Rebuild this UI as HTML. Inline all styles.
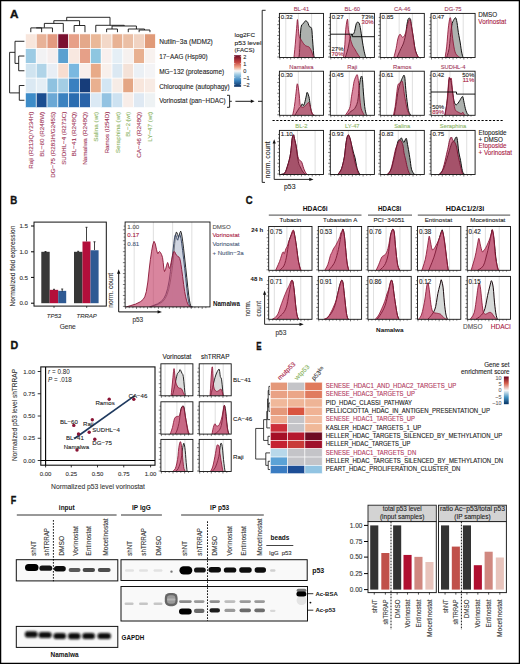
<!DOCTYPE html>
<html><head><meta charset="utf-8"><title>Figure</title>
<style>
html,body{margin:0;padding:0;background:#fff;}
body{width:520px;height:664px;overflow:hidden;}
svg{display:block;font-family:"Liberation Sans", sans-serif;}
</style></head><body>
<svg width="520" height="664" viewBox="0 0 520 664">
<rect x="0" y="0" width="520" height="664" fill="#fff"/>
<text x="10.00" y="17.70" font-size="11.2" fill="#111" font-weight="bold" textLength="8.5" lengthAdjust="spacingAndGlyphs" stroke="#111" stroke-width="0.35">A</text>
<rect x="25.40" y="33.90" width="10.83" height="14.75" fill="#f8e6dc" stroke="#fff" stroke-width="0.65" />
<rect x="36.23" y="33.90" width="10.83" height="14.75" fill="#e8b298" stroke="#fff" stroke-width="0.65" />
<rect x="47.06" y="33.90" width="10.83" height="14.75" fill="#e39a80" stroke="#fff" stroke-width="0.65" />
<rect x="57.89" y="33.90" width="10.83" height="14.75" fill="#7a1030" stroke="#fff" stroke-width="0.65" />
<rect x="68.72" y="33.90" width="10.83" height="14.75" fill="#e7a088" stroke="#fff" stroke-width="0.65" />
<rect x="79.55" y="33.90" width="10.83" height="14.75" fill="#e4a88a" stroke="#fff" stroke-width="0.65" />
<rect x="90.38" y="33.90" width="10.83" height="14.75" fill="#eab898" stroke="#fff" stroke-width="0.65" />
<rect x="101.21" y="33.90" width="10.83" height="14.75" fill="#f3d8c8" stroke="#fff" stroke-width="0.65" />
<rect x="112.04" y="33.90" width="10.83" height="14.75" fill="#e8b294" stroke="#fff" stroke-width="0.65" />
<rect x="122.87" y="33.90" width="10.83" height="14.75" fill="#ebbfa5" stroke="#fff" stroke-width="0.65" />
<rect x="133.70" y="33.90" width="10.83" height="14.75" fill="#f1d3c2" stroke="#fff" stroke-width="0.65" />
<rect x="144.53" y="33.90" width="10.83" height="14.75" fill="#e09a78" stroke="#fff" stroke-width="0.65" />
<rect x="25.40" y="48.65" width="10.83" height="14.75" fill="#9ccbe4" stroke="#fff" stroke-width="0.65" />
<rect x="36.23" y="48.65" width="10.83" height="14.75" fill="#f2f2f4" stroke="#fff" stroke-width="0.65" />
<rect x="47.06" y="48.65" width="10.83" height="14.75" fill="#f5eeee" stroke="#fff" stroke-width="0.65" />
<rect x="57.89" y="48.65" width="10.83" height="14.75" fill="#5aa0d0" stroke="#fff" stroke-width="0.65" />
<rect x="68.72" y="48.65" width="10.83" height="14.75" fill="#f8e8e0" stroke="#fff" stroke-width="0.65" />
<rect x="79.55" y="48.65" width="10.83" height="14.75" fill="#e6a088" stroke="#fff" stroke-width="0.65" />
<rect x="90.38" y="48.65" width="10.83" height="14.75" fill="#8ec6e0" stroke="#fff" stroke-width="0.65" />
<rect x="101.21" y="48.65" width="10.83" height="14.75" fill="#f8f0ee" stroke="#fff" stroke-width="0.65" />
<rect x="112.04" y="48.65" width="10.83" height="14.75" fill="#e5eff6" stroke="#fff" stroke-width="0.65" />
<rect x="122.87" y="48.65" width="10.83" height="14.75" fill="#f6f1ef" stroke="#fff" stroke-width="0.65" />
<rect x="133.70" y="48.65" width="10.83" height="14.75" fill="#e8b090" stroke="#fff" stroke-width="0.65" />
<rect x="144.53" y="48.65" width="10.83" height="14.75" fill="#f8f2ef" stroke="#fff" stroke-width="0.65" />
<rect x="25.40" y="63.40" width="10.83" height="14.75" fill="#d0e4f0" stroke="#fff" stroke-width="0.65" />
<rect x="36.23" y="63.40" width="10.83" height="14.75" fill="#b0d4e8" stroke="#fff" stroke-width="0.65" />
<rect x="47.06" y="63.40" width="10.83" height="14.75" fill="#e8eef5" stroke="#fff" stroke-width="0.65" />
<rect x="57.89" y="63.40" width="10.83" height="14.75" fill="#f7ddd0" stroke="#fff" stroke-width="0.65" />
<rect x="68.72" y="63.40" width="10.83" height="14.75" fill="#7ab8e0" stroke="#fff" stroke-width="0.65" />
<rect x="79.55" y="63.40" width="10.83" height="14.75" fill="#f9efec" stroke="#fff" stroke-width="0.65" />
<rect x="90.38" y="63.40" width="10.83" height="14.75" fill="#e8aa88" stroke="#fff" stroke-width="0.65" />
<rect x="101.21" y="63.40" width="10.83" height="14.75" fill="#f8f0ec" stroke="#fff" stroke-width="0.65" />
<rect x="112.04" y="63.40" width="10.83" height="14.75" fill="#dbe8f2" stroke="#fff" stroke-width="0.65" />
<rect x="122.87" y="63.40" width="10.83" height="14.75" fill="#f4e2d8" stroke="#fff" stroke-width="0.65" />
<rect x="133.70" y="63.40" width="10.83" height="14.75" fill="#ebf0f5" stroke="#fff" stroke-width="0.65" />
<rect x="144.53" y="63.40" width="10.83" height="14.75" fill="#f4f4f6" stroke="#fff" stroke-width="0.65" />
<rect x="25.40" y="78.15" width="10.83" height="14.75" fill="#dbe9f3" stroke="#fff" stroke-width="0.65" />
<rect x="36.23" y="78.15" width="10.83" height="14.75" fill="#e4eef5" stroke="#fff" stroke-width="0.65" />
<rect x="47.06" y="78.15" width="10.83" height="14.75" fill="#8fc2e0" stroke="#fff" stroke-width="0.65" />
<rect x="57.89" y="78.15" width="10.83" height="14.75" fill="#a4cde4" stroke="#fff" stroke-width="0.65" />
<rect x="68.72" y="78.15" width="10.83" height="14.75" fill="#3a80c0" stroke="#fff" stroke-width="0.65" />
<rect x="79.55" y="78.15" width="10.83" height="14.75" fill="#173d7a" stroke="#fff" stroke-width="0.65" />
<rect x="90.38" y="78.15" width="10.83" height="14.75" fill="#e9b090" stroke="#fff" stroke-width="0.65" />
<rect x="101.21" y="78.15" width="10.83" height="14.75" fill="#d3e6f3" stroke="#fff" stroke-width="0.65" />
<rect x="112.04" y="78.15" width="10.83" height="14.75" fill="#f6ece6" stroke="#fff" stroke-width="0.65" />
<rect x="122.87" y="78.15" width="10.83" height="14.75" fill="#e4a684" stroke="#fff" stroke-width="0.65" />
<rect x="133.70" y="78.15" width="10.83" height="14.75" fill="#f8e6dc" stroke="#fff" stroke-width="0.65" />
<rect x="144.53" y="78.15" width="10.83" height="14.75" fill="#f8ebe4" stroke="#fff" stroke-width="0.65" />
<rect x="25.40" y="92.90" width="10.83" height="14.75" fill="#3d8cc8" stroke="#fff" stroke-width="0.65" />
<rect x="36.23" y="92.90" width="10.83" height="14.75" fill="#1a4d90" stroke="#fff" stroke-width="0.65" />
<rect x="47.06" y="92.90" width="10.83" height="14.75" fill="#6ba8d5" stroke="#fff" stroke-width="0.65" />
<rect x="57.89" y="92.90" width="10.83" height="14.75" fill="#3b82c0" stroke="#fff" stroke-width="0.65" />
<rect x="68.72" y="92.90" width="10.83" height="14.75" fill="#2a6cb0" stroke="#fff" stroke-width="0.65" />
<rect x="79.55" y="92.90" width="10.83" height="14.75" fill="#2a63a8" stroke="#fff" stroke-width="0.65" />
<rect x="90.38" y="92.90" width="10.83" height="14.75" fill="#dbe9f4" stroke="#fff" stroke-width="0.65" />
<rect x="101.21" y="92.90" width="10.83" height="14.75" fill="#93c3e2" stroke="#fff" stroke-width="0.65" />
<rect x="112.04" y="92.90" width="10.83" height="14.75" fill="#cde2f1" stroke="#fff" stroke-width="0.65" />
<rect x="122.87" y="92.90" width="10.83" height="14.75" fill="#f8ede8" stroke="#fff" stroke-width="0.65" />
<rect x="133.70" y="92.90" width="10.83" height="14.75" fill="#dfe9f3" stroke="#fff" stroke-width="0.65" />
<rect x="144.53" y="92.90" width="10.83" height="14.75" fill="#eef2f4" stroke="#fff" stroke-width="0.65" />
<text x="159.20" y="44.27" font-size="6.5" fill="#222" textLength="53.6" lengthAdjust="spacingAndGlyphs" stroke="#222" stroke-width="0.1" >Nutlin−3a (MDM2)</text>
<text x="159.20" y="59.02" font-size="6.5" fill="#222" textLength="48.5" lengthAdjust="spacingAndGlyphs" stroke="#222" stroke-width="0.1" >17−AAG (Hsp90)</text>
<text x="159.20" y="73.78" font-size="6.5" fill="#222" textLength="65" lengthAdjust="spacingAndGlyphs" stroke="#222" stroke-width="0.1" >MG−132 (proteasome)</text>
<text x="159.20" y="88.53" font-size="6.5" fill="#222" textLength="70.4" lengthAdjust="spacingAndGlyphs" stroke="#222" stroke-width="0.1" >Chloroquine (autophagy)</text>
<text x="159.20" y="103.28" font-size="6.5" fill="#222" textLength="66.5" lengthAdjust="spacingAndGlyphs" stroke="#222" stroke-width="0.1" >Vorinostat (pan−HDAC)</text>
<text x="33.02" y="111.80" font-size="6.1" fill="#a33a5c" text-anchor="end" textLength="57" lengthAdjust="spacingAndGlyphs" transform="rotate(-90 33.02 111.80)" stroke="#a33a5c" stroke-width="0.1" >Raji (R213Q/Y234H)</text>
<text x="43.84" y="111.80" font-size="6.1" fill="#a33a5c" text-anchor="end" textLength="45" lengthAdjust="spacingAndGlyphs" transform="rotate(-90 43.84 111.80)" stroke="#a33a5c" stroke-width="0.1" >BL−60 (R248W)</text>
<text x="54.67" y="111.80" font-size="6.1" fill="#a33a5c" text-anchor="end" textLength="66" lengthAdjust="spacingAndGlyphs" transform="rotate(-90 54.67 111.80)" stroke="#a33a5c" stroke-width="0.1" >DG−75 (R283H/G245S)</text>
<text x="65.51" y="111.80" font-size="6.1" fill="#a33a5c" text-anchor="end" textLength="53" lengthAdjust="spacingAndGlyphs" transform="rotate(-90 65.51 111.80)" stroke="#a33a5c" stroke-width="0.1" >SUDHL−4 (R273C)</text>
<text x="76.33" y="111.80" font-size="6.1" fill="#a33a5c" text-anchor="end" textLength="44.6" lengthAdjust="spacingAndGlyphs" transform="rotate(-90 76.33 111.80)" stroke="#a33a5c" stroke-width="0.1" >BL−41 (R248Q)</text>
<text x="87.17" y="111.80" font-size="6.1" fill="#a33a5c" text-anchor="end" textLength="53" lengthAdjust="spacingAndGlyphs" transform="rotate(-90 87.17 111.80)" stroke="#a33a5c" stroke-width="0.1" >Namalwa (R248Q)</text>
<text x="97.99" y="111.80" font-size="6.1" fill="#8db565" text-anchor="end" textLength="30" lengthAdjust="spacingAndGlyphs" transform="rotate(-90 97.99 111.80)" stroke="#8db565" stroke-width="0.1" >Salina (wt)</text>
<text x="108.83" y="111.80" font-size="6.1" fill="#a33a5c" text-anchor="end" textLength="41.5" lengthAdjust="spacingAndGlyphs" transform="rotate(-90 108.83 111.80)" stroke="#a33a5c" stroke-width="0.1" >Ramos (I254D)</text>
<text x="119.66" y="111.80" font-size="6.1" fill="#8db565" text-anchor="end" textLength="41.5" lengthAdjust="spacingAndGlyphs" transform="rotate(-90 119.66 111.80)" stroke="#8db565" stroke-width="0.1" >Seraphina (wt)</text>
<text x="130.48" y="111.80" font-size="6.1" fill="#8db565" text-anchor="end" textLength="25" lengthAdjust="spacingAndGlyphs" transform="rotate(-90 130.48 111.80)" stroke="#8db565" stroke-width="0.1" >BL−2 (wt)</text>
<text x="141.31" y="111.80" font-size="6.1" fill="#a33a5c" text-anchor="end" textLength="46" lengthAdjust="spacingAndGlyphs" transform="rotate(-90 141.31 111.80)" stroke="#a33a5c" stroke-width="0.1" >CA−46 (R248Q)</text>
<text x="152.14" y="111.80" font-size="6.1" fill="#8db565" text-anchor="end" textLength="30" lengthAdjust="spacingAndGlyphs" transform="rotate(-90 152.14 111.80)" stroke="#8db565" stroke-width="0.1" >LY−47 (wt)</text>
<path d="M30.81,32.20V27.90H41.64V32.20 M36.23,27.90V27.90H52.47V32.20 M44.35,27.60V23.40H63.30V32.20 M74.13,32.20V25.50H84.97V32.20 M53.83,23.40V20.70H79.55V25.50 M139.12,32.20V30.00H149.94V32.20 M128.28,32.20V29.00H144.53V30.00 M106.62,32.20V29.00H117.46V32.20 M112.04,29.00V26.00H136.41V29.00 M95.79,32.20V25.30H124.22V26.00 M66.69,20.70V17.30H110.01V25.30" stroke="#111" stroke-width="0.9" fill="none"/>
<path d="M24.40,56.02H18.70V70.78H24.40 M24.40,41.27H15.00V63.40H18.70 M24.40,85.53H19.30V100.28H24.40 M15.00,52.34H9.60V92.90H19.30" stroke="#111" stroke-width="0.9" fill="none"/>
<text x="234.50" y="36.60" font-size="6.2" fill="#222" textLength="20.5" lengthAdjust="spacingAndGlyphs" stroke="#222" stroke-width="0.1" >log2FC</text>
<text x="234.50" y="44.60" font-size="6.2" fill="#222" textLength="27" lengthAdjust="spacingAndGlyphs" stroke="#222" stroke-width="0.1" >p53 level</text>
<text x="234.50" y="52.40" font-size="6.2" fill="#222" textLength="20" lengthAdjust="spacingAndGlyphs" stroke="#222" stroke-width="0.1" >(FACS)</text>
<defs><linearGradient id="gA" x1="0" y1="0" x2="0" y2="1"><stop offset="0" stop-color="#6b0a26"/><stop offset="0.22" stop-color="#c5443f"/><stop offset="0.38" stop-color="#f0a78a"/><stop offset="0.5" stop-color="#f7f7f7"/><stop offset="0.62" stop-color="#9bc8e2"/><stop offset="0.8" stop-color="#3c85c0"/><stop offset="1" stop-color="#0d3062"/></linearGradient></defs>
<rect x="234.10" y="55.20" width="7.00" height="31.60" fill="url(#gA)" />
<text x="243.30" y="58.80" font-size="5.6" fill="#333" stroke="#333" stroke-width="0.1" >2</text>
<line x1="234.10" y1="56.60" x2="235.30" y2="56.60" stroke="#fff" stroke-width="0.5" />
<line x1="239.90" y1="56.60" x2="241.10" y2="56.60" stroke="#fff" stroke-width="0.5" />
<text x="243.30" y="65.70" font-size="5.6" fill="#333" stroke="#333" stroke-width="0.1" >1</text>
<line x1="234.10" y1="63.50" x2="235.30" y2="63.50" stroke="#fff" stroke-width="0.5" />
<line x1="239.90" y1="63.50" x2="241.10" y2="63.50" stroke="#fff" stroke-width="0.5" />
<text x="243.30" y="72.90" font-size="5.6" fill="#333" stroke="#333" stroke-width="0.1" >0</text>
<line x1="234.10" y1="70.70" x2="235.30" y2="70.70" stroke="#fff" stroke-width="0.5" />
<line x1="239.90" y1="70.70" x2="241.10" y2="70.70" stroke="#fff" stroke-width="0.5" />
<text x="243.30" y="79.80" font-size="5.6" fill="#333" stroke="#333" stroke-width="0.1" >−1</text>
<line x1="234.10" y1="77.60" x2="235.30" y2="77.60" stroke="#fff" stroke-width="0.5" />
<line x1="239.90" y1="77.60" x2="241.10" y2="77.60" stroke="#fff" stroke-width="0.5" />
<text x="243.30" y="86.80" font-size="5.6" fill="#333" stroke="#333" stroke-width="0.1" >−2</text>
<line x1="234.10" y1="84.60" x2="235.30" y2="84.60" stroke="#fff" stroke-width="0.5" />
<line x1="239.90" y1="84.60" x2="241.10" y2="84.60" stroke="#fff" stroke-width="0.5" />
<path d="M227.0,95.3 H229.6 V107.3 H227.0 M229.6,101.3 H231.8" stroke="#111" stroke-width="0.9" fill="none"/>
<line x1="235.40" y1="101.30" x2="252.00" y2="101.30" stroke="#000" stroke-width="0.9" />
<path d="M254.6,101.3 L250.8,99.6 L250.8,103.0 Z" fill="#111"/>
<line x1="258.00" y1="101.30" x2="262.20" y2="101.30" stroke="#000" stroke-width="0.9" />
<path d="M265.6,10.3 H262.2 V182.4 H265.0" stroke="#111" stroke-width="0.9" fill="none"/>
<rect x="279.40" y="13.40" width="44.10" height="44.10" fill="#fff" />
<line x1="285.79" y1="13.40" x2="285.79" y2="57.50" stroke="#c9c9c9" stroke-width="0.6" />
<line x1="298.36" y1="13.40" x2="298.36" y2="57.50" stroke="#c9c9c9" stroke-width="0.6" />
<line x1="311.59" y1="13.40" x2="311.59" y2="57.50" stroke="#c9c9c9" stroke-width="0.6" />
<path d="M297.04,57.50 L297.60,57.50 L298.39,57.47 L299.02,56.62 L299.32,54.98 L299.47,52.57 L299.69,48.68 L300.04,41.97 L300.46,33.78 L301.01,27.51 L301.75,24.87 L302.62,24.13 L303.43,23.54 L304.12,22.42 L304.76,21.44 L305.42,20.90 L306.15,20.93 L306.91,21.40 L307.62,22.22 L308.23,23.56 L308.78,25.24 L309.39,26.63 L310.14,27.10 L310.94,27.28 L311.59,28.39 L311.97,30.91 L312.20,34.36 L312.47,38.54 L312.90,44.17 L313.37,50.54 L313.80,55.30 L314.16,57.19 L314.47,57.47 L314.68,57.50 Z" fill="#a6aaa7" fill-opacity="0.92" stroke="none"/>
<path d="M297.04,57.50 L297.60,57.50 L298.39,57.47 L299.02,56.62 L299.32,54.98 L299.47,52.57 L299.69,48.68 L300.04,41.97 L300.46,33.78 L301.01,27.51 L301.75,24.87 L302.62,24.13 L303.43,23.54 L304.12,22.42 L304.76,21.44 L305.42,20.90 L306.15,20.93 L306.91,21.40 L307.62,22.22 L308.23,23.56 L308.78,25.24 L309.39,26.63 L310.14,27.10 L310.94,27.28 L311.59,28.39 L311.97,30.91 L312.20,34.36 L312.47,38.54 L312.90,44.17 L313.37,50.54 L313.80,55.30 L314.16,57.19 L314.47,57.47 L314.68,57.50" fill="none" stroke="#111" stroke-width="1.0" stroke-linejoin="round"/>
<path d="M293.95,57.50 L294.30,54.17 L294.79,49.37 L295.28,44.27 L295.73,38.91 L296.19,33.26 L296.60,28.39 L296.93,24.28 L297.20,20.95 L297.48,19.57 L297.77,21.24 L298.07,24.87 L298.36,28.39 L298.61,31.25 L298.85,34.01 L299.25,36.33 L299.89,37.98 L300.68,39.19 L301.45,40.30 L302.13,41.43 L302.78,42.46 L303.43,43.39 L304.09,44.24 L304.74,44.99 L305.42,45.59 L306.15,45.98 L306.91,46.23 L307.62,46.48 L308.23,46.65 L308.78,46.83 L309.39,47.36 L310.11,48.40 L310.87,49.79 L311.59,51.33 L312.25,53.16 L312.85,55.13 L313.36,56.62 L313.75,57.27 L314.04,57.43 L314.24,57.50 Z" fill="#c0305a" fill-opacity="0.58" stroke="none"/>
<path d="M293.95,57.50 L294.30,54.17 L294.79,49.37 L295.28,44.27 L295.73,38.91 L296.19,33.26 L296.60,28.39 L296.93,24.28 L297.20,20.95 L297.48,19.57 L297.77,21.24 L298.07,24.87 L298.36,28.39 L298.61,31.25 L298.85,34.01 L299.25,36.33 L299.89,37.98 L300.68,39.19 L301.45,40.30 L302.13,41.43 L302.78,42.46 L303.43,43.39 L304.09,44.24 L304.74,44.99 L305.42,45.59 L306.15,45.98 L306.91,46.23 L307.62,46.48 L308.23,46.65 L308.78,46.83 L309.39,47.36 L310.11,48.40 L310.87,49.79 L311.59,51.33 L312.25,53.16 L312.85,55.13 L313.36,56.62 L313.75,57.27 L314.04,57.43 L314.24,57.50" fill="none" stroke="#8a1535" stroke-width="0.85" stroke-linejoin="round"/>
<rect x="279.40" y="13.40" width="44.10" height="44.10" fill="none" stroke="#111" stroke-width="0.9" />
<path d="M277.20,57.00h2.20 M278.00,53.41h1.40 M278.00,49.82h1.40 M277.20,46.23h2.20 M278.00,42.63h1.40 M278.00,39.04h1.40 M277.20,35.45h2.20 M278.00,31.86h1.40 M278.00,28.27h1.40 M277.20,24.67h2.20 M278.00,21.08h1.40 M278.00,17.49h1.40 M279.90,57.50v2.00 M283.49,57.50v1.30 M287.08,57.50v1.30 M290.67,57.50v2.00 M294.27,57.50v1.30 M297.86,57.50v1.30 M301.45,57.50v2.00 M305.04,57.50v1.30 M308.63,57.50v1.30 M312.22,57.50v2.00 M315.82,57.50v1.30 M319.41,57.50v1.30" stroke="#222" stroke-width="0.6"/>
<text x="280.80" y="19.10" font-size="6.1" fill="#222" stroke="#222" stroke-width="0.1" >0.32</text>
<text x="301.45" y="11.30" font-size="5.8" fill="#a33a5c" text-anchor="middle" stroke="#a33a5c" stroke-width="0.1" >BL-41</text>
<rect x="330.30" y="13.40" width="44.10" height="44.10" fill="#fff" />
<line x1="336.69" y1="13.40" x2="336.69" y2="57.50" stroke="#c9c9c9" stroke-width="0.6" />
<line x1="349.26" y1="13.40" x2="349.26" y2="57.50" stroke="#c9c9c9" stroke-width="0.6" />
<line x1="362.49" y1="13.40" x2="362.49" y2="57.50" stroke="#c9c9c9" stroke-width="0.6" />
<path d="M345.29,57.50 L346.00,55.28 L346.99,52.08 L347.94,48.68 L348.74,45.02 L349.49,41.17 L350.15,38.10 L350.64,36.28 L351.03,35.25 L351.47,34.57 L352.04,34.27 L352.66,34.32 L353.23,34.13 L353.69,33.60 L354.10,32.84 L354.56,31.48 L355.11,28.98 L355.71,25.90 L356.32,23.54 L356.92,22.50 L357.53,22.19 L358.08,22.22 L358.56,22.42 L358.98,22.96 L359.41,23.98 L359.83,25.50 L360.26,27.51 L360.73,30.16 L361.28,33.78 L361.89,38.05 L362.49,42.06 L363.10,45.64 L363.70,48.97 L364.26,51.77 L364.75,53.89 L365.19,55.47 L365.58,56.62 L365.94,57.24 L366.25,57.42 L366.46,57.50 Z" fill="#a6aaa7" fill-opacity="0.92" stroke="none"/>
<path d="M345.29,57.50 L346.00,55.28 L346.99,52.08 L347.94,48.68 L348.74,45.02 L349.49,41.17 L350.15,38.10 L350.64,36.28 L351.03,35.25 L351.47,34.57 L352.04,34.27 L352.66,34.32 L353.23,34.13 L353.69,33.60 L354.10,32.84 L354.56,31.48 L355.11,28.98 L355.71,25.90 L356.32,23.54 L356.92,22.50 L357.53,22.19 L358.08,22.22 L358.56,22.42 L358.98,22.96 L359.41,23.98 L359.83,25.50 L360.26,27.51 L360.73,30.16 L361.28,33.78 L361.89,38.05 L362.49,42.06 L363.10,45.64 L363.70,48.97 L364.26,51.77 L364.75,53.89 L365.19,55.47 L365.58,56.62 L365.94,57.24 L366.25,57.42 L366.46,57.50" fill="none" stroke="#111" stroke-width="1.0" stroke-linejoin="round"/>
<path d="M343.53,57.50 L343.89,54.14 L344.40,49.30 L344.85,44.27 L345.15,39.22 L345.39,33.98 L345.74,29.28 L346.29,24.78 L346.94,20.83 L347.50,19.13 L347.84,21.13 L348.09,25.37 L348.38,29.28 L348.79,31.94 L349.25,34.26 L349.70,36.33 L350.13,38.11 L350.55,39.65 L351.03,41.18 L351.58,42.88 L352.19,44.58 L352.79,46.03 L353.36,47.03 L353.93,47.78 L354.56,48.68 L355.24,49.90 L355.98,51.28 L356.76,52.65 L357.67,54.09 L358.64,55.52 L359.41,56.62 L359.86,57.17 L360.12,57.39 L360.29,57.50 Z" fill="#c0305a" fill-opacity="0.58" stroke="none"/>
<path d="M343.53,57.50 L343.89,54.14 L344.40,49.30 L344.85,44.27 L345.15,39.22 L345.39,33.98 L345.74,29.28 L346.29,24.78 L346.94,20.83 L347.50,19.13 L347.84,21.13 L348.09,25.37 L348.38,29.28 L348.79,31.94 L349.25,34.26 L349.70,36.33 L350.13,38.11 L350.55,39.65 L351.03,41.18 L351.58,42.88 L352.19,44.58 L352.79,46.03 L353.36,47.03 L353.93,47.78 L354.56,48.68 L355.24,49.90 L355.98,51.28 L356.76,52.65 L357.67,54.09 L358.64,55.52 L359.41,56.62 L359.86,57.17 L360.12,57.39 L360.29,57.50" fill="none" stroke="#8a1535" stroke-width="0.85" stroke-linejoin="round"/>
<rect x="330.30" y="13.40" width="44.10" height="44.10" fill="none" stroke="#111" stroke-width="0.9" />
<path d="M328.10,57.00h2.20 M328.90,53.41h1.40 M328.90,49.82h1.40 M328.10,46.23h2.20 M328.90,42.63h1.40 M328.90,39.04h1.40 M328.10,35.45h2.20 M328.90,31.86h1.40 M328.90,28.27h1.40 M328.10,24.67h2.20 M328.90,21.08h1.40 M328.90,17.49h1.40 M330.80,57.50v2.00 M334.39,57.50v1.30 M337.98,57.50v1.30 M341.57,57.50v2.00 M345.17,57.50v1.30 M348.76,57.50v1.30 M352.35,57.50v2.00 M355.94,57.50v1.30 M359.53,57.50v1.30 M363.12,57.50v2.00 M366.72,57.50v1.30 M370.31,57.50v1.30" stroke="#222" stroke-width="0.6"/>
<text x="331.70" y="19.10" font-size="6.1" fill="#222" stroke="#222" stroke-width="0.1" >0.27</text>
<text x="352.35" y="11.30" font-size="5.8" fill="#a33a5c" text-anchor="middle" stroke="#a33a5c" stroke-width="0.1" >BL-60</text>
<rect x="380.20" y="13.40" width="44.10" height="44.10" fill="#fff" />
<line x1="386.59" y1="13.40" x2="386.59" y2="57.50" stroke="#c9c9c9" stroke-width="0.6" />
<line x1="399.16" y1="13.40" x2="399.16" y2="57.50" stroke="#c9c9c9" stroke-width="0.6" />
<line x1="412.39" y1="13.40" x2="412.39" y2="57.50" stroke="#c9c9c9" stroke-width="0.6" />
<path d="M396.96,57.50 L398.04,55.10 L399.55,51.72 L400.93,48.68 L401.92,46.65 L402.77,44.97 L403.57,42.95 L404.39,40.19 L405.16,37.08 L405.78,34.13 L406.15,31.51 L406.38,29.05 L406.66,26.63 L407.07,24.03 L407.53,21.49 L407.98,19.57 L408.42,18.61 L408.87,18.28 L409.31,18.25 L409.76,18.28 L410.22,18.61 L410.63,19.57 L410.92,21.37 L411.17,23.80 L411.51,26.63 L412.03,29.86 L412.65,33.49 L413.27,37.21 L413.86,41.18 L414.45,45.25 L415.04,48.68 L415.64,51.11 L416.25,52.91 L416.80,54.41 L417.33,55.75 L417.80,56.80 L418.13,57.50 Z" fill="#a6aaa7" fill-opacity="0.92" stroke="none"/>
<path d="M396.96,57.50 L398.04,55.10 L399.55,51.72 L400.93,48.68 L401.92,46.65 L402.77,44.97 L403.57,42.95 L404.39,40.19 L405.16,37.08 L405.78,34.13 L406.15,31.51 L406.38,29.05 L406.66,26.63 L407.07,24.03 L407.53,21.49 L407.98,19.57 L408.42,18.61 L408.87,18.28 L409.31,18.25 L409.76,18.28 L410.22,18.61 L410.63,19.57 L410.92,21.37 L411.17,23.80 L411.51,26.63 L412.03,29.86 L412.65,33.49 L413.27,37.21 L413.86,41.18 L414.45,45.25 L415.04,48.68 L415.64,51.11 L416.25,52.91 L416.80,54.41 L417.33,55.75 L417.80,56.80 L418.13,57.50" fill="none" stroke="#111" stroke-width="1.0" stroke-linejoin="round"/>
<path d="M393.87,57.50 L394.46,55.25 L395.29,52.01 L396.08,48.68 L396.70,45.32 L397.27,41.85 L397.84,38.98 L398.44,36.94 L399.05,35.48 L399.60,34.57 L400.08,34.29 L400.50,34.55 L400.93,35.01 L401.35,35.73 L401.78,36.64 L402.25,37.21 L402.81,37.26 L403.41,36.97 L404.01,36.33 L404.62,35.30 L405.22,33.93 L405.78,32.36 L406.25,30.55 L406.68,28.54 L407.10,26.63 L407.54,24.85 L407.98,23.17 L408.42,21.78 L408.87,20.62 L409.31,19.75 L409.75,19.57 L410.17,20.19 L410.60,21.50 L411.07,23.54 L411.63,26.50 L412.23,30.19 L412.83,34.13 L413.42,38.46 L414.01,43.03 L414.60,46.92 L415.15,49.68 L415.71,51.75 L416.36,53.53 L417.28,55.20 L418.29,56.57 L419.01,57.50 Z" fill="#c0305a" fill-opacity="0.58" stroke="none"/>
<path d="M393.87,57.50 L394.46,55.25 L395.29,52.01 L396.08,48.68 L396.70,45.32 L397.27,41.85 L397.84,38.98 L398.44,36.94 L399.05,35.48 L399.60,34.57 L400.08,34.29 L400.50,34.55 L400.93,35.01 L401.35,35.73 L401.78,36.64 L402.25,37.21 L402.81,37.26 L403.41,36.97 L404.01,36.33 L404.62,35.30 L405.22,33.93 L405.78,32.36 L406.25,30.55 L406.68,28.54 L407.10,26.63 L407.54,24.85 L407.98,23.17 L408.42,21.78 L408.87,20.62 L409.31,19.75 L409.75,19.57 L410.17,20.19 L410.60,21.50 L411.07,23.54 L411.63,26.50 L412.23,30.19 L412.83,34.13 L413.42,38.46 L414.01,43.03 L414.60,46.92 L415.15,49.68 L415.71,51.75 L416.36,53.53 L417.28,55.20 L418.29,56.57 L419.01,57.50" fill="none" stroke="#8a1535" stroke-width="0.85" stroke-linejoin="round"/>
<rect x="380.20" y="13.40" width="44.10" height="44.10" fill="none" stroke="#111" stroke-width="0.9" />
<path d="M378.00,57.00h2.20 M378.80,53.41h1.40 M378.80,49.82h1.40 M378.00,46.23h2.20 M378.80,42.63h1.40 M378.80,39.04h1.40 M378.00,35.45h2.20 M378.80,31.86h1.40 M378.80,28.27h1.40 M378.00,24.67h2.20 M378.80,21.08h1.40 M378.80,17.49h1.40 M380.70,57.50v2.00 M384.29,57.50v1.30 M387.88,57.50v1.30 M391.47,57.50v2.00 M395.07,57.50v1.30 M398.66,57.50v1.30 M402.25,57.50v2.00 M405.84,57.50v1.30 M409.43,57.50v1.30 M413.02,57.50v2.00 M416.62,57.50v1.30 M420.21,57.50v1.30" stroke="#222" stroke-width="0.6"/>
<text x="381.60" y="19.10" font-size="6.1" fill="#222" stroke="#222" stroke-width="0.1" >0.85</text>
<text x="402.25" y="11.30" font-size="5.8" fill="#a33a5c" text-anchor="middle" stroke="#a33a5c" stroke-width="0.1" >CA-46</text>
<rect x="431.00" y="13.40" width="44.10" height="44.10" fill="#fff" />
<line x1="437.39" y1="13.40" x2="437.39" y2="57.50" stroke="#c9c9c9" stroke-width="0.6" />
<line x1="449.96" y1="13.40" x2="449.96" y2="57.50" stroke="#c9c9c9" stroke-width="0.6" />
<line x1="463.19" y1="13.40" x2="463.19" y2="57.50" stroke="#c9c9c9" stroke-width="0.6" />
<path d="M446.66,57.50 L447.31,55.49 L448.23,52.50 L449.08,48.68 L449.73,43.52 L450.31,37.52 L450.85,32.36 L451.30,28.69 L451.71,25.85 L452.17,23.54 L452.72,21.78 L453.33,20.55 L453.93,19.57 L454.54,18.58 L455.14,17.83 L455.70,17.81 L456.17,18.76 L456.59,20.44 L457.02,22.66 L457.44,25.54 L457.87,28.95 L458.34,32.36 L458.91,35.63 L459.53,38.90 L460.11,42.06 L460.58,45.18 L461.00,48.21 L461.43,50.88 L461.89,53.20 L462.34,55.18 L462.75,56.62 L463.11,57.30 L463.42,57.45 L463.63,57.50 Z" fill="#a6aaa7" fill-opacity="0.92" stroke="none"/>
<path d="M446.66,57.50 L447.31,55.49 L448.23,52.50 L449.08,48.68 L449.73,43.52 L450.31,37.52 L450.85,32.36 L451.30,28.69 L451.71,25.85 L452.17,23.54 L452.72,21.78 L453.33,20.55 L453.93,19.57 L454.54,18.58 L455.14,17.83 L455.70,17.81 L456.17,18.76 L456.59,20.44 L457.02,22.66 L457.44,25.54 L457.87,28.95 L458.34,32.36 L458.91,35.63 L459.53,38.90 L460.11,42.06 L460.58,45.18 L461.00,48.21 L461.43,50.88 L461.89,53.20 L462.34,55.18 L462.75,56.62 L463.11,57.30 L463.42,57.45 L463.63,57.50" fill="none" stroke="#111" stroke-width="1.0" stroke-linejoin="round"/>
<path d="M445.11,57.50 L445.51,55.02 L446.08,51.36 L446.66,46.92 L447.18,41.26 L447.70,34.83 L448.20,29.28 L448.67,25.16 L449.12,21.93 L449.52,19.57 L449.85,18.15 L450.13,17.61 L450.40,17.81 L450.70,18.69 L450.99,20.31 L451.29,22.66 L451.55,25.94 L451.81,29.96 L452.17,34.13 L452.69,38.52 L453.31,43.06 L453.93,46.92 L454.49,49.71 L455.04,51.82 L455.70,53.53 L456.55,54.90 L457.49,55.88 L458.34,56.62 L459.06,57.11 L459.68,57.35 L460.11,57.50 Z" fill="#c0305a" fill-opacity="0.58" stroke="none"/>
<path d="M445.11,57.50 L445.51,55.02 L446.08,51.36 L446.66,46.92 L447.18,41.26 L447.70,34.83 L448.20,29.28 L448.67,25.16 L449.12,21.93 L449.52,19.57 L449.85,18.15 L450.13,17.61 L450.40,17.81 L450.70,18.69 L450.99,20.31 L451.29,22.66 L451.55,25.94 L451.81,29.96 L452.17,34.13 L452.69,38.52 L453.31,43.06 L453.93,46.92 L454.49,49.71 L455.04,51.82 L455.70,53.53 L456.55,54.90 L457.49,55.88 L458.34,56.62 L459.06,57.11 L459.68,57.35 L460.11,57.50" fill="none" stroke="#8a1535" stroke-width="0.85" stroke-linejoin="round"/>
<rect x="431.00" y="13.40" width="44.10" height="44.10" fill="none" stroke="#111" stroke-width="0.9" />
<path d="M428.80,57.00h2.20 M429.60,53.41h1.40 M429.60,49.82h1.40 M428.80,46.23h2.20 M429.60,42.63h1.40 M429.60,39.04h1.40 M428.80,35.45h2.20 M429.60,31.86h1.40 M429.60,28.27h1.40 M428.80,24.67h2.20 M429.60,21.08h1.40 M429.60,17.49h1.40 M431.50,57.50v2.00 M435.09,57.50v1.30 M438.68,57.50v1.30 M442.27,57.50v2.00 M445.87,57.50v1.30 M449.46,57.50v1.30 M453.05,57.50v2.00 M456.64,57.50v1.30 M460.23,57.50v1.30 M463.82,57.50v2.00 M467.42,57.50v1.30 M471.01,57.50v1.30" stroke="#222" stroke-width="0.6"/>
<text x="432.40" y="19.10" font-size="6.1" fill="#222" stroke="#222" stroke-width="0.1" >0.47</text>
<text x="453.05" y="11.30" font-size="5.8" fill="#a33a5c" text-anchor="middle" stroke="#a33a5c" stroke-width="0.1" >DG-75</text>
<rect x="279.40" y="71.20" width="44.10" height="44.10" fill="#fff" />
<line x1="285.79" y1="71.20" x2="285.79" y2="115.30" stroke="#c9c9c9" stroke-width="0.6" />
<line x1="298.36" y1="71.20" x2="298.36" y2="115.30" stroke="#c9c9c9" stroke-width="0.6" />
<line x1="311.59" y1="71.20" x2="311.59" y2="115.30" stroke="#c9c9c9" stroke-width="0.6" />
<path d="M294.83,115.30 L295.93,113.44 L297.46,110.84 L298.80,108.69 L299.70,107.49 L300.40,106.74 L301.01,106.04 L301.52,105.12 L301.92,104.26 L302.33,103.83 L302.77,104.34 L303.21,105.29 L303.65,105.60 L304.10,104.77 L304.54,103.30 L304.98,101.63 L305.44,99.77 L305.89,97.71 L306.30,95.90 L306.59,94.26 L306.84,92.87 L307.18,92.37 L307.74,93.20 L308.39,94.92 L308.95,96.78 L309.31,98.57 L309.57,100.52 L309.83,102.51 L310.11,104.59 L310.38,106.71 L310.71,108.69 L311.10,110.51 L311.54,112.20 L312.03,113.54 L312.65,114.42 L313.32,114.96 L313.80,115.30 Z" fill="#a6aaa7" fill-opacity="0.92" stroke="none"/>
<path d="M294.83,115.30 L295.93,113.44 L297.46,110.84 L298.80,108.69 L299.70,107.49 L300.40,106.74 L301.01,106.04 L301.52,105.12 L301.92,104.26 L302.33,103.83 L302.77,104.34 L303.21,105.29 L303.65,105.60 L304.10,104.77 L304.54,103.30 L304.98,101.63 L305.44,99.77 L305.89,97.71 L306.30,95.90 L306.59,94.26 L306.84,92.87 L307.18,92.37 L307.74,93.20 L308.39,94.92 L308.95,96.78 L309.31,98.57 L309.57,100.52 L309.83,102.51 L310.11,104.59 L310.38,106.71 L310.71,108.69 L311.10,110.51 L311.54,112.20 L312.03,113.54 L312.65,114.42 L313.32,114.96 L313.80,115.30" fill="none" stroke="#111" stroke-width="1.0" stroke-linejoin="round"/>
<path d="M292.63,115.30 L293.09,113.23 L293.74,110.17 L294.39,106.48 L295.01,101.79 L295.64,96.47 L296.16,91.93 L296.52,88.60 L296.78,86.05 L297.04,84.43 L297.32,83.78 L297.60,84.05 L297.92,85.31 L298.35,87.89 L298.82,91.45 L299.25,95.01 L299.57,98.54 L299.85,102.07 L300.13,104.72 L300.39,105.92 L300.65,106.25 L301.01,106.48 L301.53,106.90 L302.15,107.23 L302.77,107.36 L303.36,107.23 L303.95,106.90 L304.54,106.48 L305.11,105.97 L305.68,105.37 L306.30,104.72 L307.04,103.85 L307.82,102.94 L308.51,102.51 L309.01,102.79 L309.42,103.56 L309.83,104.72 L310.25,106.43 L310.68,108.54 L311.15,110.45 L311.71,112.02 L312.31,113.39 L312.92,114.42 L313.57,114.97 L314.22,115.19 L314.68,115.30 Z" fill="#c0305a" fill-opacity="0.58" stroke="none"/>
<path d="M292.63,115.30 L293.09,113.23 L293.74,110.17 L294.39,106.48 L295.01,101.79 L295.64,96.47 L296.16,91.93 L296.52,88.60 L296.78,86.05 L297.04,84.43 L297.32,83.78 L297.60,84.05 L297.92,85.31 L298.35,87.89 L298.82,91.45 L299.25,95.01 L299.57,98.54 L299.85,102.07 L300.13,104.72 L300.39,105.92 L300.65,106.25 L301.01,106.48 L301.53,106.90 L302.15,107.23 L302.77,107.36 L303.36,107.23 L303.95,106.90 L304.54,106.48 L305.11,105.97 L305.68,105.37 L306.30,104.72 L307.04,103.85 L307.82,102.94 L308.51,102.51 L309.01,102.79 L309.42,103.56 L309.83,104.72 L310.25,106.43 L310.68,108.54 L311.15,110.45 L311.71,112.02 L312.31,113.39 L312.92,114.42 L313.57,114.97 L314.22,115.19 L314.68,115.30" fill="none" stroke="#8a1535" stroke-width="0.85" stroke-linejoin="round"/>
<rect x="279.40" y="71.20" width="44.10" height="44.10" fill="none" stroke="#111" stroke-width="0.9" />
<path d="M277.20,114.80h2.20 M278.00,111.21h1.40 M278.00,107.62h1.40 M277.20,104.03h2.20 M278.00,100.43h1.40 M278.00,96.84h1.40 M277.20,93.25h2.20 M278.00,89.66h1.40 M278.00,86.07h1.40 M277.20,82.48h2.20 M278.00,78.88h1.40 M278.00,75.29h1.40 M279.90,115.30v2.00 M283.49,115.30v1.30 M287.08,115.30v1.30 M290.67,115.30v2.00 M294.27,115.30v1.30 M297.86,115.30v1.30 M301.45,115.30v2.00 M305.04,115.30v1.30 M308.63,115.30v1.30 M312.22,115.30v2.00 M315.82,115.30v1.30 M319.41,115.30v1.30" stroke="#222" stroke-width="0.6"/>
<text x="280.80" y="76.90" font-size="6.1" fill="#222" stroke="#222" stroke-width="0.1" >0.30</text>
<text x="301.45" y="69.10" font-size="5.8" fill="#a33a5c" text-anchor="middle" stroke="#a33a5c" stroke-width="0.1" >Namalwa</text>
<rect x="330.30" y="71.20" width="44.10" height="44.10" fill="#fff" />
<line x1="336.69" y1="71.20" x2="336.69" y2="115.30" stroke="#c9c9c9" stroke-width="0.6" />
<line x1="349.26" y1="71.20" x2="349.26" y2="115.30" stroke="#c9c9c9" stroke-width="0.6" />
<line x1="362.49" y1="71.20" x2="362.49" y2="115.30" stroke="#c9c9c9" stroke-width="0.6" />
<path d="M347.06,115.30 L348.10,114.22 L349.59,112.70 L351.03,111.33 L352.25,110.51 L353.43,109.84 L354.56,108.69 L355.68,106.86 L356.76,104.54 L357.64,101.63 L358.21,97.81 L358.59,93.40 L358.97,89.28 L359.41,85.62 L359.85,82.26 L360.29,79.58 L360.75,77.68 L361.20,76.48 L361.61,76.05 L361.94,76.38 L362.22,77.49 L362.49,79.58 L362.77,82.96 L363.05,87.32 L363.38,91.93 L363.78,96.89 L364.24,102.10 L364.70,106.48 L365.16,109.58 L365.61,111.85 L366.02,113.54 L366.38,114.58 L366.69,115.04 L366.90,115.30 Z" fill="#a6aaa7" fill-opacity="0.92" stroke="none"/>
<path d="M347.06,115.30 L348.10,114.22 L349.59,112.70 L351.03,111.33 L352.25,110.51 L353.43,109.84 L354.56,108.69 L355.68,106.86 L356.76,104.54 L357.64,101.63 L358.21,97.81 L358.59,93.40 L358.97,89.28 L359.41,85.62 L359.85,82.26 L360.29,79.58 L360.75,77.68 L361.20,76.48 L361.61,76.05 L361.94,76.38 L362.22,77.49 L362.49,79.58 L362.77,82.96 L363.05,87.32 L363.38,91.93 L363.78,96.89 L364.24,102.10 L364.70,106.48 L365.16,109.58 L365.61,111.85 L366.02,113.54 L366.38,114.58 L366.69,115.04 L366.90,115.30" fill="none" stroke="#111" stroke-width="1.0" stroke-linejoin="round"/>
<path d="M345.29,115.30 L346.00,114.30 L346.99,112.87 L347.94,111.33 L348.74,109.96 L349.49,108.49 L350.15,106.48 L350.65,103.52 L351.06,100.03 L351.47,96.78 L351.91,94.13 L352.35,91.73 L352.79,89.28 L353.22,86.55 L353.64,83.78 L354.11,81.34 L354.69,79.38 L355.31,77.77 L355.88,76.49 L356.37,75.48 L356.81,74.81 L357.20,74.73 L357.53,75.32 L357.81,76.49 L358.08,78.26 L358.38,80.69 L358.67,83.71 L358.97,87.08 L359.24,90.90 L359.52,95.06 L359.85,98.98 L360.22,102.56 L360.65,105.89 L361.17,108.69 L361.89,110.78 L362.71,112.33 L363.38,113.54 L363.80,114.42 L364.08,114.96 L364.26,115.30 Z" fill="#c0305a" fill-opacity="0.58" stroke="none"/>
<path d="M345.29,115.30 L346.00,114.30 L346.99,112.87 L347.94,111.33 L348.74,109.96 L349.49,108.49 L350.15,106.48 L350.65,103.52 L351.06,100.03 L351.47,96.78 L351.91,94.13 L352.35,91.73 L352.79,89.28 L353.22,86.55 L353.64,83.78 L354.11,81.34 L354.69,79.38 L355.31,77.77 L355.88,76.49 L356.37,75.48 L356.81,74.81 L357.20,74.73 L357.53,75.32 L357.81,76.49 L358.08,78.26 L358.38,80.69 L358.67,83.71 L358.97,87.08 L359.24,90.90 L359.52,95.06 L359.85,98.98 L360.22,102.56 L360.65,105.89 L361.17,108.69 L361.89,110.78 L362.71,112.33 L363.38,113.54 L363.80,114.42 L364.08,114.96 L364.26,115.30" fill="none" stroke="#8a1535" stroke-width="0.85" stroke-linejoin="round"/>
<rect x="330.30" y="71.20" width="44.10" height="44.10" fill="none" stroke="#111" stroke-width="0.9" />
<path d="M328.10,114.80h2.20 M328.90,111.21h1.40 M328.90,107.62h1.40 M328.10,104.03h2.20 M328.90,100.43h1.40 M328.90,96.84h1.40 M328.10,93.25h2.20 M328.90,89.66h1.40 M328.90,86.07h1.40 M328.10,82.48h2.20 M328.90,78.88h1.40 M328.90,75.29h1.40 M330.80,115.30v2.00 M334.39,115.30v1.30 M337.98,115.30v1.30 M341.57,115.30v2.00 M345.17,115.30v1.30 M348.76,115.30v1.30 M352.35,115.30v2.00 M355.94,115.30v1.30 M359.53,115.30v1.30 M363.12,115.30v2.00 M366.72,115.30v1.30 M370.31,115.30v1.30" stroke="#222" stroke-width="0.6"/>
<text x="331.70" y="76.90" font-size="6.1" fill="#222" stroke="#222" stroke-width="0.1" >0.45</text>
<text x="352.35" y="69.10" font-size="5.8" fill="#a33a5c" text-anchor="middle" stroke="#a33a5c" stroke-width="0.1" >Raji</text>
<rect x="380.20" y="71.20" width="44.10" height="44.10" fill="#fff" />
<line x1="386.59" y1="71.20" x2="386.59" y2="115.30" stroke="#c9c9c9" stroke-width="0.6" />
<line x1="399.16" y1="71.20" x2="399.16" y2="115.30" stroke="#c9c9c9" stroke-width="0.6" />
<line x1="412.39" y1="71.20" x2="412.39" y2="115.30" stroke="#c9c9c9" stroke-width="0.6" />
<path d="M394.31,115.30 L394.90,111.67 L395.73,106.53 L396.52,101.63 L397.10,97.55 L397.64,93.71 L398.28,90.16 L399.13,86.85 L400.08,83.83 L400.93,81.34 L401.60,79.60 L402.17,78.39 L402.69,77.37 L403.18,76.31 L403.62,75.45 L404.01,75.17 L404.34,75.51 L404.62,76.44 L404.90,78.26 L405.17,81.29 L405.45,85.21 L405.78,89.28 L406.19,93.43 L406.64,97.73 L407.10,101.63 L407.53,105.01 L407.95,108.00 L408.42,110.45 L409.01,112.25 L409.65,113.50 L410.19,114.42 L410.58,114.97 L410.87,115.19 L411.07,115.30 Z" fill="#a6aaa7" fill-opacity="0.92" stroke="none"/>
<path d="M394.31,115.30 L394.90,111.67 L395.73,106.53 L396.52,101.63 L397.10,97.55 L397.64,93.71 L398.28,90.16 L399.13,86.85 L400.08,83.83 L400.93,81.34 L401.60,79.60 L402.17,78.39 L402.69,77.37 L403.18,76.31 L403.62,75.45 L404.01,75.17 L404.34,75.51 L404.62,76.44 L404.90,78.26 L405.17,81.29 L405.45,85.21 L405.78,89.28 L406.19,93.43 L406.64,97.73 L407.10,101.63 L407.53,105.01 L407.95,108.00 L408.42,110.45 L409.01,112.25 L409.65,113.50 L410.19,114.42 L410.58,114.97 L410.87,115.19 L411.07,115.30" fill="none" stroke="#111" stroke-width="1.0" stroke-linejoin="round"/>
<path d="M393.43,115.30 L393.90,113.11 L394.57,109.94 L395.19,106.48 L395.67,102.79 L396.09,98.80 L396.52,95.01 L396.94,91.37 L397.37,87.93 L397.84,85.31 L398.41,83.97 L399.03,83.47 L399.60,83.11 L400.08,82.72 L400.50,82.47 L400.93,82.23 L401.38,81.75 L401.84,81.28 L402.25,81.34 L402.56,82.09 L402.82,83.38 L403.13,85.31 L403.52,88.12 L403.96,91.57 L404.45,95.01 L405.03,98.40 L405.65,101.78 L406.22,104.72 L406.68,106.99 L407.08,108.82 L407.54,110.45 L408.13,112.02 L408.77,113.39 L409.31,114.42 L409.70,114.97 L409.99,115.19 L410.19,115.30 Z" fill="#c0305a" fill-opacity="0.58" stroke="none"/>
<path d="M393.43,115.30 L393.90,113.11 L394.57,109.94 L395.19,106.48 L395.67,102.79 L396.09,98.80 L396.52,95.01 L396.94,91.37 L397.37,87.93 L397.84,85.31 L398.41,83.97 L399.03,83.47 L399.60,83.11 L400.08,82.72 L400.50,82.47 L400.93,82.23 L401.38,81.75 L401.84,81.28 L402.25,81.34 L402.56,82.09 L402.82,83.38 L403.13,85.31 L403.52,88.12 L403.96,91.57 L404.45,95.01 L405.03,98.40 L405.65,101.78 L406.22,104.72 L406.68,106.99 L407.08,108.82 L407.54,110.45 L408.13,112.02 L408.77,113.39 L409.31,114.42 L409.70,114.97 L409.99,115.19 L410.19,115.30" fill="none" stroke="#8a1535" stroke-width="0.85" stroke-linejoin="round"/>
<rect x="380.20" y="71.20" width="44.10" height="44.10" fill="none" stroke="#111" stroke-width="0.9" />
<path d="M378.00,114.80h2.20 M378.80,111.21h1.40 M378.80,107.62h1.40 M378.00,104.03h2.20 M378.80,100.43h1.40 M378.80,96.84h1.40 M378.00,93.25h2.20 M378.80,89.66h1.40 M378.80,86.07h1.40 M378.00,82.48h2.20 M378.80,78.88h1.40 M378.80,75.29h1.40 M380.70,115.30v2.00 M384.29,115.30v1.30 M387.88,115.30v1.30 M391.47,115.30v2.00 M395.07,115.30v1.30 M398.66,115.30v1.30 M402.25,115.30v2.00 M405.84,115.30v1.30 M409.43,115.30v1.30 M413.02,115.30v2.00 M416.62,115.30v1.30 M420.21,115.30v1.30" stroke="#222" stroke-width="0.6"/>
<text x="381.60" y="76.90" font-size="6.1" fill="#222" stroke="#222" stroke-width="0.1" >0.61</text>
<text x="402.25" y="69.10" font-size="5.8" fill="#a33a5c" text-anchor="middle" stroke="#a33a5c" stroke-width="0.1" >Ramos</text>
<rect x="431.00" y="71.20" width="44.10" height="44.10" fill="#fff" />
<line x1="437.39" y1="71.20" x2="437.39" y2="115.30" stroke="#c9c9c9" stroke-width="0.6" />
<line x1="449.96" y1="71.20" x2="449.96" y2="115.30" stroke="#c9c9c9" stroke-width="0.6" />
<line x1="463.19" y1="71.20" x2="463.19" y2="115.30" stroke="#c9c9c9" stroke-width="0.6" />
<path d="M445.11,115.30 L445.85,110.45 L446.88,103.54 L447.76,96.78 L448.28,90.28 L448.66,83.92 L449.08,79.58 L449.65,78.24 L450.27,78.91 L450.85,80.46 L451.30,82.72 L451.71,85.85 L452.17,89.28 L452.72,93.18 L453.33,97.38 L453.93,100.75 L454.52,102.81 L455.11,104.03 L455.70,104.72 L456.27,104.86 L456.84,104.47 L457.46,103.83 L458.18,102.97 L458.95,101.86 L459.67,100.75 L460.30,99.64 L460.89,98.53 L461.43,97.66 L461.90,96.96 L462.33,96.50 L462.75,96.78 L463.19,98.18 L463.63,100.32 L464.07,102.51 L464.50,104.59 L464.92,106.71 L465.40,108.69 L465.95,110.51 L466.56,112.20 L467.16,113.54 L467.82,114.42 L468.47,114.96 L468.93,115.30 Z" fill="#a6aaa7" fill-opacity="0.92" stroke="none"/>
<path d="M445.11,115.30 L445.85,110.45 L446.88,103.54 L447.76,96.78 L448.28,90.28 L448.66,83.92 L449.08,79.58 L449.65,78.24 L450.27,78.91 L450.85,80.46 L451.30,82.72 L451.71,85.85 L452.17,89.28 L452.72,93.18 L453.33,97.38 L453.93,100.75 L454.52,102.81 L455.11,104.03 L455.70,104.72 L456.27,104.86 L456.84,104.47 L457.46,103.83 L458.18,102.97 L458.95,101.86 L459.67,100.75 L460.30,99.64 L460.89,98.53 L461.43,97.66 L461.90,96.96 L462.33,96.50 L462.75,96.78 L463.19,98.18 L463.63,100.32 L464.07,102.51 L464.50,104.59 L464.92,106.71 L465.40,108.69 L465.95,110.51 L466.56,112.20 L467.16,113.54 L467.82,114.42 L468.47,114.96 L468.93,115.30" fill="none" stroke="#111" stroke-width="1.0" stroke-linejoin="round"/>
<path d="M444.67,115.30 L445.20,112.82 L445.95,109.16 L446.66,104.72 L447.23,99.06 L447.75,92.63 L448.20,87.08 L448.54,82.81 L448.81,79.43 L449.08,77.37 L449.36,77.36 L449.64,78.66 L449.96,79.58 L450.39,79.02 L450.86,78.08 L451.29,78.26 L451.60,80.33 L451.86,83.53 L452.17,87.08 L452.59,90.98 L453.07,95.23 L453.49,98.98 L453.80,101.94 L454.06,104.41 L454.37,106.48 L454.73,108.15 L455.14,109.42 L455.70,110.45 L456.46,111.22 L457.38,111.74 L458.34,112.21 L459.40,112.78 L460.51,113.31 L461.43,113.54 L462.00,113.16 L462.38,112.49 L462.75,112.21 L463.21,112.74 L463.67,113.65 L464.07,114.42 L464.43,114.84 L464.74,115.12 L464.96,115.30 Z" fill="#c0305a" fill-opacity="0.58" stroke="none"/>
<path d="M444.67,115.30 L445.20,112.82 L445.95,109.16 L446.66,104.72 L447.23,99.06 L447.75,92.63 L448.20,87.08 L448.54,82.81 L448.81,79.43 L449.08,77.37 L449.36,77.36 L449.64,78.66 L449.96,79.58 L450.39,79.02 L450.86,78.08 L451.29,78.26 L451.60,80.33 L451.86,83.53 L452.17,87.08 L452.59,90.98 L453.07,95.23 L453.49,98.98 L453.80,101.94 L454.06,104.41 L454.37,106.48 L454.73,108.15 L455.14,109.42 L455.70,110.45 L456.46,111.22 L457.38,111.74 L458.34,112.21 L459.40,112.78 L460.51,113.31 L461.43,113.54 L462.00,113.16 L462.38,112.49 L462.75,112.21 L463.21,112.74 L463.67,113.65 L464.07,114.42 L464.43,114.84 L464.74,115.12 L464.96,115.30" fill="none" stroke="#8a1535" stroke-width="0.85" stroke-linejoin="round"/>
<rect x="431.00" y="71.20" width="44.10" height="44.10" fill="none" stroke="#111" stroke-width="0.9" />
<path d="M428.80,114.80h2.20 M429.60,111.21h1.40 M429.60,107.62h1.40 M428.80,104.03h2.20 M429.60,100.43h1.40 M429.60,96.84h1.40 M428.80,93.25h2.20 M429.60,89.66h1.40 M429.60,86.07h1.40 M428.80,82.48h2.20 M429.60,78.88h1.40 M429.60,75.29h1.40 M431.50,115.30v2.00 M435.09,115.30v1.30 M438.68,115.30v1.30 M442.27,115.30v2.00 M445.87,115.30v1.30 M449.46,115.30v1.30 M453.05,115.30v2.00 M456.64,115.30v1.30 M460.23,115.30v1.30 M463.82,115.30v2.00 M467.42,115.30v1.30 M471.01,115.30v1.30" stroke="#222" stroke-width="0.6"/>
<text x="432.40" y="76.90" font-size="6.1" fill="#222" stroke="#222" stroke-width="0.1" >0.42</text>
<text x="453.05" y="69.10" font-size="5.8" fill="#a33a5c" text-anchor="middle" stroke="#a33a5c" stroke-width="0.1" >SUDHL-4</text>
<rect x="279.40" y="130.40" width="44.10" height="44.10" fill="#fff" />
<line x1="297.48" y1="130.40" x2="297.48" y2="174.50" stroke="#c9c9c9" stroke-width="0.6" />
<line x1="315.12" y1="130.40" x2="315.12" y2="174.50" stroke="#c9c9c9" stroke-width="0.6" />
<path d="M280.72,174.50 L281.80,174.35 L283.32,174.06 L284.69,173.18 L285.67,171.48 L286.50,169.19 L287.34,166.56 L288.27,163.56 L289.20,160.21 L289.98,156.86 L290.54,153.59 L290.95,150.33 L291.31,147.16 L291.62,143.96 L291.88,140.85 L292.19,138.34 L292.61,136.51 L293.09,135.27 L293.51,134.81 L293.81,135.30 L294.05,136.57 L294.39,138.34 L294.93,140.56 L295.57,143.27 L296.16,146.28 L296.63,149.75 L297.06,153.53 L297.48,156.86 L297.92,159.49 L298.36,161.68 L298.80,163.47 L299.21,164.72 L299.62,165.57 L300.13,166.56 L300.80,168.00 L301.56,169.58 L302.33,170.97 L303.10,172.05 L303.87,172.93 L304.54,173.62 L305.09,174.08 L305.55,174.34 L305.86,174.50 Z" fill="#8a8c8a" fill-opacity="0.92" stroke="none"/>
<path d="M280.72,174.50 L281.80,174.35 L283.32,174.06 L284.69,173.18 L285.67,171.48 L286.50,169.19 L287.34,166.56 L288.27,163.56 L289.20,160.21 L289.98,156.86 L290.54,153.59 L290.95,150.33 L291.31,147.16 L291.62,143.96 L291.88,140.85 L292.19,138.34 L292.61,136.51 L293.09,135.27 L293.51,134.81 L293.81,135.30 L294.05,136.57 L294.39,138.34 L294.93,140.56 L295.57,143.27 L296.16,146.28 L296.63,149.75 L297.06,153.53 L297.48,156.86 L297.92,159.49 L298.36,161.68 L298.80,163.47 L299.21,164.72 L299.62,165.57 L300.13,166.56 L300.80,168.00 L301.56,169.58 L302.33,170.97 L303.10,172.05 L303.87,172.93 L304.54,173.62 L305.09,174.08 L305.55,174.34 L305.86,174.50" fill="none" stroke="#111" stroke-width="1.0" stroke-linejoin="round"/>
<path d="M280.72,174.50 L281.80,174.35 L283.32,174.06 L284.69,173.18 L285.67,171.48 L286.50,169.19 L287.34,166.56 L288.27,163.56 L289.20,160.21 L289.98,156.86 L290.54,153.59 L290.95,150.33 L291.31,147.16 L291.62,143.96 L291.88,140.85 L292.19,138.34 L292.61,136.51 L293.09,135.27 L293.51,134.81 L293.81,135.30 L294.05,136.57 L294.39,138.34 L294.93,140.64 L295.57,143.43 L296.16,146.28 L296.63,149.17 L297.06,152.11 L297.48,154.66 L297.92,156.68 L298.36,158.31 L298.80,159.51 L299.23,160.05 L299.65,160.14 L300.13,160.39 L300.68,160.89 L301.29,161.55 L301.89,162.59 L302.48,164.31 L303.07,166.41 L303.65,168.33 L304.24,169.84 L304.83,171.17 L305.42,172.29 L306.07,173.24 L306.73,173.99 L307.18,174.50 Z" fill="#b02850" fill-opacity="0.62" stroke="none"/>
<path d="M280.72,174.50 L281.80,174.35 L283.32,174.06 L284.69,173.18 L285.67,171.48 L286.50,169.19 L287.34,166.56 L288.27,163.56 L289.20,160.21 L289.98,156.86 L290.54,153.59 L290.95,150.33 L291.31,147.16 L291.62,143.96 L291.88,140.85 L292.19,138.34 L292.61,136.51 L293.09,135.27 L293.51,134.81 L293.81,135.30 L294.05,136.57 L294.39,138.34 L294.93,140.64 L295.57,143.43 L296.16,146.28 L296.63,149.17 L297.06,152.11 L297.48,154.66 L297.92,156.68 L298.36,158.31 L298.80,159.51 L299.23,160.05 L299.65,160.14 L300.13,160.39 L300.68,160.89 L301.29,161.55 L301.89,162.59 L302.48,164.31 L303.07,166.41 L303.65,168.33 L304.24,169.84 L304.83,171.17 L305.42,172.29 L306.07,173.24 L306.73,173.99 L307.18,174.50" fill="none" stroke="#7a1030" stroke-width="0.9" stroke-linejoin="round"/>
<rect x="279.40" y="130.40" width="44.10" height="44.10" fill="none" stroke="#111" stroke-width="0.9" />
<path d="M277.20,174.00h2.20 M278.00,170.41h1.40 M278.00,166.82h1.40 M277.20,163.22h2.20 M278.00,159.63h1.40 M278.00,156.04h1.40 M277.20,152.45h2.20 M278.00,148.86h1.40 M278.00,145.27h1.40 M277.20,141.68h2.20 M278.00,138.08h1.40 M278.00,134.49h1.40 M279.90,174.50v2.00 M283.49,174.50v1.30 M287.08,174.50v1.30 M290.67,174.50v2.00 M294.27,174.50v1.30 M297.86,174.50v1.30 M301.45,174.50v2.00 M305.04,174.50v1.30 M308.63,174.50v1.30 M312.22,174.50v2.00 M315.82,174.50v1.30 M319.41,174.50v1.30" stroke="#222" stroke-width="0.6"/>
<text x="280.80" y="136.10" font-size="6.1" fill="#222" stroke="#222" stroke-width="0.1" >1.10</text>
<text x="301.45" y="128.30" font-size="5.8" fill="#8db565" text-anchor="middle" stroke="#8db565" stroke-width="0.1" >BL-2</text>
<rect x="330.30" y="130.40" width="44.10" height="44.10" fill="#fff" />
<line x1="348.38" y1="130.40" x2="348.38" y2="174.50" stroke="#c9c9c9" stroke-width="0.6" />
<line x1="366.02" y1="130.40" x2="366.02" y2="174.50" stroke="#c9c9c9" stroke-width="0.6" />
<path d="M337.80,174.50 L338.52,173.62 L339.53,172.34 L340.44,170.97 L341.08,169.76 L341.62,168.46 L342.21,166.56 L342.94,163.79 L343.73,160.42 L344.41,156.86 L344.92,153.04 L345.33,149.02 L345.74,145.39 L346.18,142.27 L346.62,139.55 L347.06,137.46 L347.50,136.13 L347.94,135.45 L348.38,135.25 L348.79,135.41 L349.20,136.07 L349.70,137.46 L350.39,139.97 L351.17,143.22 L351.91,146.28 L352.55,148.86 L353.13,151.24 L353.67,153.33 L354.11,154.75 L354.51,155.88 L355.00,157.74 L355.67,161.16 L356.43,165.30 L357.20,168.77 L357.99,170.99 L358.77,172.52 L359.41,173.62 L359.83,174.24 L360.11,174.42 L360.29,174.50 Z" fill="#8a8c8a" fill-opacity="0.92" stroke="none"/>
<path d="M337.80,174.50 L338.52,173.62 L339.53,172.34 L340.44,170.97 L341.08,169.76 L341.62,168.46 L342.21,166.56 L342.94,163.79 L343.73,160.42 L344.41,156.86 L344.92,153.04 L345.33,149.02 L345.74,145.39 L346.18,142.27 L346.62,139.55 L347.06,137.46 L347.50,136.13 L347.94,135.45 L348.38,135.25 L348.79,135.41 L349.20,136.07 L349.70,137.46 L350.39,139.97 L351.17,143.22 L351.91,146.28 L352.55,148.86 L353.13,151.24 L353.67,153.33 L354.11,154.75 L354.51,155.88 L355.00,157.74 L355.67,161.16 L356.43,165.30 L357.20,168.77 L357.99,170.99 L358.77,172.52 L359.41,173.62 L359.83,174.24 L360.11,174.42 L360.29,174.50" fill="none" stroke="#111" stroke-width="1.0" stroke-linejoin="round"/>
<path d="M337.80,174.50 L338.52,173.62 L339.53,172.34 L340.44,170.97 L341.08,169.76 L341.62,168.46 L342.21,166.56 L342.94,163.79 L343.73,160.42 L344.41,156.86 L344.92,153.04 L345.33,149.02 L345.74,145.39 L346.18,142.29 L346.62,139.58 L347.06,137.46 L347.50,135.99 L347.94,135.10 L348.38,134.81 L348.82,135.22 L349.26,136.21 L349.70,137.46 L350.14,138.80 L350.59,140.38 L351.03,142.31 L351.47,144.81 L351.91,147.65 L352.35,150.25 L352.79,152.29 L353.23,154.08 L353.67,155.98 L354.10,158.15 L354.52,160.42 L355.00,162.59 L355.55,164.60 L356.16,166.51 L356.76,168.33 L357.36,170.14 L357.97,171.85 L358.52,173.18 L359.05,173.93 L359.52,174.29 L359.85,174.50 Z" fill="#b02850" fill-opacity="0.62" stroke="none"/>
<path d="M337.80,174.50 L338.52,173.62 L339.53,172.34 L340.44,170.97 L341.08,169.76 L341.62,168.46 L342.21,166.56 L342.94,163.79 L343.73,160.42 L344.41,156.86 L344.92,153.04 L345.33,149.02 L345.74,145.39 L346.18,142.29 L346.62,139.58 L347.06,137.46 L347.50,135.99 L347.94,135.10 L348.38,134.81 L348.82,135.22 L349.26,136.21 L349.70,137.46 L350.14,138.80 L350.59,140.38 L351.03,142.31 L351.47,144.81 L351.91,147.65 L352.35,150.25 L352.79,152.29 L353.23,154.08 L353.67,155.98 L354.10,158.15 L354.52,160.42 L355.00,162.59 L355.55,164.60 L356.16,166.51 L356.76,168.33 L357.36,170.14 L357.97,171.85 L358.52,173.18 L359.05,173.93 L359.52,174.29 L359.85,174.50" fill="none" stroke="#7a1030" stroke-width="0.9" stroke-linejoin="round"/>
<rect x="330.30" y="130.40" width="44.10" height="44.10" fill="none" stroke="#111" stroke-width="0.9" />
<path d="M328.10,174.00h2.20 M328.90,170.41h1.40 M328.90,166.82h1.40 M328.10,163.22h2.20 M328.90,159.63h1.40 M328.90,156.04h1.40 M328.10,152.45h2.20 M328.90,148.86h1.40 M328.90,145.27h1.40 M328.10,141.68h2.20 M328.90,138.08h1.40 M328.90,134.49h1.40 M330.80,174.50v2.00 M334.39,174.50v1.30 M337.98,174.50v1.30 M341.57,174.50v2.00 M345.17,174.50v1.30 M348.76,174.50v1.30 M352.35,174.50v2.00 M355.94,174.50v1.30 M359.53,174.50v1.30 M363.12,174.50v2.00 M366.72,174.50v1.30 M370.31,174.50v1.30" stroke="#222" stroke-width="0.6"/>
<text x="331.70" y="136.10" font-size="6.1" fill="#222" stroke="#222" stroke-width="0.1" >0.93</text>
<text x="352.35" y="128.30" font-size="5.8" fill="#8db565" text-anchor="middle" stroke="#8db565" stroke-width="0.1" >LY-47</text>
<rect x="380.20" y="130.40" width="44.10" height="44.10" fill="#fff" />
<line x1="398.28" y1="130.40" x2="398.28" y2="174.50" stroke="#c9c9c9" stroke-width="0.6" />
<line x1="415.92" y1="130.40" x2="415.92" y2="174.50" stroke="#c9c9c9" stroke-width="0.6" />
<path d="M387.70,174.50 L388.64,173.29 L389.98,171.49 L391.22,169.21 L392.22,166.15 L393.12,162.61 L393.87,159.51 L394.39,157.40 L394.77,155.73 L395.19,153.77 L395.77,151.05 L396.39,148.02 L396.96,145.39 L397.42,143.37 L397.82,141.74 L398.28,140.54 L398.85,139.99 L399.47,139.87 L400.05,139.66 L400.52,138.97 L400.94,138.19 L401.37,137.90 L401.81,138.48 L402.25,139.56 L402.69,140.54 L403.10,141.41 L403.51,142.18 L404.01,142.31 L404.72,141.03 L405.52,139.12 L406.22,138.34 L406.73,139.60 L407.13,141.98 L407.54,144.51 L407.98,146.88 L408.42,149.40 L408.87,152.01 L409.31,154.72 L409.75,157.53 L410.19,160.39 L410.60,163.46 L411.00,166.58 L411.51,169.21 L412.21,171.14 L413.01,172.57 L413.72,173.62 L414.27,174.21 L414.73,174.40 L415.04,174.50 Z" fill="#8a8c8a" fill-opacity="0.92" stroke="none"/>
<path d="M387.70,174.50 L388.64,173.29 L389.98,171.49 L391.22,169.21 L392.22,166.15 L393.12,162.61 L393.87,159.51 L394.39,157.40 L394.77,155.73 L395.19,153.77 L395.77,151.05 L396.39,148.02 L396.96,145.39 L397.42,143.37 L397.82,141.74 L398.28,140.54 L398.85,139.99 L399.47,139.87 L400.05,139.66 L400.52,138.97 L400.94,138.19 L401.37,137.90 L401.81,138.48 L402.25,139.56 L402.69,140.54 L403.10,141.41 L403.51,142.18 L404.01,142.31 L404.72,141.03 L405.52,139.12 L406.22,138.34 L406.73,139.60 L407.13,141.98 L407.54,144.51 L407.98,146.88 L408.42,149.40 L408.87,152.01 L409.31,154.72 L409.75,157.53 L410.19,160.39 L410.60,163.46 L411.00,166.58 L411.51,169.21 L412.21,171.14 L413.01,172.57 L413.72,173.62 L414.27,174.21 L414.73,174.40 L415.04,174.50" fill="none" stroke="#111" stroke-width="1.0" stroke-linejoin="round"/>
<path d="M386.81,174.50 L387.52,174.06 L388.51,173.37 L389.46,172.29 L390.23,170.79 L390.95,168.90 L391.67,166.56 L392.42,163.56 L393.17,160.11 L393.87,156.86 L394.49,153.95 L395.06,151.24 L395.63,148.92 L396.24,147.14 L396.84,145.75 L397.40,144.51 L397.86,143.30 L398.26,142.24 L398.72,141.43 L399.29,140.87 L399.91,140.56 L400.49,140.54 L400.96,140.85 L401.38,141.46 L401.81,142.31 L402.27,143.37 L402.72,144.68 L403.13,146.28 L403.43,148.25 L403.67,150.52 L404.01,152.89 L404.55,155.37 L405.19,157.95 L405.78,160.39 L406.24,162.56 L406.64,164.59 L407.10,166.56 L407.66,168.64 L408.26,170.66 L408.87,172.29 L409.52,173.37 L410.17,174.06 L410.63,174.50 Z" fill="#b02850" fill-opacity="0.62" stroke="none"/>
<path d="M386.81,174.50 L387.52,174.06 L388.51,173.37 L389.46,172.29 L390.23,170.79 L390.95,168.90 L391.67,166.56 L392.42,163.56 L393.17,160.11 L393.87,156.86 L394.49,153.95 L395.06,151.24 L395.63,148.92 L396.24,147.14 L396.84,145.75 L397.40,144.51 L397.86,143.30 L398.26,142.24 L398.72,141.43 L399.29,140.87 L399.91,140.56 L400.49,140.54 L400.96,140.85 L401.38,141.46 L401.81,142.31 L402.27,143.37 L402.72,144.68 L403.13,146.28 L403.43,148.25 L403.67,150.52 L404.01,152.89 L404.55,155.37 L405.19,157.95 L405.78,160.39 L406.24,162.56 L406.64,164.59 L407.10,166.56 L407.66,168.64 L408.26,170.66 L408.87,172.29 L409.52,173.37 L410.17,174.06 L410.63,174.50" fill="none" stroke="#7a1030" stroke-width="0.9" stroke-linejoin="round"/>
<rect x="380.20" y="130.40" width="44.10" height="44.10" fill="none" stroke="#111" stroke-width="0.9" />
<path d="M378.00,174.00h2.20 M378.80,170.41h1.40 M378.80,166.82h1.40 M378.00,163.22h2.20 M378.80,159.63h1.40 M378.80,156.04h1.40 M378.00,152.45h2.20 M378.80,148.86h1.40 M378.80,145.27h1.40 M378.00,141.68h2.20 M378.80,138.08h1.40 M378.80,134.49h1.40 M380.70,174.50v2.00 M384.29,174.50v1.30 M387.88,174.50v1.30 M391.47,174.50v2.00 M395.07,174.50v1.30 M398.66,174.50v1.30 M402.25,174.50v2.00 M405.84,174.50v1.30 M409.43,174.50v1.30 M413.02,174.50v2.00 M416.62,174.50v1.30 M420.21,174.50v1.30" stroke="#222" stroke-width="0.6"/>
<text x="381.60" y="136.10" font-size="6.1" fill="#222" stroke="#222" stroke-width="0.1" >0.83</text>
<text x="402.25" y="128.30" font-size="5.8" fill="#8db565" text-anchor="middle" stroke="#8db565" stroke-width="0.1" >Salina</text>
<rect x="431.00" y="130.40" width="44.10" height="44.10" fill="#fff" />
<line x1="449.08" y1="130.40" x2="449.08" y2="174.50" stroke="#c9c9c9" stroke-width="0.6" />
<line x1="466.72" y1="130.40" x2="466.72" y2="174.50" stroke="#c9c9c9" stroke-width="0.6" />
<path d="M439.38,174.50 L440.46,173.21 L441.98,171.33 L443.35,169.21 L444.33,166.92 L445.16,164.39 L445.99,161.71 L446.91,158.75 L447.82,155.65 L448.64,152.89 L449.29,150.72 L449.85,148.89 L450.40,147.16 L450.99,145.33 L451.58,143.60 L452.17,142.31 L452.77,141.80 L453.38,141.74 L453.93,141.43 L454.41,140.49 L454.83,139.32 L455.25,138.34 L455.71,137.59 L456.17,137.03 L456.58,137.01 L456.89,137.54 L457.15,138.60 L457.46,140.54 L457.85,143.89 L458.29,148.12 L458.78,152.01 L459.35,155.05 L459.98,157.74 L460.55,160.39 L461.02,163.18 L461.45,165.92 L461.87,168.33 L462.29,170.30 L462.72,171.94 L463.19,173.18 L463.81,173.93 L464.48,174.29 L464.96,174.50 Z" fill="#8a8c8a" fill-opacity="0.92" stroke="none"/>
<path d="M439.38,174.50 L440.46,173.21 L441.98,171.33 L443.35,169.21 L444.33,166.92 L445.16,164.39 L445.99,161.71 L446.91,158.75 L447.82,155.65 L448.64,152.89 L449.29,150.72 L449.85,148.89 L450.40,147.16 L450.99,145.33 L451.58,143.60 L452.17,142.31 L452.77,141.80 L453.38,141.74 L453.93,141.43 L454.41,140.49 L454.83,139.32 L455.25,138.34 L455.71,137.59 L456.17,137.03 L456.58,137.01 L456.89,137.54 L457.15,138.60 L457.46,140.54 L457.85,143.89 L458.29,148.12 L458.78,152.01 L459.35,155.05 L459.98,157.74 L460.55,160.39 L461.02,163.18 L461.45,165.92 L461.87,168.33 L462.29,170.30 L462.72,171.94 L463.19,173.18 L463.81,173.93 L464.48,174.29 L464.96,174.50" fill="none" stroke="#111" stroke-width="1.0" stroke-linejoin="round"/>
<path d="M438.50,174.50 L439.31,174.14 L440.47,173.54 L441.58,172.29 L442.51,170.14 L443.40,167.35 L444.23,164.36 L445.01,161.17 L445.75,157.79 L446.44,154.66 L447.07,151.96 L447.66,149.51 L448.20,147.16 L448.66,144.77 L449.06,142.49 L449.52,140.54 L450.09,138.91 L450.71,137.62 L451.29,137.01 L451.76,137.47 L452.18,138.62 L452.61,139.66 L453.05,140.31 L453.49,140.87 L453.93,141.43 L454.37,141.93 L454.81,142.44 L455.25,143.19 L455.70,144.22 L456.14,145.49 L456.58,147.16 L457.00,149.38 L457.43,151.99 L457.90,154.66 L458.47,157.35 L459.09,160.09 L459.67,162.59 L460.14,164.70 L460.56,166.56 L460.99,168.33 L461.45,170.14 L461.90,171.85 L462.31,173.18 L462.67,173.93 L462.98,174.29 L463.19,174.50 Z" fill="#b02850" fill-opacity="0.62" stroke="none"/>
<path d="M438.50,174.50 L439.31,174.14 L440.47,173.54 L441.58,172.29 L442.51,170.14 L443.40,167.35 L444.23,164.36 L445.01,161.17 L445.75,157.79 L446.44,154.66 L447.07,151.96 L447.66,149.51 L448.20,147.16 L448.66,144.77 L449.06,142.49 L449.52,140.54 L450.09,138.91 L450.71,137.62 L451.29,137.01 L451.76,137.47 L452.18,138.62 L452.61,139.66 L453.05,140.31 L453.49,140.87 L453.93,141.43 L454.37,141.93 L454.81,142.44 L455.25,143.19 L455.70,144.22 L456.14,145.49 L456.58,147.16 L457.00,149.38 L457.43,151.99 L457.90,154.66 L458.47,157.35 L459.09,160.09 L459.67,162.59 L460.14,164.70 L460.56,166.56 L460.99,168.33 L461.45,170.14 L461.90,171.85 L462.31,173.18 L462.67,173.93 L462.98,174.29 L463.19,174.50" fill="none" stroke="#7a1030" stroke-width="0.9" stroke-linejoin="round"/>
<rect x="431.00" y="130.40" width="44.10" height="44.10" fill="none" stroke="#111" stroke-width="0.9" />
<path d="M428.80,174.00h2.20 M429.60,170.41h1.40 M429.60,166.82h1.40 M428.80,163.22h2.20 M429.60,159.63h1.40 M429.60,156.04h1.40 M428.80,152.45h2.20 M429.60,148.86h1.40 M429.60,145.27h1.40 M428.80,141.68h2.20 M429.60,138.08h1.40 M429.60,134.49h1.40 M431.50,174.50v2.00 M435.09,174.50v1.30 M438.68,174.50v1.30 M442.27,174.50v2.00 M445.87,174.50v1.30 M449.46,174.50v1.30 M453.05,174.50v2.00 M456.64,174.50v1.30 M460.23,174.50v1.30 M463.82,174.50v2.00 M467.42,174.50v1.30 M471.01,174.50v1.30" stroke="#222" stroke-width="0.6"/>
<text x="432.40" y="136.10" font-size="6.1" fill="#222" stroke="#222" stroke-width="0.1" >0.75</text>
<text x="453.05" y="128.30" font-size="5.8" fill="#8db565" text-anchor="middle" stroke="#8db565" stroke-width="0.1" >Seraphina</text>
<path d="M330.30,34.20 L352.30,34.20 L352.30,36.70 L374.40,36.70" stroke="#000" stroke-width="0.9" fill="none" />
<path d="M431.00,92.00 L456.50,92.00 L456.50,94.10 L475.10,94.10" stroke="#000" stroke-width="0.9" fill="none" />
<text x="373.60" y="19.20" font-size="6.0" fill="#222" text-anchor="end" stroke="#222" stroke-width="0.1" >73%</text>
<text x="373.60" y="24.40" font-size="6.0" fill="#a8193f" text-anchor="end" stroke="#a8193f" stroke-width="0.1" >30%</text>
<text x="331.50" y="50.70" font-size="6.0" fill="#222" stroke="#222" stroke-width="0.1" >27%</text>
<text x="331.50" y="55.80" font-size="6.0" fill="#a8193f" stroke="#a8193f" stroke-width="0.1" >70%</text>
<text x="474.30" y="77.00" font-size="6.0" fill="#222" text-anchor="end" stroke="#222" stroke-width="0.1" >50%</text>
<text x="474.30" y="82.20" font-size="6.0" fill="#a8193f" text-anchor="end" stroke="#a8193f" stroke-width="0.1" >11%</text>
<text x="432.20" y="108.50" font-size="6.0" fill="#222" stroke="#222" stroke-width="0.1" >50%</text>
<text x="432.20" y="113.60" font-size="6.0" fill="#a8193f" stroke="#a8193f" stroke-width="0.1" >89%</text>
<text x="478.30" y="17.30" font-size="6.3" fill="#222" stroke="#222" stroke-width="0.1" >DMSO</text>
<text x="478.30" y="23.80" font-size="6.3" fill="#a8193f" stroke="#a8193f" stroke-width="0.1" >Vorinostat</text>
<text x="478.60" y="135.40" font-size="6.3" fill="#222" stroke="#222" stroke-width="0.1" >Etoposide</text>
<text x="478.60" y="141.80" font-size="6.3" fill="#222" stroke="#222" stroke-width="0.1" >+ DMSO</text>
<text x="478.60" y="148.20" font-size="6.3" fill="#a8193f" stroke="#a8193f" stroke-width="0.1" >Etoposide</text>
<text x="478.60" y="154.60" font-size="6.3" fill="#a8193f" stroke="#a8193f" stroke-width="0.1" >+ Vorinostat</text>
<line x1="272.50" y1="120.50" x2="504.00" y2="120.50" stroke="#000" stroke-width="1.0" stroke-dasharray="2.2,1.6"/>
<path d="M274.2,179.4 V142.5 M274.2,179.4 H310" stroke="#111" stroke-width="0.9" fill="none"/>
<path d="M274.2,139.2 L272.6,143.4 L275.8,143.4 Z M313.5,179.4 L309.3,177.8 L309.3,181 Z" fill="#111"/>
<text x="270.40" y="160.00" font-size="6.9" fill="#222" text-anchor="middle" textLength="37" lengthAdjust="spacingAndGlyphs" transform="rotate(-90 270.40 160.00)" stroke="#222" stroke-width="0.1" >norm. count</text>
<text x="284.00" y="188.60" font-size="7.0" fill="#222" textLength="11.5" lengthAdjust="spacingAndGlyphs" stroke="#222" stroke-width="0.1" >p53</text>
<text x="10.30" y="203.70" font-size="11.2" fill="#111" font-weight="bold" textLength="7.0" lengthAdjust="spacingAndGlyphs" stroke="#111" stroke-width="0.35">B</text>
<rect x="34.00" y="222.10" width="72.30" height="84.00" fill="#fff" />
<rect x="41.30" y="251.80" width="8.40" height="51.40" fill="#373737" />
<rect x="49.70" y="289.84" width="8.50" height="13.36" fill="#b30f3b" />
<rect x="58.20" y="290.86" width="8.00" height="12.34" fill="#2f5a93" />
<rect x="74.00" y="251.80" width="8.50" height="51.40" fill="#373737" />
<rect x="82.50" y="241.52" width="8.00" height="61.68" fill="#b30f3b" />
<rect x="90.50" y="250.26" width="8.10" height="52.94" fill="#2f5a93" />
<path d="M45.50,252.50V251.50 M44.50,251.50h2" stroke="#111" stroke-width="0.8"/>
<path d="M54.00,290.00V289.30 M53.00,289.30h2" stroke="#111" stroke-width="0.8"/>
<path d="M62.20,291.50V289.00 M61.20,289.00h2" stroke="#111" stroke-width="0.8"/>
<path d="M78.20,252.00V251.30 M77.20,251.30h2" stroke="#111" stroke-width="0.8"/>
<path d="M86.50,241.40V227.30 M85.50,227.30h2" stroke="#111" stroke-width="0.8"/>
<path d="M94.50,250.00V241.80 M93.50,241.80h2" stroke="#111" stroke-width="0.8"/>
<rect x="34.00" y="222.10" width="72.30" height="84.00" fill="none" stroke="#111" stroke-width="1.0" />
<text x="28.00" y="228.20" font-size="6.2" fill="#333" text-anchor="end" stroke="#333" stroke-width="0.1" >1.5</text>
<line x1="31.00" y1="226.00" x2="34.00" y2="226.00" stroke="#000" stroke-width="1.0" />
<text x="28.00" y="254.00" font-size="6.2" fill="#333" text-anchor="end" stroke="#333" stroke-width="0.1" >1.0</text>
<line x1="31.00" y1="251.80" x2="34.00" y2="251.80" stroke="#000" stroke-width="1.0" />
<text x="28.00" y="279.60" font-size="6.2" fill="#333" text-anchor="end" stroke="#333" stroke-width="0.1" >0.5</text>
<line x1="31.00" y1="277.40" x2="34.00" y2="277.40" stroke="#000" stroke-width="1.0" />
<text x="28.00" y="305.40" font-size="6.2" fill="#333" text-anchor="end" stroke="#333" stroke-width="0.1" >0.0</text>
<line x1="31.00" y1="303.20" x2="34.00" y2="303.20" stroke="#000" stroke-width="1.0" />
<line x1="54.00" y1="306.10" x2="54.00" y2="307.90" stroke="#000" stroke-width="0.7" />
<line x1="86.70" y1="306.10" x2="86.70" y2="307.90" stroke="#000" stroke-width="0.7" />
<text x="54.00" y="318.00" font-size="6.0" fill="#333" text-anchor="middle" font-style="italic" stroke="#333" stroke-width="0.1" >TP53</text>
<text x="86.70" y="318.00" font-size="6.0" fill="#333" text-anchor="middle" font-style="italic" stroke="#333" stroke-width="0.1" >TRRAP</text>
<text x="67.70" y="328.60" font-size="6.6" fill="#333" text-anchor="middle" stroke="#333" stroke-width="0.1" >Gene</text>
<text x="14.60" y="266.00" font-size="7.3" fill="#333" text-anchor="middle" textLength="81" lengthAdjust="spacingAndGlyphs" transform="rotate(-90 14.60 266.00)" stroke="#333" stroke-width="0.1" >Normalized fold expression</text>
<rect x="125.10" y="222.00" width="84.90" height="84.90" fill="#fff" />
<line x1="134.18" y1="222.00" x2="134.18" y2="306.90" stroke="#c9c9c9" stroke-width="0.6" />
<line x1="153.37" y1="222.00" x2="153.37" y2="306.90" stroke="#c9c9c9" stroke-width="0.6" />
<line x1="172.64" y1="222.00" x2="172.64" y2="306.90" stroke="#c9c9c9" stroke-width="0.6" />
<line x1="191.83" y1="222.00" x2="191.83" y2="306.90" stroke="#c9c9c9" stroke-width="0.6" />
<path d="M150.40,306.90 L153.76,305.84 L158.46,304.21 L162.50,301.80 L165.06,298.73 L166.94,294.89 L168.60,289.70 L170.13,282.76 L171.42,274.47 L172.60,265.50 L173.73,254.80 L174.74,243.43 L175.60,235.20 L176.24,232.21 L176.73,232.37 L177.20,233.20 L177.69,234.46 L178.17,236.39 L178.70,237.20 L179.33,235.34 L180.01,232.38 L180.70,231.20 L181.33,232.78 L181.96,236.14 L182.70,241.30 L183.62,248.76 L184.66,258.01 L185.70,267.50 L186.77,277.45 L187.84,287.64 L188.80,295.80 L189.55,300.85 L190.17,303.88 L190.80,305.90 L191.54,306.90 L192.28,306.90 L192.80,306.90 Z" fill="#d8dce4" fill-opacity="0.9" stroke="none"/>
<path d="M150.40,306.90 L153.76,305.84 L158.46,304.21 L162.50,301.80 L165.06,298.73 L166.94,294.89 L168.60,289.70 L170.13,282.76 L171.42,274.47 L172.60,265.50 L173.73,254.80 L174.74,243.43 L175.60,235.20 L176.24,232.21 L176.73,232.37 L177.20,233.20 L177.69,234.46 L178.17,236.39 L178.70,237.20 L179.33,235.34 L180.01,232.38 L180.70,231.20 L181.33,232.78 L181.96,236.14 L182.70,241.30 L183.62,248.76 L184.66,258.01 L185.70,267.50 L186.77,277.45 L187.84,287.64 L188.80,295.80 L189.55,300.85 L190.17,303.88 L190.80,305.90 L191.54,306.90 L192.28,306.90 L192.80,306.90" fill="none" stroke="#111" stroke-width="0.9" stroke-linejoin="round"/>
<path d="M149.40,306.90 L152.76,305.71 L157.46,303.89 L161.50,301.30 L164.06,298.12 L165.94,294.17 L167.60,288.70 L169.13,280.94 L170.42,271.67 L171.60,262.50 L172.73,253.10 L173.74,243.80 L174.60,237.20 L175.24,234.88 L175.73,235.26 L176.20,236.20 L176.69,237.53 L177.17,239.42 L177.70,240.20 L178.33,238.38 L179.01,235.45 L179.70,234.20 L180.33,235.52 L180.96,238.51 L181.70,243.30 L182.62,250.39 L183.66,259.27 L184.70,268.50 L185.77,278.41 L186.84,288.67 L187.80,296.80 L188.55,301.56 L189.17,304.18 L189.80,305.90 L190.54,306.87 L191.28,306.90 L191.80,306.90 Z" fill="#c4cbdb" fill-opacity="0.5" stroke="none"/>
<path d="M149.40,306.90 L152.76,305.71 L157.46,303.89 L161.50,301.30 L164.06,298.12 L165.94,294.17 L167.60,288.70 L169.13,280.94 L170.42,271.67 L171.60,262.50 L172.73,253.10 L173.74,243.80 L174.60,237.20 L175.24,234.88 L175.73,235.26 L176.20,236.20 L176.69,237.53 L177.17,239.42 L177.70,240.20 L178.33,238.38 L179.01,235.45 L179.70,234.20 L180.33,235.52 L180.96,238.51 L181.70,243.30 L182.62,250.39 L183.66,259.27 L184.70,268.50 L185.77,278.41 L186.84,288.67 L187.80,296.80 L188.55,301.56 L189.17,304.18 L189.80,305.90 L190.54,306.87 L191.28,306.90 L191.80,306.90" fill="none" stroke="#2b3b5a" stroke-width="0.9" stroke-linejoin="round"/>
<path d="M126.20,306.90 L130.16,305.76 L135.68,304.06 L140.30,301.80 L142.97,299.63 L144.74,296.90 L146.30,291.70 L147.83,282.05 L149.14,269.94 L150.40,259.40 L151.64,251.20 L152.83,244.57 L154.00,241.30 L155.23,243.62 L156.45,249.29 L157.50,253.40 L158.24,253.48 L158.81,252.00 L159.50,251.40 L160.46,252.51 L161.54,254.50 L162.50,257.40 L163.20,262.36 L163.79,268.21 L164.50,271.50 L165.49,269.66 L166.61,265.24 L167.60,262.50 L168.31,264.10 L168.90,267.36 L169.60,268.50 L170.58,265.21 L171.67,259.80 L172.60,255.40 L173.21,253.10 L173.66,251.80 L174.20,251.40 L174.91,252.18 L175.72,253.84 L176.60,255.40 L177.62,256.17 L178.72,256.84 L179.70,258.40 L180.41,261.09 L181.00,264.68 L181.70,269.50 L182.63,276.45 L183.66,284.63 L184.70,291.70 L185.70,296.85 L186.69,300.89 L187.70,303.90 L188.84,305.69 L189.99,306.46 L190.80,306.90 Z" fill="#c23a62" fill-opacity="0.62" stroke="none"/>
<path d="M126.20,306.90 L130.16,305.76 L135.68,304.06 L140.30,301.80 L142.97,299.63 L144.74,296.90 L146.30,291.70 L147.83,282.05 L149.14,269.94 L150.40,259.40 L151.64,251.20 L152.83,244.57 L154.00,241.30 L155.23,243.62 L156.45,249.29 L157.50,253.40 L158.24,253.48 L158.81,252.00 L159.50,251.40 L160.46,252.51 L161.54,254.50 L162.50,257.40 L163.20,262.36 L163.79,268.21 L164.50,271.50 L165.49,269.66 L166.61,265.24 L167.60,262.50 L168.31,264.10 L168.90,267.36 L169.60,268.50 L170.58,265.21 L171.67,259.80 L172.60,255.40 L173.21,253.10 L173.66,251.80 L174.20,251.40 L174.91,252.18 L175.72,253.84 L176.60,255.40 L177.62,256.17 L178.72,256.84 L179.70,258.40 L180.41,261.09 L181.00,264.68 L181.70,269.50 L182.63,276.45 L183.66,284.63 L184.70,291.70 L185.70,296.85 L186.69,300.89 L187.70,303.90 L188.84,305.69 L189.99,306.46 L190.80,306.90" fill="none" stroke="#8a1535" stroke-width="0.9" stroke-linejoin="round"/>
<rect x="125.10" y="222.00" width="84.90" height="84.90" fill="none" stroke="#111" stroke-width="0.9" />
<path d="M122.90,306.40h2.20 M123.70,302.75h1.40 M123.70,299.10h1.40 M122.90,295.46h2.20 M123.70,291.81h1.40 M123.70,288.16h1.40 M122.90,284.51h2.20 M123.70,280.87h1.40 M123.70,277.22h1.40 M122.90,273.57h2.20 M123.70,269.92h1.40 M123.70,266.27h1.40 M122.90,262.63h2.20 M123.70,258.98h1.40 M123.70,255.33h1.40 M122.90,251.68h2.20 M123.70,248.03h1.40 M123.70,244.39h1.40 M122.90,240.74h2.20 M123.70,237.09h1.40 M123.70,233.44h1.40 M122.90,229.80h2.20 M123.70,226.15h1.40 M125.60,306.90v2.00 M129.25,306.90v1.30 M132.90,306.90v1.30 M136.54,306.90v2.00 M140.19,306.90v1.30 M143.84,306.90v1.30 M147.49,306.90v2.00 M151.13,306.90v1.30 M154.78,306.90v1.30 M158.43,306.90v2.00 M162.08,306.90v1.30 M165.73,306.90v1.30 M169.37,306.90v2.00 M173.02,306.90v1.30 M176.67,306.90v1.30 M180.32,306.90v2.00 M183.97,306.90v1.30 M187.61,306.90v1.30 M191.26,306.90v2.00 M194.91,306.90v1.30 M198.56,306.90v1.30 M202.20,306.90v2.00 M205.85,306.90v1.30" stroke="#222" stroke-width="0.6"/>
<text x="127.30" y="229.10" font-size="6.1" fill="#555" stroke="#555" stroke-width="0.1" >1.00</text>
<text x="127.30" y="237.30" font-size="6.1" fill="#a8193f" stroke="#a8193f" stroke-width="0.1" >0.17</text>
<text x="127.30" y="245.90" font-size="6.1" fill="#4a5a78" stroke="#4a5a78" stroke-width="0.1" >0.81</text>
<text x="212.40" y="229.10" font-size="6.1" fill="#555" stroke="#555" stroke-width="0.1" >DMSO</text>
<text x="212.40" y="237.10" font-size="6.1" fill="#a8193f" stroke="#a8193f" stroke-width="0.1" >Vorinostat</text>
<text x="212.40" y="245.60" font-size="6.1" fill="#4a5a78" stroke="#4a5a78" stroke-width="0.1" >Vorinostat</text>
<text x="212.40" y="254.50" font-size="6.1" fill="#4a5a78" stroke="#4a5a78" stroke-width="0.1" >+ Nutlin−3a</text>
<text x="212.90" y="306.30" font-size="6.3" fill="#111" font-weight="bold" textLength="27" lengthAdjust="spacingAndGlyphs" >Namalwa</text>
<path d="M118.7,311.9 V273 M118.7,311.9 H158.2" stroke="#111" stroke-width="1.0" fill="none"/>
<path d="M118.7,269.3 L117.0,273.8 L120.4,273.8 Z M162,311.9 L157.6,310.2 L157.6,313.6 Z" fill="#111"/>
<text x="113.50" y="290.30" font-size="6.6" fill="#333" text-anchor="middle" textLength="35" lengthAdjust="spacingAndGlyphs" transform="rotate(-90 113.50 290.30)" stroke="#333" stroke-width="0.1" >norm. count</text>
<text x="132.40" y="321.60" font-size="7.0" fill="#333" textLength="10.8" lengthAdjust="spacingAndGlyphs" stroke="#333" stroke-width="0.1" >p53</text>
<text x="245.80" y="203.60" font-size="11.2" fill="#111" font-weight="bold" textLength="6.9" lengthAdjust="spacingAndGlyphs" stroke="#111" stroke-width="0.35">C</text>
<rect x="268.70" y="226.50" width="43.30" height="43.80" fill="#fff" />
<line x1="274.33" y1="226.50" x2="274.33" y2="270.30" stroke="#c9c9c9" stroke-width="0.6" />
<line x1="286.89" y1="226.50" x2="286.89" y2="270.30" stroke="#c9c9c9" stroke-width="0.6" />
<line x1="300.74" y1="226.50" x2="300.74" y2="270.30" stroke="#c9c9c9" stroke-width="0.6" />
<path d="M279.52,270.30 L280.71,269.33 L282.38,267.87 L283.85,265.92 L284.88,263.41 L285.72,260.40 L286.45,257.16 L287.11,253.51 L287.67,249.62 L288.19,246.21 L288.62,243.65 L289.00,241.57 L289.48,239.64 L290.16,237.73 L290.93,235.96 L291.65,234.38 L292.27,232.79 L292.85,231.40 L293.38,230.88 L293.83,231.51 L294.23,233.02 L294.68,235.26 L295.23,238.34 L295.82,242.15 L296.41,246.21 L296.99,250.59 L297.57,255.21 L298.14,259.35 L298.75,262.84 L299.36,265.84 L299.88,268.11 L300.26,269.41 L300.55,269.98 L300.74,270.30 Z" fill="#d2d5d4" fill-opacity="0.9" stroke="none"/>
<path d="M279.52,270.30 L280.71,269.33 L282.38,267.87 L283.85,265.92 L284.88,263.41 L285.72,260.40 L286.45,257.16 L287.11,253.51 L287.67,249.62 L288.19,246.21 L288.62,243.65 L289.00,241.57 L289.48,239.64 L290.16,237.73 L290.93,235.96 L291.65,234.38 L292.27,232.79 L292.85,231.40 L293.38,230.88 L293.83,231.51 L294.23,233.02 L294.68,235.26 L295.23,238.34 L295.82,242.15 L296.41,246.21 L296.99,250.59 L297.57,255.21 L298.14,259.35 L298.75,262.84 L299.36,265.84 L299.88,268.11 L300.26,269.41 L300.55,269.98 L300.74,270.30" fill="none" stroke="#1a0a0e" stroke-width="1.0" stroke-linejoin="round"/>
<path d="M275.63,270.30 L276.69,268.00 L278.18,264.72 L279.52,261.54 L280.54,258.62 L281.40,255.80 L282.12,253.66 L282.67,252.49 L283.07,252.00 L283.42,251.90 L283.71,252.49 L283.95,253.46 L284.29,253.66 L284.82,252.31 L285.44,250.18 L286.02,248.40 L286.49,247.52 L286.90,246.99 L287.32,246.21 L287.75,244.86 L288.19,243.27 L288.62,241.83 L289.03,240.81 L289.45,239.93 L289.92,238.76 L290.46,236.96 L291.06,234.87 L291.65,233.07 L292.24,231.55 L292.84,230.31 L293.38,230.00 L293.83,230.93 L294.23,232.78 L294.68,235.26 L295.23,238.41 L295.82,242.19 L296.41,246.21 L296.99,250.64 L297.57,255.31 L298.14,259.35 L298.74,262.40 L299.33,264.82 L299.88,266.80 L300.39,268.39 L300.85,269.54 L301.17,270.30 Z" fill="#bc2c56" fill-opacity="0.66" stroke="none"/>
<path d="M275.63,270.30 L276.69,268.00 L278.18,264.72 L279.52,261.54 L280.54,258.62 L281.40,255.80 L282.12,253.66 L282.67,252.49 L283.07,252.00 L283.42,251.90 L283.71,252.49 L283.95,253.46 L284.29,253.66 L284.82,252.31 L285.44,250.18 L286.02,248.40 L286.49,247.52 L286.90,246.99 L287.32,246.21 L287.75,244.86 L288.19,243.27 L288.62,241.83 L289.03,240.81 L289.45,239.93 L289.92,238.76 L290.46,236.96 L291.06,234.87 L291.65,233.07 L292.24,231.55 L292.84,230.31 L293.38,230.00 L293.83,230.93 L294.23,232.78 L294.68,235.26 L295.23,238.41 L295.82,242.19 L296.41,246.21 L296.99,250.64 L297.57,255.31 L298.14,259.35 L298.74,262.40 L299.33,264.82 L299.88,266.80 L300.39,268.39 L300.85,269.54 L301.17,270.30" fill="none" stroke="#8a1535" stroke-width="0.85" stroke-linejoin="round"/>
<rect x="268.70" y="226.50" width="43.30" height="43.80" fill="none" stroke="#111" stroke-width="0.9" />
<path d="M266.50,269.80h2.20 M267.30,266.23h1.40 M267.30,262.67h1.40 M266.50,259.10h2.20 M267.30,255.53h1.40 M267.30,251.97h1.40 M266.50,248.40h2.20 M267.30,244.83h1.40 M267.30,241.27h1.40 M266.50,237.70h2.20 M267.30,234.13h1.40 M267.30,230.57h1.40 M269.20,270.30v2.00 M272.72,270.30v1.30 M276.25,270.30v1.30 M279.77,270.30v2.00 M283.30,270.30v1.30 M286.82,270.30v1.30 M290.35,270.30v2.00 M293.88,270.30v1.30 M297.40,270.30v1.30 M300.93,270.30v2.00 M304.45,270.30v1.30 M307.97,270.30v1.30" stroke="#222" stroke-width="0.6"/>
<text x="270.10" y="233.60" font-size="6.3" fill="#222" stroke="#222" stroke-width="0.1" >0.75</text>
<rect x="318.30" y="226.50" width="43.30" height="43.80" fill="#fff" />
<line x1="323.93" y1="226.50" x2="323.93" y2="270.30" stroke="#c9c9c9" stroke-width="0.6" />
<line x1="336.49" y1="226.50" x2="336.49" y2="270.30" stroke="#c9c9c9" stroke-width="0.6" />
<line x1="350.34" y1="226.50" x2="350.34" y2="270.30" stroke="#c9c9c9" stroke-width="0.6" />
<path d="M328.69,270.30 L330.12,268.66 L332.12,266.29 L333.89,263.73 L335.09,261.12 L336.05,258.31 L336.92,255.41 L337.72,252.42 L338.43,249.34 L339.08,246.21 L339.71,242.87 L340.29,239.48 L340.82,236.57 L341.30,234.38 L341.73,232.68 L342.12,231.32 L342.42,230.07 L342.68,229.16 L342.98,229.13 L343.38,230.17 L343.83,232.08 L344.28,234.82 L344.71,238.62 L345.15,243.24 L345.58,247.96 L346.01,252.84 L346.44,257.83 L346.88,261.98 L347.34,264.90 L347.81,266.99 L348.18,268.55 L348.40,269.55 L348.53,270.02 L348.61,270.30 Z" fill="#d2d5d4" fill-opacity="0.9" stroke="none"/>
<path d="M328.69,270.30 L330.12,268.66 L332.12,266.29 L333.89,263.73 L335.09,261.12 L336.05,258.31 L336.92,255.41 L337.72,252.42 L338.43,249.34 L339.08,246.21 L339.71,242.87 L340.29,239.48 L340.82,236.57 L341.30,234.38 L341.73,232.68 L342.12,231.32 L342.42,230.07 L342.68,229.16 L342.98,229.13 L343.38,230.17 L343.83,232.08 L344.28,234.82 L344.71,238.62 L345.15,243.24 L345.58,247.96 L346.01,252.84 L346.44,257.83 L346.88,261.98 L347.34,264.90 L347.81,266.99 L348.18,268.55 L348.40,269.55 L348.53,270.02 L348.61,270.30" fill="none" stroke="#1a0a0e" stroke-width="1.0" stroke-linejoin="round"/>
<path d="M324.80,270.30 L325.60,268.95 L326.74,266.97 L327.83,264.61 L328.77,261.56 L329.67,258.12 L330.42,255.41 L330.94,254.09 L331.31,253.51 L331.72,252.78 L332.27,251.51 L332.86,250.10 L333.45,248.84 L334.05,247.85 L334.64,247.00 L335.19,246.21 L335.64,245.50 L336.04,244.83 L336.49,244.02 L337.03,242.97 L337.62,241.77 L338.22,240.52 L338.83,239.22 L339.44,237.87 L339.95,236.57 L340.29,235.31 L340.53,234.09 L340.82,233.07 L341.23,232.37 L341.70,231.87 L342.12,231.32 L342.42,230.33 L342.68,229.29 L342.98,229.13 L343.40,230.34 L343.86,232.44 L344.28,234.82 L344.60,237.35 L344.87,240.18 L345.15,243.14 L345.42,246.21 L345.69,249.42 L346.01,252.78 L346.41,256.53 L346.86,260.42 L347.31,263.73 L347.78,266.20 L348.24,268.08 L348.61,269.42 L348.83,270.11 L348.96,270.25 L349.04,270.30 Z" fill="#bc2c56" fill-opacity="0.66" stroke="none"/>
<path d="M324.80,270.30 L325.60,268.95 L326.74,266.97 L327.83,264.61 L328.77,261.56 L329.67,258.12 L330.42,255.41 L330.94,254.09 L331.31,253.51 L331.72,252.78 L332.27,251.51 L332.86,250.10 L333.45,248.84 L334.05,247.85 L334.64,247.00 L335.19,246.21 L335.64,245.50 L336.04,244.83 L336.49,244.02 L337.03,242.97 L337.62,241.77 L338.22,240.52 L338.83,239.22 L339.44,237.87 L339.95,236.57 L340.29,235.31 L340.53,234.09 L340.82,233.07 L341.23,232.37 L341.70,231.87 L342.12,231.32 L342.42,230.33 L342.68,229.29 L342.98,229.13 L343.40,230.34 L343.86,232.44 L344.28,234.82 L344.60,237.35 L344.87,240.18 L345.15,243.14 L345.42,246.21 L345.69,249.42 L346.01,252.78 L346.41,256.53 L346.86,260.42 L347.31,263.73 L347.78,266.20 L348.24,268.08 L348.61,269.42 L348.83,270.11 L348.96,270.25 L349.04,270.30" fill="none" stroke="#8a1535" stroke-width="0.85" stroke-linejoin="round"/>
<rect x="318.30" y="226.50" width="43.30" height="43.80" fill="none" stroke="#111" stroke-width="0.9" />
<path d="M316.10,269.80h2.20 M316.90,266.23h1.40 M316.90,262.67h1.40 M316.10,259.10h2.20 M316.90,255.53h1.40 M316.90,251.97h1.40 M316.10,248.40h2.20 M316.90,244.83h1.40 M316.90,241.27h1.40 M316.10,237.70h2.20 M316.90,234.13h1.40 M316.90,230.57h1.40 M318.80,270.30v2.00 M322.32,270.30v1.30 M325.85,270.30v1.30 M329.38,270.30v2.00 M332.90,270.30v1.30 M336.43,270.30v1.30 M339.95,270.30v2.00 M343.48,270.30v1.30 M347.00,270.30v1.30 M350.53,270.30v2.00 M354.05,270.30v1.30 M357.57,270.30v1.30" stroke="#222" stroke-width="0.6"/>
<text x="319.70" y="233.60" font-size="6.3" fill="#222" stroke="#222" stroke-width="0.1" >0.53</text>
<rect x="367.90" y="226.50" width="43.30" height="43.80" fill="#fff" />
<line x1="373.53" y1="226.50" x2="373.53" y2="270.30" stroke="#c9c9c9" stroke-width="0.6" />
<line x1="386.09" y1="226.50" x2="386.09" y2="270.30" stroke="#c9c9c9" stroke-width="0.6" />
<line x1="399.94" y1="226.50" x2="399.94" y2="270.30" stroke="#c9c9c9" stroke-width="0.6" />
<path d="M379.59,270.30 L380.89,269.15 L382.72,267.46 L384.35,265.48 L385.54,263.29 L386.54,260.81 L387.38,258.04 L388.07,254.92 L388.62,251.51 L389.12,247.96 L389.58,244.04 L390.00,239.96 L390.42,236.57 L390.85,234.25 L391.28,232.62 L391.71,231.32 L392.15,230.13 L392.58,229.29 L393.01,229.13 L393.46,229.76 L393.91,231.07 L394.31,233.07 L394.62,235.86 L394.87,239.33 L395.18,243.14 L395.58,247.44 L396.03,252.08 L396.48,256.28 L396.89,259.80 L397.31,262.89 L397.78,265.48 L398.39,267.59 L399.04,269.21 L399.51,270.30 Z" fill="#d2d5d4" fill-opacity="0.9" stroke="none"/>
<path d="M379.59,270.30 L380.89,269.15 L382.72,267.46 L384.35,265.48 L385.54,263.29 L386.54,260.81 L387.38,258.04 L388.07,254.92 L388.62,251.51 L389.12,247.96 L389.58,244.04 L390.00,239.96 L390.42,236.57 L390.85,234.25 L391.28,232.62 L391.71,231.32 L392.15,230.13 L392.58,229.29 L393.01,229.13 L393.46,229.76 L393.91,231.07 L394.31,233.07 L394.62,235.86 L394.87,239.33 L395.18,243.14 L395.58,247.44 L396.03,252.08 L396.48,256.28 L396.89,259.80 L397.31,262.89 L397.78,265.48 L398.39,267.59 L399.04,269.21 L399.51,270.30" fill="none" stroke="#1a0a0e" stroke-width="1.0" stroke-linejoin="round"/>
<path d="M376.13,270.30 L376.80,268.86 L377.76,266.78 L378.72,264.61 L379.64,262.30 L380.55,259.90 L381.32,258.04 L381.80,257.10 L382.14,256.69 L382.62,256.28 L383.41,255.78 L384.34,255.28 L385.22,254.53 L385.99,253.51 L386.71,252.24 L387.38,250.59 L388.01,248.37 L388.59,245.76 L389.12,243.14 L389.58,240.55 L390.00,237.95 L390.42,235.70 L390.85,233.93 L391.28,232.50 L391.71,231.32 L392.15,230.20 L392.58,229.32 L393.01,229.13 L393.46,229.76 L393.91,231.07 L394.31,233.07 L394.62,235.86 L394.87,239.33 L395.18,243.14 L395.58,247.44 L396.03,252.08 L396.48,256.28 L396.89,259.82 L397.31,262.92 L397.78,265.48 L398.37,267.44 L399.01,268.87 L399.51,269.86 L399.77,270.30 L399.88,270.30 L399.94,270.30 Z" fill="#bc2c56" fill-opacity="0.66" stroke="none"/>
<path d="M376.13,270.30 L376.80,268.86 L377.76,266.78 L378.72,264.61 L379.64,262.30 L380.55,259.90 L381.32,258.04 L381.80,257.10 L382.14,256.69 L382.62,256.28 L383.41,255.78 L384.34,255.28 L385.22,254.53 L385.99,253.51 L386.71,252.24 L387.38,250.59 L388.01,248.37 L388.59,245.76 L389.12,243.14 L389.58,240.55 L390.00,237.95 L390.42,235.70 L390.85,233.93 L391.28,232.50 L391.71,231.32 L392.15,230.20 L392.58,229.32 L393.01,229.13 L393.46,229.76 L393.91,231.07 L394.31,233.07 L394.62,235.86 L394.87,239.33 L395.18,243.14 L395.58,247.44 L396.03,252.08 L396.48,256.28 L396.89,259.82 L397.31,262.92 L397.78,265.48 L398.37,267.44 L399.01,268.87 L399.51,269.86 L399.77,270.30 L399.88,270.30 L399.94,270.30" fill="none" stroke="#8a1535" stroke-width="0.85" stroke-linejoin="round"/>
<rect x="367.90" y="226.50" width="43.30" height="43.80" fill="none" stroke="#111" stroke-width="0.9" />
<path d="M365.70,269.80h2.20 M366.50,266.23h1.40 M366.50,262.67h1.40 M365.70,259.10h2.20 M366.50,255.53h1.40 M366.50,251.97h1.40 M365.70,248.40h2.20 M366.50,244.83h1.40 M366.50,241.27h1.40 M365.70,237.70h2.20 M366.50,234.13h1.40 M366.50,230.57h1.40 M368.40,270.30v2.00 M371.92,270.30v1.30 M375.45,270.30v1.30 M378.97,270.30v2.00 M382.50,270.30v1.30 M386.02,270.30v1.30 M389.55,270.30v2.00 M393.07,270.30v1.30 M396.60,270.30v1.30 M400.12,270.30v2.00 M403.65,270.30v1.30 M407.17,270.30v1.30" stroke="#222" stroke-width="0.6"/>
<text x="369.30" y="233.60" font-size="6.3" fill="#222" stroke="#222" stroke-width="0.1" >0.76</text>
<rect x="417.50" y="226.50" width="43.30" height="43.80" fill="#fff" />
<line x1="423.13" y1="226.50" x2="423.13" y2="270.30" stroke="#c9c9c9" stroke-width="0.6" />
<line x1="435.69" y1="226.50" x2="435.69" y2="270.30" stroke="#c9c9c9" stroke-width="0.6" />
<line x1="449.54" y1="226.50" x2="449.54" y2="270.30" stroke="#c9c9c9" stroke-width="0.6" />
<path d="M428.76,270.30 L430.14,266.97 L432.09,262.19 L433.95,257.16 L435.51,252.02 L436.97,246.63 L438.28,241.83 L439.45,237.74 L440.48,234.24 L441.31,231.76 L441.84,230.26 L442.18,229.79 L442.61,230.88 L443.27,234.06 L444.03,238.80 L444.78,244.02 L445.53,249.86 L446.29,256.19 L446.94,261.54 L447.49,265.43 L447.94,268.35 L448.24,270.30 Z" fill="#d2d5d4" fill-opacity="0.9" stroke="none"/>
<path d="M428.76,270.30 L430.14,266.97 L432.09,262.19 L433.95,257.16 L435.51,252.02 L436.97,246.63 L438.28,241.83 L439.45,237.74 L440.48,234.24 L441.31,231.76 L441.84,230.26 L442.18,229.79 L442.61,230.88 L443.27,234.06 L444.03,238.80 L444.78,244.02 L445.53,249.86 L446.29,256.19 L446.94,261.54 L447.49,265.43 L447.94,268.35 L448.24,270.30" fill="none" stroke="#1a0a0e" stroke-width="1.0" stroke-linejoin="round"/>
<path d="M421.83,270.30 L422.76,267.62 L424.08,263.73 L425.29,259.35 L426.27,254.29 L427.15,248.74 L427.89,244.02 L428.42,240.34 L428.81,237.48 L429.19,236.14 L429.61,236.95 L430.02,239.27 L430.49,241.83 L431.00,244.67 L431.56,247.75 L432.22,249.71 L433.01,249.86 L433.89,248.89 L434.82,247.52 L435.81,245.92 L436.86,243.92 L437.85,241.83 L438.78,239.62 L439.66,237.32 L440.45,235.26 L441.07,233.15 L441.60,231.29 L442.18,230.88 L442.87,232.50 L443.61,235.58 L444.35,239.64 L445.08,244.99 L445.82,251.32 L446.51,257.16 L447.18,262.35 L447.81,267.06 L448.24,270.30 Z" fill="#bc2c56" fill-opacity="0.66" stroke="none"/>
<path d="M421.83,270.30 L422.76,267.62 L424.08,263.73 L425.29,259.35 L426.27,254.29 L427.15,248.74 L427.89,244.02 L428.42,240.34 L428.81,237.48 L429.19,236.14 L429.61,236.95 L430.02,239.27 L430.49,241.83 L431.00,244.67 L431.56,247.75 L432.22,249.71 L433.01,249.86 L433.89,248.89 L434.82,247.52 L435.81,245.92 L436.86,243.92 L437.85,241.83 L438.78,239.62 L439.66,237.32 L440.45,235.26 L441.07,233.15 L441.60,231.29 L442.18,230.88 L442.87,232.50 L443.61,235.58 L444.35,239.64 L445.08,244.99 L445.82,251.32 L446.51,257.16 L447.18,262.35 L447.81,267.06 L448.24,270.30" fill="none" stroke="#8a1535" stroke-width="0.85" stroke-linejoin="round"/>
<rect x="417.50" y="226.50" width="43.30" height="43.80" fill="none" stroke="#111" stroke-width="0.9" />
<path d="M415.30,269.80h2.20 M416.10,266.23h1.40 M416.10,262.67h1.40 M415.30,259.10h2.20 M416.10,255.53h1.40 M416.10,251.97h1.40 M415.30,248.40h2.20 M416.10,244.83h1.40 M416.10,241.27h1.40 M415.30,237.70h2.20 M416.10,234.13h1.40 M416.10,230.57h1.40 M418.00,270.30v2.00 M421.52,270.30v1.30 M425.05,270.30v1.30 M428.57,270.30v2.00 M432.10,270.30v1.30 M435.62,270.30v1.30 M439.15,270.30v2.00 M442.68,270.30v1.30 M446.20,270.30v1.30 M449.73,270.30v2.00 M453.25,270.30v1.30 M456.77,270.30v1.30" stroke="#222" stroke-width="0.6"/>
<text x="418.90" y="233.60" font-size="6.3" fill="#222" stroke="#222" stroke-width="0.1" >0.38</text>
<rect x="467.20" y="226.50" width="43.30" height="43.80" fill="#fff" />
<line x1="472.83" y1="226.50" x2="472.83" y2="270.30" stroke="#c9c9c9" stroke-width="0.6" />
<line x1="485.39" y1="226.50" x2="485.39" y2="270.30" stroke="#c9c9c9" stroke-width="0.6" />
<line x1="499.24" y1="226.50" x2="499.24" y2="270.30" stroke="#c9c9c9" stroke-width="0.6" />
<path d="M477.59,270.30 L479.13,269.41 L481.30,268.03 L483.22,265.92 L484.55,262.84 L485.64,259.03 L486.69,254.97 L487.78,250.59 L488.82,245.97 L489.72,241.83 L490.42,238.37 L490.98,235.41 L491.45,233.07 L491.77,231.16 L491.99,229.87 L492.31,230.00 L492.83,231.98 L493.44,235.37 L494.05,239.64 L494.62,245.14 L495.20,251.51 L495.78,257.16 L496.39,261.62 L497.00,265.35 L497.51,268.11 L497.89,269.57 L498.18,270.06 L498.38,270.30 Z" fill="#d2d5d4" fill-opacity="0.9" stroke="none"/>
<path d="M477.59,270.30 L479.13,269.41 L481.30,268.03 L483.22,265.92 L484.55,262.84 L485.64,259.03 L486.69,254.97 L487.78,250.59 L488.82,245.97 L489.72,241.83 L490.42,238.37 L490.98,235.41 L491.45,233.07 L491.77,231.16 L491.99,229.87 L492.31,230.00 L492.83,231.98 L493.44,235.37 L494.05,239.64 L494.62,245.14 L495.20,251.51 L495.78,257.16 L496.39,261.62 L497.00,265.35 L497.51,268.11 L497.89,269.57 L498.18,270.06 L498.38,270.30" fill="none" stroke="#1a0a0e" stroke-width="1.0" stroke-linejoin="round"/>
<path d="M471.10,270.30 L472.16,266.89 L473.65,262.03 L474.99,257.16 L476.00,252.50 L476.87,247.85 L477.59,244.02 L478.11,241.07 L478.47,238.94 L478.89,238.33 L479.44,240.03 L480.03,243.24 L480.62,246.21 L481.22,248.53 L481.81,250.61 L482.35,251.90 L482.80,252.02 L483.20,251.35 L483.65,250.59 L484.18,250.01 L484.76,249.32 L485.39,248.40 L486.08,247.13 L486.81,245.63 L487.55,244.02 L488.29,242.35 L489.03,240.58 L489.72,238.76 L490.36,236.82 L490.95,234.82 L491.45,233.07 L491.78,231.40 L492.03,229.97 L492.31,229.57 L492.71,230.43 L493.16,232.31 L493.61,235.26 L494.05,239.82 L494.48,245.45 L494.91,250.59 L495.31,254.68 L495.71,258.28 L496.21,261.54 L496.92,264.65 L497.72,267.43 L498.38,269.42 L498.79,270.27 L499.07,270.30 L499.24,270.30 Z" fill="#bc2c56" fill-opacity="0.66" stroke="none"/>
<path d="M471.10,270.30 L472.16,266.89 L473.65,262.03 L474.99,257.16 L476.00,252.50 L476.87,247.85 L477.59,244.02 L478.11,241.07 L478.47,238.94 L478.89,238.33 L479.44,240.03 L480.03,243.24 L480.62,246.21 L481.22,248.53 L481.81,250.61 L482.35,251.90 L482.80,252.02 L483.20,251.35 L483.65,250.59 L484.18,250.01 L484.76,249.32 L485.39,248.40 L486.08,247.13 L486.81,245.63 L487.55,244.02 L488.29,242.35 L489.03,240.58 L489.72,238.76 L490.36,236.82 L490.95,234.82 L491.45,233.07 L491.78,231.40 L492.03,229.97 L492.31,229.57 L492.71,230.43 L493.16,232.31 L493.61,235.26 L494.05,239.82 L494.48,245.45 L494.91,250.59 L495.31,254.68 L495.71,258.28 L496.21,261.54 L496.92,264.65 L497.72,267.43 L498.38,269.42 L498.79,270.27 L499.07,270.30 L499.24,270.30" fill="none" stroke="#8a1535" stroke-width="0.85" stroke-linejoin="round"/>
<rect x="467.20" y="226.50" width="43.30" height="43.80" fill="none" stroke="#111" stroke-width="0.9" />
<path d="M465.00,269.80h2.20 M465.80,266.23h1.40 M465.80,262.67h1.40 M465.00,259.10h2.20 M465.80,255.53h1.40 M465.80,251.97h1.40 M465.00,248.40h2.20 M465.80,244.83h1.40 M465.80,241.27h1.40 M465.00,237.70h2.20 M465.80,234.13h1.40 M465.80,230.57h1.40 M467.70,270.30v2.00 M471.22,270.30v1.30 M474.75,270.30v1.30 M478.27,270.30v2.00 M481.80,270.30v1.30 M485.32,270.30v1.30 M488.85,270.30v2.00 M492.38,270.30v1.30 M495.90,270.30v1.30 M499.43,270.30v2.00 M502.95,270.30v1.30 M506.47,270.30v1.30" stroke="#222" stroke-width="0.6"/>
<text x="468.60" y="233.60" font-size="6.3" fill="#222" stroke="#222" stroke-width="0.1" >0.42</text>
<rect x="268.70" y="276.40" width="43.30" height="42.90" fill="#fff" />
<line x1="274.33" y1="276.40" x2="274.33" y2="319.30" stroke="#c9c9c9" stroke-width="0.6" />
<line x1="286.89" y1="276.40" x2="286.89" y2="319.30" stroke="#c9c9c9" stroke-width="0.6" />
<line x1="300.74" y1="276.40" x2="300.74" y2="319.30" stroke="#c9c9c9" stroke-width="0.6" />
<path d="M276.93,319.30 L278.10,318.16 L279.75,316.54 L281.26,315.01 L282.38,313.91 L283.36,312.91 L284.29,311.58 L285.20,309.86 L286.07,307.81 L286.89,305.14 L287.66,301.42 L288.38,297.09 L289.05,293.13 L289.69,289.84 L290.29,286.93 L290.78,284.55 L291.12,282.72 L291.36,281.42 L291.65,280.69 L292.05,280.45 L292.50,280.79 L292.95,281.98 L293.38,284.25 L293.81,287.38 L294.25,290.99 L294.68,295.23 L295.11,299.95 L295.55,304.28 L295.98,308.03 L296.41,311.40 L296.84,314.15 L297.29,316.12 L297.74,317.47 L298.14,318.44 L298.50,319.01 L298.80,319.20 L299.01,319.30 Z" fill="#d2d5d4" fill-opacity="0.9" stroke="none"/>
<path d="M276.93,319.30 L278.10,318.16 L279.75,316.54 L281.26,315.01 L282.38,313.91 L283.36,312.91 L284.29,311.58 L285.20,309.86 L286.07,307.81 L286.89,305.14 L287.66,301.42 L288.38,297.09 L289.05,293.13 L289.69,289.84 L290.29,286.93 L290.78,284.55 L291.12,282.72 L291.36,281.42 L291.65,280.69 L292.05,280.45 L292.50,280.79 L292.95,281.98 L293.38,284.25 L293.81,287.38 L294.25,290.99 L294.68,295.23 L295.11,299.95 L295.55,304.28 L295.98,308.03 L296.41,311.40 L296.84,314.15 L297.29,316.12 L297.74,317.47 L298.14,318.44 L298.50,319.01 L298.80,319.20 L299.01,319.30" fill="none" stroke="#1a0a0e" stroke-width="1.0" stroke-linejoin="round"/>
<path d="M272.16,319.30 L273.09,318.81 L274.41,318.08 L275.63,317.15 L276.57,316.09 L277.42,314.84 L278.23,313.29 L279.00,311.28 L279.72,308.97 L280.39,306.86 L281.00,305.16 L281.56,303.65 L282.12,302.14 L282.70,300.55 L283.28,298.96 L283.85,297.42 L284.45,295.91 L285.04,294.45 L285.59,293.13 L286.04,292.05 L286.44,291.11 L286.89,290.13 L287.45,289.00 L288.06,287.82 L288.62,286.70 L289.07,285.68 L289.47,284.71 L289.92,283.69 L290.48,282.39 L291.09,281.04 L291.65,280.26 L292.11,280.18 L292.53,280.67 L292.95,281.98 L293.38,284.28 L293.81,287.40 L294.25,290.99 L294.68,295.23 L295.11,299.95 L295.55,304.28 L295.98,308.03 L296.41,311.40 L296.84,314.15 L297.29,316.12 L297.74,317.47 L298.14,318.44 L298.50,319.01 L298.80,319.20 L299.01,319.30 Z" fill="#bc2c56" fill-opacity="0.66" stroke="none"/>
<path d="M272.16,319.30 L273.09,318.81 L274.41,318.08 L275.63,317.15 L276.57,316.09 L277.42,314.84 L278.23,313.29 L279.00,311.28 L279.72,308.97 L280.39,306.86 L281.00,305.16 L281.56,303.65 L282.12,302.14 L282.70,300.55 L283.28,298.96 L283.85,297.42 L284.45,295.91 L285.04,294.45 L285.59,293.13 L286.04,292.05 L286.44,291.11 L286.89,290.13 L287.45,289.00 L288.06,287.82 L288.62,286.70 L289.07,285.68 L289.47,284.71 L289.92,283.69 L290.48,282.39 L291.09,281.04 L291.65,280.26 L292.11,280.18 L292.53,280.67 L292.95,281.98 L293.38,284.28 L293.81,287.40 L294.25,290.99 L294.68,295.23 L295.11,299.95 L295.55,304.28 L295.98,308.03 L296.41,311.40 L296.84,314.15 L297.29,316.12 L297.74,317.47 L298.14,318.44 L298.50,319.01 L298.80,319.20 L299.01,319.30" fill="none" stroke="#8a1535" stroke-width="0.85" stroke-linejoin="round"/>
<rect x="268.70" y="276.40" width="43.30" height="42.90" fill="none" stroke="#111" stroke-width="0.9" />
<path d="M266.50,318.80h2.20 M267.30,314.99h1.40 M267.30,311.18h1.40 M266.50,307.37h2.20 M267.30,303.56h1.40 M267.30,299.75h1.40 M266.50,295.95h2.20 M267.30,292.14h1.40 M267.30,288.33h1.40 M266.50,284.52h2.20 M267.30,280.71h1.40 M269.20,319.30v2.00 M272.72,319.30v1.30 M276.25,319.30v1.30 M279.77,319.30v2.00 M283.30,319.30v1.30 M286.82,319.30v1.30 M290.35,319.30v2.00 M293.88,319.30v1.30 M297.40,319.30v1.30 M300.93,319.30v2.00 M304.45,319.30v1.30 M307.97,319.30v1.30" stroke="#222" stroke-width="0.6"/>
<text x="270.10" y="283.50" font-size="6.3" fill="#222" stroke="#222" stroke-width="0.1" >0.71</text>
<rect x="318.30" y="276.40" width="43.30" height="42.90" fill="#fff" />
<line x1="323.93" y1="276.40" x2="323.93" y2="319.30" stroke="#c9c9c9" stroke-width="0.6" />
<line x1="336.49" y1="276.40" x2="336.49" y2="319.30" stroke="#c9c9c9" stroke-width="0.6" />
<line x1="350.34" y1="276.40" x2="350.34" y2="319.30" stroke="#c9c9c9" stroke-width="0.6" />
<path d="M326.09,319.30 L327.51,317.79 L329.49,315.61 L331.29,313.29 L332.61,311.07 L333.73,308.70 L334.75,306.00 L335.70,302.78 L336.55,299.22 L337.35,295.70 L338.11,292.23 L338.81,288.79 L339.52,285.84 L340.27,283.36 L341.02,281.36 L341.68,280.26 L342.20,280.34 L342.61,281.33 L342.98,282.83 L343.29,284.74 L343.54,287.17 L343.85,290.13 L344.25,293.81 L344.70,298.02 L345.15,302.14 L345.58,306.14 L346.01,310.05 L346.44,313.29 L346.89,315.61 L347.34,317.27 L347.74,318.44 L348.10,319.08 L348.40,319.24 L348.61,319.30 Z" fill="#d2d5d4" fill-opacity="0.9" stroke="none"/>
<path d="M326.09,319.30 L327.51,317.79 L329.49,315.61 L331.29,313.29 L332.61,311.07 L333.73,308.70 L334.75,306.00 L335.70,302.78 L336.55,299.22 L337.35,295.70 L338.11,292.23 L338.81,288.79 L339.52,285.84 L340.27,283.36 L341.02,281.36 L341.68,280.26 L342.20,280.34 L342.61,281.33 L342.98,282.83 L343.29,284.74 L343.54,287.17 L343.85,290.13 L344.25,293.81 L344.70,298.02 L345.15,302.14 L345.58,306.14 L346.01,310.05 L346.44,313.29 L346.89,315.61 L347.34,317.27 L347.74,318.44 L348.10,319.08 L348.40,319.24 L348.61,319.30" fill="none" stroke="#1a0a0e" stroke-width="1.0" stroke-linejoin="round"/>
<path d="M323.93,319.30 L324.96,318.87 L326.41,318.20 L327.83,317.15 L329.04,315.55 L330.22,313.56 L331.29,311.58 L332.24,309.72 L333.09,307.86 L333.89,306.00 L334.66,304.21 L335.38,302.41 L336.05,300.42 L336.66,298.09 L337.22,295.56 L337.79,293.13 L338.38,290.86 L338.97,288.68 L339.52,286.70 L340.00,284.88 L340.43,283.26 L340.82,281.98 L341.12,281.02 L341.38,280.40 L341.68,280.26 L342.10,280.63 L342.56,281.47 L342.98,282.83 L343.29,284.74 L343.54,287.17 L343.85,290.13 L344.25,293.81 L344.70,298.02 L345.15,302.14 L345.58,306.14 L346.01,310.05 L346.44,313.29 L346.89,315.61 L347.34,317.27 L347.74,318.44 L348.10,319.08 L348.40,319.24 L348.61,319.30 Z" fill="#bc2c56" fill-opacity="0.66" stroke="none"/>
<path d="M323.93,319.30 L324.96,318.87 L326.41,318.20 L327.83,317.15 L329.04,315.55 L330.22,313.56 L331.29,311.58 L332.24,309.72 L333.09,307.86 L333.89,306.00 L334.66,304.21 L335.38,302.41 L336.05,300.42 L336.66,298.09 L337.22,295.56 L337.79,293.13 L338.38,290.86 L338.97,288.68 L339.52,286.70 L340.00,284.88 L340.43,283.26 L340.82,281.98 L341.12,281.02 L341.38,280.40 L341.68,280.26 L342.10,280.63 L342.56,281.47 L342.98,282.83 L343.29,284.74 L343.54,287.17 L343.85,290.13 L344.25,293.81 L344.70,298.02 L345.15,302.14 L345.58,306.14 L346.01,310.05 L346.44,313.29 L346.89,315.61 L347.34,317.27 L347.74,318.44 L348.10,319.08 L348.40,319.24 L348.61,319.30" fill="none" stroke="#8a1535" stroke-width="0.85" stroke-linejoin="round"/>
<rect x="318.30" y="276.40" width="43.30" height="42.90" fill="none" stroke="#111" stroke-width="0.9" />
<path d="M316.10,318.80h2.20 M316.90,314.99h1.40 M316.90,311.18h1.40 M316.10,307.37h2.20 M316.90,303.56h1.40 M316.90,299.75h1.40 M316.10,295.95h2.20 M316.90,292.14h1.40 M316.90,288.33h1.40 M316.10,284.52h2.20 M316.90,280.71h1.40 M318.80,319.30v2.00 M322.32,319.30v1.30 M325.85,319.30v1.30 M329.38,319.30v2.00 M332.90,319.30v1.30 M336.43,319.30v1.30 M339.95,319.30v2.00 M343.48,319.30v1.30 M347.00,319.30v1.30 M350.53,319.30v2.00 M354.05,319.30v1.30 M357.57,319.30v1.30" stroke="#222" stroke-width="0.6"/>
<text x="319.70" y="283.50" font-size="6.3" fill="#222" stroke="#222" stroke-width="0.1" >0.91</text>
<rect x="367.90" y="276.40" width="43.30" height="42.90" fill="#fff" />
<line x1="373.53" y1="276.40" x2="373.53" y2="319.30" stroke="#c9c9c9" stroke-width="0.6" />
<line x1="386.09" y1="276.40" x2="386.09" y2="319.30" stroke="#c9c9c9" stroke-width="0.6" />
<line x1="399.94" y1="276.40" x2="399.94" y2="319.30" stroke="#c9c9c9" stroke-width="0.6" />
<path d="M376.99,319.30 L378.13,317.82 L379.75,315.68 L381.32,313.29 L382.70,310.82 L384.03,308.10 L385.22,305.14 L386.21,301.79 L387.06,298.20 L387.82,294.85 L388.46,291.91 L389.00,289.21 L389.55,286.70 L390.14,284.09 L390.74,281.68 L391.28,280.26 L391.75,280.17 L392.16,281.07 L392.58,282.83 L393.00,285.63 L393.41,289.29 L393.88,293.13 L394.43,297.09 L395.02,301.23 L395.61,305.14 L396.19,308.80 L396.77,312.21 L397.34,315.01 L397.99,317.01 L398.63,318.39 L399.08,319.30 Z" fill="#d2d5d4" fill-opacity="0.9" stroke="none"/>
<path d="M376.99,319.30 L378.13,317.82 L379.75,315.68 L381.32,313.29 L382.70,310.82 L384.03,308.10 L385.22,305.14 L386.21,301.79 L387.06,298.20 L387.82,294.85 L388.46,291.91 L389.00,289.21 L389.55,286.70 L390.14,284.09 L390.74,281.68 L391.28,280.26 L391.75,280.17 L392.16,281.07 L392.58,282.83 L393.00,285.63 L393.41,289.29 L393.88,293.13 L394.43,297.09 L395.02,301.23 L395.61,305.14 L396.19,308.80 L396.77,312.21 L397.34,315.01 L397.99,317.01 L398.63,318.39 L399.08,319.30" fill="none" stroke="#1a0a0e" stroke-width="1.0" stroke-linejoin="round"/>
<path d="M375.26,319.30 L376.18,318.27 L377.47,316.76 L378.72,315.01 L379.77,313.06 L380.76,310.86 L381.76,308.57 L382.80,306.21 L383.84,303.74 L384.79,301.28 L385.59,298.76 L386.29,296.23 L386.95,293.99 L387.58,292.26 L388.15,290.81 L388.68,289.27 L389.15,287.40 L389.57,285.42 L389.98,283.69 L390.42,282.17 L390.85,280.88 L391.28,280.26 L391.71,280.39 L392.15,281.18 L392.58,282.83 L393.00,285.63 L393.41,289.29 L393.88,293.13 L394.43,297.09 L395.02,301.23 L395.61,305.14 L396.21,308.81 L396.80,312.25 L397.34,315.01 L397.84,316.87 L398.29,318.06 L398.64,318.87 L398.87,319.28 L399.00,319.30 L399.08,319.30 Z" fill="#bc2c56" fill-opacity="0.66" stroke="none"/>
<path d="M375.26,319.30 L376.18,318.27 L377.47,316.76 L378.72,315.01 L379.77,313.06 L380.76,310.86 L381.76,308.57 L382.80,306.21 L383.84,303.74 L384.79,301.28 L385.59,298.76 L386.29,296.23 L386.95,293.99 L387.58,292.26 L388.15,290.81 L388.68,289.27 L389.15,287.40 L389.57,285.42 L389.98,283.69 L390.42,282.17 L390.85,280.88 L391.28,280.26 L391.71,280.39 L392.15,281.18 L392.58,282.83 L393.00,285.63 L393.41,289.29 L393.88,293.13 L394.43,297.09 L395.02,301.23 L395.61,305.14 L396.21,308.81 L396.80,312.25 L397.34,315.01 L397.84,316.87 L398.29,318.06 L398.64,318.87 L398.87,319.28 L399.00,319.30 L399.08,319.30" fill="none" stroke="#8a1535" stroke-width="0.85" stroke-linejoin="round"/>
<rect x="367.90" y="276.40" width="43.30" height="42.90" fill="none" stroke="#111" stroke-width="0.9" />
<path d="M365.70,318.80h2.20 M366.50,314.99h1.40 M366.50,311.18h1.40 M365.70,307.37h2.20 M366.50,303.56h1.40 M366.50,299.75h1.40 M365.70,295.95h2.20 M366.50,292.14h1.40 M366.50,288.33h1.40 M365.70,284.52h2.20 M366.50,280.71h1.40 M368.40,319.30v2.00 M371.92,319.30v1.30 M375.45,319.30v1.30 M378.97,319.30v2.00 M382.50,319.30v1.30 M386.02,319.30v1.30 M389.55,319.30v2.00 M393.07,319.30v1.30 M396.60,319.30v1.30 M400.12,319.30v2.00 M403.65,319.30v1.30 M407.17,319.30v1.30" stroke="#222" stroke-width="0.6"/>
<text x="369.30" y="283.50" font-size="6.3" fill="#222" stroke="#222" stroke-width="0.1" >0.86</text>
<rect x="417.50" y="276.40" width="43.30" height="42.90" fill="#fff" />
<line x1="423.13" y1="276.40" x2="423.13" y2="319.30" stroke="#c9c9c9" stroke-width="0.6" />
<line x1="435.69" y1="276.40" x2="435.69" y2="319.30" stroke="#c9c9c9" stroke-width="0.6" />
<line x1="449.54" y1="276.40" x2="449.54" y2="319.30" stroke="#c9c9c9" stroke-width="0.6" />
<path d="M427.89,319.30 L429.34,317.63 L431.36,315.25 L433.09,312.86 L434.16,310.96 L434.95,309.05 L435.69,306.43 L436.42,302.54 L437.11,297.93 L437.85,293.56 L438.75,289.54 L439.70,285.76 L440.45,282.83 L440.83,280.88 L441.03,279.78 L441.31,279.83 L441.84,281.21 L442.47,283.74 L443.05,287.12 L443.51,291.72 L443.93,297.17 L444.35,302.14 L444.78,306.24 L445.21,309.86 L445.64,312.86 L446.09,315.14 L446.54,316.79 L446.94,318.01 L447.30,318.78 L447.60,319.11 L447.81,319.30 Z" fill="#d2d5d4" fill-opacity="0.9" stroke="none"/>
<path d="M427.89,319.30 L429.34,317.63 L431.36,315.25 L433.09,312.86 L434.16,310.96 L434.95,309.05 L435.69,306.43 L436.42,302.54 L437.11,297.93 L437.85,293.56 L438.75,289.54 L439.70,285.76 L440.45,282.83 L440.83,280.88 L441.03,279.78 L441.31,279.83 L441.84,281.21 L442.47,283.74 L443.05,287.12 L443.51,291.72 L443.93,297.17 L444.35,302.14 L444.78,306.24 L445.21,309.86 L445.64,312.86 L446.09,315.14 L446.54,316.79 L446.94,318.01 L447.30,318.78 L447.60,319.11 L447.81,319.30" fill="none" stroke="#1a0a0e" stroke-width="1.0" stroke-linejoin="round"/>
<path d="M418.37,319.30 L419.15,318.51 L420.27,317.23 L421.40,315.01 L422.44,311.43 L423.48,306.91 L424.43,302.14 L425.25,296.90 L425.97,291.41 L426.59,287.12 L427.09,284.50 L427.49,283.07 L427.89,282.83 L428.31,283.87 L428.73,286.09 L429.19,289.27 L429.74,293.93 L430.33,299.53 L430.92,304.28 L431.48,307.51 L432.05,309.88 L432.65,311.58 L433.33,312.48 L434.05,312.72 L434.82,312.86 L435.64,313.06 L436.50,313.15 L437.42,313.29 L438.44,313.52 L439.52,313.79 L440.45,314.15 L441.09,314.63 L441.59,315.20 L442.18,315.87 L442.98,316.73 L443.88,317.68 L444.78,318.44 L445.74,318.89 L446.70,319.14 L447.38,319.30 Z" fill="#bc2c56" fill-opacity="0.66" stroke="none"/>
<path d="M418.37,319.30 L419.15,318.51 L420.27,317.23 L421.40,315.01 L422.44,311.43 L423.48,306.91 L424.43,302.14 L425.25,296.90 L425.97,291.41 L426.59,287.12 L427.09,284.50 L427.49,283.07 L427.89,282.83 L428.31,283.87 L428.73,286.09 L429.19,289.27 L429.74,293.93 L430.33,299.53 L430.92,304.28 L431.48,307.51 L432.05,309.88 L432.65,311.58 L433.33,312.48 L434.05,312.72 L434.82,312.86 L435.64,313.06 L436.50,313.15 L437.42,313.29 L438.44,313.52 L439.52,313.79 L440.45,314.15 L441.09,314.63 L441.59,315.20 L442.18,315.87 L442.98,316.73 L443.88,317.68 L444.78,318.44 L445.74,318.89 L446.70,319.14 L447.38,319.30" fill="none" stroke="#8a1535" stroke-width="0.85" stroke-linejoin="round"/>
<rect x="417.50" y="276.40" width="43.30" height="42.90" fill="none" stroke="#111" stroke-width="0.9" />
<path d="M415.30,318.80h2.20 M416.10,314.99h1.40 M416.10,311.18h1.40 M415.30,307.37h2.20 M416.10,303.56h1.40 M416.10,299.75h1.40 M415.30,295.95h2.20 M416.10,292.14h1.40 M416.10,288.33h1.40 M415.30,284.52h2.20 M416.10,280.71h1.40 M418.00,319.30v2.00 M421.52,319.30v1.30 M425.05,319.30v1.30 M428.57,319.30v2.00 M432.10,319.30v1.30 M435.62,319.30v1.30 M439.15,319.30v2.00 M442.68,319.30v1.30 M446.20,319.30v1.30 M449.73,319.30v2.00 M453.25,319.30v1.30 M456.77,319.30v1.30" stroke="#222" stroke-width="0.6"/>
<text x="418.90" y="283.50" font-size="6.3" fill="#222" stroke="#222" stroke-width="0.1" >0.12</text>
<rect x="467.20" y="276.40" width="43.30" height="42.90" fill="#fff" />
<line x1="472.83" y1="276.40" x2="472.83" y2="319.30" stroke="#c9c9c9" stroke-width="0.6" />
<line x1="485.39" y1="276.40" x2="485.39" y2="319.30" stroke="#c9c9c9" stroke-width="0.6" />
<line x1="499.24" y1="276.40" x2="499.24" y2="319.30" stroke="#c9c9c9" stroke-width="0.6" />
<path d="M475.86,319.30 L477.40,318.27 L479.56,316.76 L481.49,315.01 L482.84,313.26 L483.94,311.28 L484.95,308.57 L485.88,304.68 L486.72,300.07 L487.55,295.70 L488.47,291.73 L489.38,288.00 L490.15,284.98 L490.66,282.68 L491.03,281.09 L491.45,280.69 L492.01,281.72 L492.62,283.95 L493.18,287.12 L493.65,291.65 L494.06,297.13 L494.48,302.14 L494.91,306.22 L495.34,309.83 L495.78,312.86 L496.23,315.28 L496.68,317.12 L497.08,318.44 L497.43,319.11 L497.73,319.25 L497.94,319.30 Z" fill="#d2d5d4" fill-opacity="0.9" stroke="none"/>
<path d="M475.86,319.30 L477.40,318.27 L479.56,316.76 L481.49,315.01 L482.84,313.26 L483.94,311.28 L484.95,308.57 L485.88,304.68 L486.72,300.07 L487.55,295.70 L488.47,291.73 L489.38,288.00 L490.15,284.98 L490.66,282.68 L491.03,281.09 L491.45,280.69 L492.01,281.72 L492.62,283.95 L493.18,287.12 L493.65,291.65 L494.06,297.13 L494.48,302.14 L494.91,306.22 L495.34,309.83 L495.78,312.86 L496.23,315.28 L496.68,317.12 L497.08,318.44 L497.43,319.11 L497.73,319.25 L497.94,319.30" fill="none" stroke="#1a0a0e" stroke-width="1.0" stroke-linejoin="round"/>
<path d="M470.23,319.30 L471.31,317.87 L472.81,315.72 L474.13,312.86 L474.99,309.05 L475.67,304.52 L476.29,299.99 L476.92,295.39 L477.50,290.78 L478.02,287.12 L478.49,284.66 L478.91,283.15 L479.32,282.83 L479.76,283.95 L480.19,286.25 L480.62,289.27 L481.06,293.21 L481.49,297.87 L481.92,302.14 L482.34,305.79 L482.76,309.07 L483.22,311.58 L483.77,313.06 L484.36,313.77 L484.95,314.15 L485.50,314.26 L486.04,314.04 L486.69,313.72 L487.50,313.29 L488.42,312.77 L489.28,312.44 L490.04,312.36 L490.74,312.47 L491.45,312.86 L492.17,313.69 L492.89,314.80 L493.61,315.87 L494.37,316.82 L495.12,317.73 L495.78,318.44 L496.32,318.89 L496.77,319.14 L497.08,319.30 Z" fill="#bc2c56" fill-opacity="0.66" stroke="none"/>
<path d="M470.23,319.30 L471.31,317.87 L472.81,315.72 L474.13,312.86 L474.99,309.05 L475.67,304.52 L476.29,299.99 L476.92,295.39 L477.50,290.78 L478.02,287.12 L478.49,284.66 L478.91,283.15 L479.32,282.83 L479.76,283.95 L480.19,286.25 L480.62,289.27 L481.06,293.21 L481.49,297.87 L481.92,302.14 L482.34,305.79 L482.76,309.07 L483.22,311.58 L483.77,313.06 L484.36,313.77 L484.95,314.15 L485.50,314.26 L486.04,314.04 L486.69,313.72 L487.50,313.29 L488.42,312.77 L489.28,312.44 L490.04,312.36 L490.74,312.47 L491.45,312.86 L492.17,313.69 L492.89,314.80 L493.61,315.87 L494.37,316.82 L495.12,317.73 L495.78,318.44 L496.32,318.89 L496.77,319.14 L497.08,319.30" fill="none" stroke="#8a1535" stroke-width="0.85" stroke-linejoin="round"/>
<rect x="467.20" y="276.40" width="43.30" height="42.90" fill="none" stroke="#111" stroke-width="0.9" />
<path d="M465.00,318.80h2.20 M465.80,314.99h1.40 M465.80,311.18h1.40 M465.00,307.37h2.20 M465.80,303.56h1.40 M465.80,299.75h1.40 M465.00,295.95h2.20 M465.80,292.14h1.40 M465.80,288.33h1.40 M465.00,284.52h2.20 M465.80,280.71h1.40 M467.70,319.30v2.00 M471.22,319.30v1.30 M474.75,319.30v1.30 M478.27,319.30v2.00 M481.80,319.30v1.30 M485.32,319.30v1.30 M488.85,319.30v2.00 M492.38,319.30v1.30 M495.90,319.30v1.30 M499.43,319.30v2.00 M502.95,319.30v1.30 M506.47,319.30v1.30" stroke="#222" stroke-width="0.6"/>
<text x="468.60" y="283.50" font-size="6.3" fill="#222" stroke="#222" stroke-width="0.1" >0.15</text>
<text x="315.20" y="211.00" font-size="6.4" fill="#111" text-anchor="middle" font-weight="bold" textLength="25.0" lengthAdjust="spacingAndGlyphs" >HDAC6i</text>
<text x="389.60" y="211.00" font-size="6.4" fill="#111" text-anchor="middle" font-weight="bold" textLength="23.1" lengthAdjust="spacingAndGlyphs" >HDAC8i</text>
<text x="465.00" y="211.00" font-size="6.4" fill="#111" text-anchor="middle" font-weight="bold" textLength="38.5" lengthAdjust="spacingAndGlyphs" >HDAC1/2/3i</text>
<line x1="268.80" y1="215.10" x2="361.50" y2="215.10" stroke="#333" stroke-width="0.9" />
<line x1="368.00" y1="215.10" x2="412.00" y2="215.10" stroke="#333" stroke-width="0.9" />
<line x1="417.80" y1="215.10" x2="510.20" y2="215.10" stroke="#333" stroke-width="0.9" />
<text x="290.40" y="222.30" font-size="6.2" fill="#222" text-anchor="middle" stroke="#222" stroke-width="0.1" >Tubacin</text>
<text x="340.20" y="222.30" font-size="6.2" fill="#222" text-anchor="middle" stroke="#222" stroke-width="0.1" >Tubastatin A</text>
<text x="389.00" y="222.30" font-size="6.2" fill="#222" text-anchor="middle" stroke="#222" stroke-width="0.1" >PCI−34051</text>
<text x="438.40" y="222.30" font-size="6.2" fill="#222" text-anchor="middle" stroke="#222" stroke-width="0.1" >Entinostat</text>
<text x="487.80" y="222.30" font-size="6.2" fill="#222" text-anchor="middle" stroke="#222" stroke-width="0.1" >Mocetinostat</text>
<text x="263.20" y="232.40" font-size="6.0" fill="#111" text-anchor="end" font-weight="bold" >24 h</text>
<text x="262.60" y="281.30" font-size="6.0" fill="#111" text-anchor="end" font-weight="bold" >48 h</text>
<path d="M264.6,324.3 V294 M264.6,324.3 H300" stroke="#111" stroke-width="0.9" fill="none"/>
<path d="M264.6,290.5 L263,294.7 L266.2,294.7 Z M303.7,324.3 L299.5,322.7 L299.5,325.9 Z" fill="#111"/>
<text x="250.20" y="308.50" font-size="6.3" fill="#333" text-anchor="middle" transform="rotate(-90 250.20 308.50)" stroke="#333" stroke-width="0.1" >norm.</text>
<text x="260.90" y="308.80" font-size="6.3" fill="#333" text-anchor="middle" transform="rotate(-90 260.90 308.80)" stroke="#333" stroke-width="0.1" >count</text>
<text x="275.40" y="334.80" font-size="6.6" fill="#333" stroke="#333" stroke-width="0.1" >p53</text>
<text x="389.80" y="332.00" font-size="6.2" fill="#111" text-anchor="middle" font-weight="bold" textLength="27.5" lengthAdjust="spacingAndGlyphs" >Namalwa</text>
<text x="463.00" y="328.80" font-size="6.6" fill="#555" textLength="19.5" lengthAdjust="spacingAndGlyphs" stroke="#555" stroke-width="0.1" >DMSO</text>
<text x="490.80" y="328.80" font-size="6.6" fill="#a8193f" textLength="20" lengthAdjust="spacingAndGlyphs" stroke="#a8193f" stroke-width="0.1" >HDACi</text>
<text x="10.50" y="349.40" font-size="11.2" fill="#111" font-weight="bold" textLength="7.7" lengthAdjust="spacingAndGlyphs" stroke="#111" stroke-width="0.35">D</text>
<rect x="40.80" y="366.90" width="114.20" height="98.30" fill="none" stroke="#111" stroke-width="1.1" />
<line x1="45.60" y1="366.90" x2="45.60" y2="465.20" stroke="#000" stroke-width="1.1" />
<line x1="40.80" y1="460.50" x2="155.00" y2="460.50" stroke="#000" stroke-width="1.1" />
<text x="35.00" y="373.60" font-size="6.0" fill="#333" text-anchor="end" stroke="#333" stroke-width="0.1" >1.00</text>
<line x1="37.70" y1="371.50" x2="40.80" y2="371.50" stroke="#000" stroke-width="0.8" />
<text x="35.00" y="395.85" font-size="6.0" fill="#333" text-anchor="end" stroke="#333" stroke-width="0.1" >0.75</text>
<line x1="37.70" y1="393.75" x2="40.80" y2="393.75" stroke="#000" stroke-width="0.8" />
<text x="35.00" y="418.10" font-size="6.0" fill="#333" text-anchor="end" stroke="#333" stroke-width="0.1" >0.50</text>
<line x1="37.70" y1="416.00" x2="40.80" y2="416.00" stroke="#000" stroke-width="0.8" />
<text x="35.00" y="440.35" font-size="6.0" fill="#333" text-anchor="end" stroke="#333" stroke-width="0.1" >0.25</text>
<line x1="37.70" y1="438.25" x2="40.80" y2="438.25" stroke="#000" stroke-width="0.8" />
<text x="35.00" y="462.60" font-size="6.0" fill="#333" text-anchor="end" stroke="#333" stroke-width="0.1" >0.00</text>
<line x1="37.70" y1="460.50" x2="40.80" y2="460.50" stroke="#000" stroke-width="0.8" />
<text x="45.60" y="476.30" font-size="6.0" fill="#333" text-anchor="middle" stroke="#333" stroke-width="0.1" >0.00</text>
<line x1="45.60" y1="465.20" x2="45.60" y2="467.40" stroke="#000" stroke-width="0.8" />
<text x="71.25" y="476.30" font-size="6.0" fill="#333" text-anchor="middle" stroke="#333" stroke-width="0.1" >0.25</text>
<line x1="71.25" y1="465.20" x2="71.25" y2="467.40" stroke="#000" stroke-width="0.8" />
<text x="97.50" y="476.30" font-size="6.0" fill="#333" text-anchor="middle" stroke="#333" stroke-width="0.1" >0.50</text>
<line x1="97.50" y1="465.20" x2="97.50" y2="467.40" stroke="#000" stroke-width="0.8" />
<text x="123.75" y="476.30" font-size="6.0" fill="#333" text-anchor="middle" stroke="#333" stroke-width="0.1" >0.75</text>
<line x1="123.75" y1="465.20" x2="123.75" y2="467.40" stroke="#000" stroke-width="0.8" />
<text x="150.60" y="476.30" font-size="6.0" fill="#333" text-anchor="middle" stroke="#333" stroke-width="0.1" >1.00</text>
<line x1="150.60" y1="465.20" x2="150.60" y2="467.40" stroke="#000" stroke-width="0.8" />
<line x1="74.20" y1="438.80" x2="134.80" y2="395.60" stroke="#1f3a5f" stroke-width="1.7" />
<circle cx="133.8" cy="399.2" r="1.7" fill="#8a1535"/>
<circle cx="109.2" cy="399.2" r="1.7" fill="#8a1535"/>
<circle cx="92.3" cy="419.8" r="1.7" fill="#8a1535"/>
<circle cx="73.8" cy="425.4" r="1.7" fill="#8a1535"/>
<circle cx="89.2" cy="432.2" r="1.7" fill="#8a1535"/>
<circle cx="78.5" cy="434" r="1.7" fill="#8a1535"/>
<circle cx="94.8" cy="439.2" r="1.7" fill="#8a1535"/>
<circle cx="77" cy="450" r="1.7" fill="#8a1535"/>
<text x="128.60" y="397.60" font-size="6.1" fill="#222" stroke="#222" stroke-width="0.1" >CA−46</text>
<text x="95.40" y="405.10" font-size="6.1" fill="#222" stroke="#222" stroke-width="0.1" >Ramos</text>
<text x="83.00" y="426.10" font-size="6.1" fill="#222" stroke="#222" stroke-width="0.1" >Raji</text>
<text x="60.00" y="424.40" font-size="6.1" fill="#222" stroke="#222" stroke-width="0.1" >BL−60</text>
<text x="92.30" y="432.40" font-size="6.1" fill="#222" stroke="#222" stroke-width="0.1" >SUDHL−4</text>
<text x="66.00" y="439.80" font-size="6.1" fill="#222" stroke="#222" stroke-width="0.1" >BL−41</text>
<text x="92.30" y="445.30" font-size="6.1" fill="#222" stroke="#222" stroke-width="0.1" >DG−75</text>
<text x="63.70" y="449.10" font-size="6.1" fill="#222" stroke="#222" stroke-width="0.1" >Namalwa</text>
<text x="48.1" y="373.8" font-size="6.3" fill="#222"><tspan font-style="italic">r</tspan> = 0.80</text>
<text x="48.1" y="382.4" font-size="6.3" fill="#222"><tspan font-style="italic">P</tspan> = .018</text>
<text x="17.00" y="415.00" font-size="7.6" fill="#333" text-anchor="middle" textLength="92" lengthAdjust="spacingAndGlyphs" transform="rotate(-90 17.00 415.00)" stroke="#333" stroke-width="0.1" >Normalized p53 level shTRRAP</text>
<text x="51.10" y="488.50" font-size="7.6" fill="#333" textLength="93.9" lengthAdjust="spacingAndGlyphs" stroke="#333" stroke-width="0.1" >Normalized p53 level vorinostat</text>
<rect x="160.90" y="363.80" width="32.00" height="32.00" fill="#fff" />
<line x1="165.06" y1="363.80" x2="165.06" y2="395.80" stroke="#c9c9c9" stroke-width="0.6" />
<line x1="176.90" y1="363.80" x2="176.90" y2="395.80" stroke="#c9c9c9" stroke-width="0.6" />
<line x1="184.90" y1="363.80" x2="184.90" y2="395.80" stroke="#c9c9c9" stroke-width="0.6" />
<path d="M172.42,395.80 L173.02,393.25 L173.88,389.64 L174.66,386.20 L175.25,383.30 L175.77,380.57 L176.26,378.20 L176.70,376.24 L177.10,374.64 L177.54,373.40 L178.07,372.65 L178.64,372.26 L179.14,371.80 L179.47,370.88 L179.73,369.88 L180.10,369.56 L180.69,370.41 L181.39,371.94 L182.02,373.40 L182.48,374.04 L182.87,374.61 L183.30,376.60 L183.85,381.46 L184.43,387.74 L184.90,392.60 L185.21,394.73 L185.41,395.44 L185.54,395.80 Z" fill="#d6d6d6" fill-opacity="0.85" stroke="none"/>
<path d="M172.42,395.80 L173.02,393.25 L173.88,389.64 L174.66,386.20 L175.25,383.30 L175.77,380.57 L176.26,378.20 L176.70,376.24 L177.10,374.64 L177.54,373.40 L178.07,372.65 L178.64,372.26 L179.14,371.80 L179.47,370.88 L179.73,369.88 L180.10,369.56 L180.69,370.41 L181.39,371.94 L182.02,373.40 L182.48,374.04 L182.87,374.61 L183.30,376.60 L183.85,381.46 L184.43,387.74 L184.90,392.60 L185.21,394.73 L185.41,395.44 L185.54,395.80" fill="none" stroke="#111" stroke-width="0.9" stroke-linejoin="round"/>
<path d="M171.14,395.80 L171.46,392.54 L171.92,387.86 L172.42,383.00 L172.94,377.37 L173.50,371.56 L174.02,368.60 L174.47,370.67 L174.89,375.59 L175.30,379.80 L175.70,381.93 L176.11,383.36 L176.58,384.60 L177.14,385.87 L177.77,386.96 L178.50,387.80 L179.42,388.18 L180.46,388.31 L181.38,388.76 L182.10,389.85 L182.72,391.26 L183.30,392.60 L183.92,393.83 L184.50,394.99 L184.90,395.80 Z" fill="#bc2c56" fill-opacity="0.66" stroke="none"/>
<path d="M171.14,395.80 L171.46,392.54 L171.92,387.86 L172.42,383.00 L172.94,377.37 L173.50,371.56 L174.02,368.60 L174.47,370.67 L174.89,375.59 L175.30,379.80 L175.70,381.93 L176.11,383.36 L176.58,384.60 L177.14,385.87 L177.77,386.96 L178.50,387.80 L179.42,388.18 L180.46,388.31 L181.38,388.76 L182.10,389.85 L182.72,391.26 L183.30,392.60 L183.92,393.83 L184.50,394.99 L184.90,395.80" fill="none" stroke="#8a1535" stroke-width="0.85" stroke-linejoin="round"/>
<rect x="160.90" y="363.80" width="32.00" height="32.00" fill="none" stroke="#111" stroke-width="0.9" />
<path d="M158.70,395.30h2.20 M159.50,391.43h1.40 M159.50,387.55h1.40 M158.70,383.68h2.20 M159.50,379.80h1.40 M159.50,375.93h1.40 M158.70,372.05h2.20 M159.50,368.18h1.40 M161.40,395.80v2.00 M165.28,395.80v1.30 M169.15,395.80v1.30 M173.03,395.80v2.00 M176.90,395.80v1.30 M180.78,395.80v1.30 M184.65,395.80v2.00 M188.53,395.80v1.30" stroke="#222" stroke-width="0.6"/>
<rect x="199.20" y="363.80" width="32.00" height="32.00" fill="#fff" />
<line x1="203.36" y1="363.80" x2="203.36" y2="395.80" stroke="#c9c9c9" stroke-width="0.6" />
<line x1="215.20" y1="363.80" x2="215.20" y2="395.80" stroke="#c9c9c9" stroke-width="0.6" />
<line x1="223.20" y1="363.80" x2="223.20" y2="395.80" stroke="#c9c9c9" stroke-width="0.6" />
<path d="M210.72,395.80 L211.49,392.30 L212.58,387.39 L213.60,383.00 L214.39,379.86 L215.12,377.25 L215.84,375.00 L216.62,373.01 L217.40,371.37 L218.08,370.20 L218.59,369.39 L218.99,369.05 L219.36,369.56 L219.69,371.48 L219.99,374.25 L220.32,376.60 L220.71,377.48 L221.14,377.93 L221.60,379.80 L222.17,384.78 L222.77,391.18 L223.20,395.80 Z" fill="#d6d6d6" fill-opacity="0.85" stroke="none"/>
<path d="M210.72,395.80 L211.49,392.30 L212.58,387.39 L213.60,383.00 L214.39,379.86 L215.12,377.25 L215.84,375.00 L216.62,373.01 L217.40,371.37 L218.08,370.20 L218.59,369.39 L218.99,369.05 L219.36,369.56 L219.69,371.48 L219.99,374.25 L220.32,376.60 L220.71,377.48 L221.14,377.93 L221.60,379.80 L222.17,384.78 L222.77,391.18 L223.20,395.80" fill="none" stroke="#111" stroke-width="0.9" stroke-linejoin="round"/>
<path d="M210.08,395.80 L210.52,388.27 L211.13,377.90 L211.68,370.20 L212.05,367.18 L212.34,366.82 L212.64,368.60 L212.91,373.52 L213.19,380.57 L213.60,386.20 L214.25,388.93 L215.05,390.23 L215.84,391.00 L216.59,391.41 L217.33,391.30 L218.08,391.00 L218.86,390.50 L219.64,389.83 L220.32,389.40 L220.81,389.26 L221.19,389.36 L221.60,390.04 L222.17,391.79 L222.77,394.12 L223.20,395.80 Z" fill="#bc2c56" fill-opacity="0.66" stroke="none"/>
<path d="M210.08,395.80 L210.52,388.27 L211.13,377.90 L211.68,370.20 L212.05,367.18 L212.34,366.82 L212.64,368.60 L212.91,373.52 L213.19,380.57 L213.60,386.20 L214.25,388.93 L215.05,390.23 L215.84,391.00 L216.59,391.41 L217.33,391.30 L218.08,391.00 L218.86,390.50 L219.64,389.83 L220.32,389.40 L220.81,389.26 L221.19,389.36 L221.60,390.04 L222.17,391.79 L222.77,394.12 L223.20,395.80" fill="none" stroke="#8a1535" stroke-width="0.85" stroke-linejoin="round"/>
<rect x="199.20" y="363.80" width="32.00" height="32.00" fill="none" stroke="#111" stroke-width="0.9" />
<path d="M197.00,395.30h2.20 M197.80,391.43h1.40 M197.80,387.55h1.40 M197.00,383.68h2.20 M197.80,379.80h1.40 M197.80,375.93h1.40 M197.00,372.05h2.20 M197.80,368.18h1.40 M199.70,395.80v2.00 M203.57,395.80v1.30 M207.45,395.80v1.30 M211.32,395.80v2.00 M215.20,395.80v1.30 M219.07,395.80v1.30 M222.95,395.80v2.00 M226.82,395.80v1.30" stroke="#222" stroke-width="0.6"/>
<rect x="160.90" y="401.80" width="32.00" height="32.30" fill="#fff" />
<line x1="165.06" y1="401.80" x2="165.06" y2="434.10" stroke="#c9c9c9" stroke-width="0.6" />
<line x1="176.90" y1="401.80" x2="176.90" y2="434.10" stroke="#c9c9c9" stroke-width="0.6" />
<line x1="184.90" y1="401.80" x2="184.90" y2="434.10" stroke="#c9c9c9" stroke-width="0.6" />
<path d="M175.30,434.10 L175.89,432.89 L176.73,431.11 L177.54,428.93 L178.23,426.35 L178.88,423.37 L179.46,420.21 L179.92,416.63 L180.31,412.88 L180.74,409.88 L181.25,408.03 L181.79,406.94 L182.34,406.32 L182.89,405.93 L183.43,406.00 L183.94,406.97 L184.37,409.16 L184.76,412.24 L185.22,415.69 L185.84,419.66 L186.52,423.99 L187.14,427.64 L187.64,430.22 L188.06,432.13 L188.42,433.45 L188.70,434.08 L188.92,434.10 L189.06,434.10 Z" fill="#d6d6d6" fill-opacity="0.85" stroke="none"/>
<path d="M175.30,434.10 L175.89,432.89 L176.73,431.11 L177.54,428.93 L178.23,426.35 L178.88,423.37 L179.46,420.21 L179.92,416.63 L180.31,412.88 L180.74,409.88 L181.25,408.03 L181.79,406.94 L182.34,406.32 L182.89,405.93 L183.43,406.00 L183.94,406.97 L184.37,409.16 L184.76,412.24 L185.22,415.69 L185.84,419.66 L186.52,423.99 L187.14,427.64 L187.64,430.22 L188.06,432.13 L188.42,433.45 L188.70,434.08 L188.92,434.10 L189.06,434.10" fill="none" stroke="#111" stroke-width="0.9" stroke-linejoin="round"/>
<path d="M170.18,434.10 L170.78,432.46 L171.64,430.10 L172.42,427.64 L173.01,425.07 L173.53,422.39 L174.02,420.21 L174.43,418.84 L174.81,417.96 L175.30,417.30 L175.99,416.83 L176.78,416.56 L177.54,416.34 L178.22,416.29 L178.86,416.28 L179.46,415.69 L180.02,414.05 L180.54,411.84 L181.06,409.88 L181.61,408.32 L182.15,407.02 L182.66,406.32 L183.10,406.30 L183.50,406.88 L183.94,408.26 L184.45,410.76 L184.99,414.05 L185.54,417.30 L186.09,420.34 L186.63,423.35 L187.14,426.03 L187.59,428.31 L188.01,430.27 L188.42,431.84 L188.89,432.94 L189.37,433.65 L189.70,434.10 Z" fill="#bc2c56" fill-opacity="0.66" stroke="none"/>
<path d="M170.18,434.10 L170.78,432.46 L171.64,430.10 L172.42,427.64 L173.01,425.07 L173.53,422.39 L174.02,420.21 L174.43,418.84 L174.81,417.96 L175.30,417.30 L175.99,416.83 L176.78,416.56 L177.54,416.34 L178.22,416.29 L178.86,416.28 L179.46,415.69 L180.02,414.05 L180.54,411.84 L181.06,409.88 L181.61,408.32 L182.15,407.02 L182.66,406.32 L183.10,406.30 L183.50,406.88 L183.94,408.26 L184.45,410.76 L184.99,414.05 L185.54,417.30 L186.09,420.34 L186.63,423.35 L187.14,426.03 L187.59,428.31 L188.01,430.27 L188.42,431.84 L188.89,432.94 L189.37,433.65 L189.70,434.10" fill="none" stroke="#8a1535" stroke-width="0.85" stroke-linejoin="round"/>
<rect x="160.90" y="401.80" width="32.00" height="32.30" fill="none" stroke="#111" stroke-width="0.9" />
<path d="M158.70,433.60h2.20 M159.50,429.69h1.40 M159.50,425.78h1.40 M158.70,421.86h2.20 M159.50,417.95h1.40 M159.50,414.04h1.40 M158.70,410.12h2.20 M159.50,406.21h1.40 M161.40,434.10v2.00 M165.28,434.10v1.30 M169.15,434.10v1.30 M173.03,434.10v2.00 M176.90,434.10v1.30 M180.78,434.10v1.30 M184.65,434.10v2.00 M188.53,434.10v1.30" stroke="#222" stroke-width="0.6"/>
<rect x="199.20" y="401.80" width="32.00" height="32.30" fill="#fff" />
<line x1="203.36" y1="401.80" x2="203.36" y2="434.10" stroke="#c9c9c9" stroke-width="0.6" />
<line x1="215.20" y1="401.80" x2="215.20" y2="434.10" stroke="#c9c9c9" stroke-width="0.6" />
<line x1="223.20" y1="401.80" x2="223.20" y2="434.10" stroke="#c9c9c9" stroke-width="0.6" />
<path d="M214.24,434.10 L215.18,433.59 L216.50,432.82 L217.76,431.84 L218.81,430.70 L219.80,429.35 L220.64,427.64 L221.28,425.51 L221.78,423.02 L222.24,420.21 L222.70,416.77 L223.13,413.00 L223.52,409.88 L223.85,407.54 L224.15,405.86 L224.48,405.35 L224.87,406.24 L225.30,408.31 L225.76,411.49 L226.27,416.49 L226.81,422.60 L227.36,427.64 L227.95,430.75 L228.55,432.78 L228.96,434.10 Z" fill="#d6d6d6" fill-opacity="0.85" stroke="none"/>
<path d="M214.24,434.10 L215.18,433.59 L216.50,432.82 L217.76,431.84 L218.81,430.70 L219.80,429.35 L220.64,427.64 L221.28,425.51 L221.78,423.02 L222.24,420.21 L222.70,416.77 L223.13,413.00 L223.52,409.88 L223.85,407.54 L224.15,405.86 L224.48,405.35 L224.87,406.24 L225.30,408.31 L225.76,411.49 L226.27,416.49 L226.81,422.60 L227.36,427.64 L227.95,430.75 L228.55,432.78 L228.96,434.10" fill="none" stroke="#111" stroke-width="0.9" stroke-linejoin="round"/>
<path d="M212.00,434.10 L212.32,432.33 L212.78,429.84 L213.28,427.64 L213.79,425.93 L214.33,424.51 L214.88,423.76 L215.39,424.17 L215.90,425.26 L216.48,426.03 L217.19,426.14 L217.97,425.94 L218.72,425.38 L219.40,424.40 L220.04,423.06 L220.64,421.50 L221.19,419.88 L221.69,418.03 L222.24,415.69 L222.89,412.03 L223.58,407.87 L224.16,405.35 L224.53,405.44 L224.79,407.17 L225.12,409.88 L225.62,413.81 L226.19,418.72 L226.72,423.12 L227.17,426.60 L227.59,429.58 L228.00,431.84 L228.47,433.15 L228.95,433.75 L229.28,434.10 Z" fill="#bc2c56" fill-opacity="0.66" stroke="none"/>
<path d="M212.00,434.10 L212.32,432.33 L212.78,429.84 L213.28,427.64 L213.79,425.93 L214.33,424.51 L214.88,423.76 L215.39,424.17 L215.90,425.26 L216.48,426.03 L217.19,426.14 L217.97,425.94 L218.72,425.38 L219.40,424.40 L220.04,423.06 L220.64,421.50 L221.19,419.88 L221.69,418.03 L222.24,415.69 L222.89,412.03 L223.58,407.87 L224.16,405.35 L224.53,405.44 L224.79,407.17 L225.12,409.88 L225.62,413.81 L226.19,418.72 L226.72,423.12 L227.17,426.60 L227.59,429.58 L228.00,431.84 L228.47,433.15 L228.95,433.75 L229.28,434.10" fill="none" stroke="#8a1535" stroke-width="0.85" stroke-linejoin="round"/>
<rect x="199.20" y="401.80" width="32.00" height="32.30" fill="none" stroke="#111" stroke-width="0.9" />
<path d="M197.00,433.60h2.20 M197.80,429.69h1.40 M197.80,425.78h1.40 M197.00,421.86h2.20 M197.80,417.95h1.40 M197.80,414.04h1.40 M197.00,410.12h2.20 M197.80,406.21h1.40 M199.70,434.10v2.00 M203.57,434.10v1.30 M207.45,434.10v1.30 M211.32,434.10v2.00 M215.20,434.10v1.30 M219.07,434.10v1.30 M222.95,434.10v2.00 M226.82,434.10v1.30" stroke="#222" stroke-width="0.6"/>
<rect x="160.90" y="439.40" width="32.00" height="32.10" fill="#fff" />
<line x1="165.06" y1="439.40" x2="165.06" y2="471.50" stroke="#c9c9c9" stroke-width="0.6" />
<line x1="176.90" y1="439.40" x2="176.90" y2="471.50" stroke="#c9c9c9" stroke-width="0.6" />
<line x1="184.90" y1="439.40" x2="184.90" y2="471.50" stroke="#c9c9c9" stroke-width="0.6" />
<path d="M175.30,471.50 L176.05,470.98 L177.11,470.13 L178.18,468.61 L179.19,466.17 L180.19,463.06 L181.06,459.62 L181.70,455.60 L182.20,451.27 L182.66,447.75 L183.11,445.26 L183.53,443.60 L183.94,443.25 L184.38,444.67 L184.82,447.40 L185.22,450.63 L185.56,454.37 L185.87,458.60 L186.18,462.51 L186.54,466.05 L186.89,469.28 L187.14,471.50 Z" fill="#d6d6d6" fill-opacity="0.85" stroke="none"/>
<path d="M175.30,471.50 L176.05,470.98 L177.11,470.13 L178.18,468.61 L179.19,466.17 L180.19,463.06 L181.06,459.62 L181.70,455.60 L182.20,451.27 L182.66,447.75 L183.11,445.26 L183.53,443.60 L183.94,443.25 L184.38,444.67 L184.82,447.40 L185.22,450.63 L185.56,454.37 L185.87,458.60 L186.18,462.51 L186.54,466.05 L186.89,469.28 L187.14,471.50" fill="none" stroke="#111" stroke-width="0.9" stroke-linejoin="round"/>
<path d="M172.42,471.50 L173.19,470.98 L174.28,470.13 L175.30,468.61 L176.13,466.17 L176.89,463.06 L177.54,459.62 L178.04,455.65 L178.43,451.36 L178.82,447.75 L179.26,445.11 L179.70,443.14 L180.10,441.97 L180.44,441.65 L180.75,442.11 L181.06,443.25 L181.38,445.14 L181.70,447.71 L182.02,450.63 L182.34,454.05 L182.66,457.82 L182.98,461.23 L183.28,464.09 L183.57,466.60 L183.94,468.61 L184.49,470.01 L185.10,470.92 L185.54,471.50 Z" fill="#bc2c56" fill-opacity="0.66" stroke="none"/>
<path d="M172.42,471.50 L173.19,470.98 L174.28,470.13 L175.30,468.61 L176.13,466.17 L176.89,463.06 L177.54,459.62 L178.04,455.65 L178.43,451.36 L178.82,447.75 L179.26,445.11 L179.70,443.14 L180.10,441.97 L180.44,441.65 L180.75,442.11 L181.06,443.25 L181.38,445.14 L181.70,447.71 L182.02,450.63 L182.34,454.05 L182.66,457.82 L182.98,461.23 L183.28,464.09 L183.57,466.60 L183.94,468.61 L184.49,470.01 L185.10,470.92 L185.54,471.50" fill="none" stroke="#8a1535" stroke-width="0.85" stroke-linejoin="round"/>
<rect x="160.90" y="439.40" width="32.00" height="32.10" fill="none" stroke="#111" stroke-width="0.9" />
<path d="M158.70,471.00h2.20 M159.50,467.11h1.40 M159.50,463.23h1.40 M158.70,459.34h2.20 M159.50,455.45h1.40 M159.50,451.56h1.40 M158.70,447.68h2.20 M159.50,443.79h1.40 M161.40,471.50v2.00 M165.28,471.50v1.30 M169.15,471.50v1.30 M173.03,471.50v2.00 M176.90,471.50v1.30 M180.78,471.50v1.30 M184.65,471.50v2.00 M188.53,471.50v1.30" stroke="#222" stroke-width="0.6"/>
<rect x="199.20" y="439.40" width="32.00" height="32.10" fill="#fff" />
<line x1="203.36" y1="439.40" x2="203.36" y2="471.50" stroke="#c9c9c9" stroke-width="0.6" />
<line x1="215.20" y1="439.40" x2="215.20" y2="471.50" stroke="#c9c9c9" stroke-width="0.6" />
<line x1="223.20" y1="439.40" x2="223.20" y2="471.50" stroke="#c9c9c9" stroke-width="0.6" />
<path d="M212.00,471.50 L212.92,470.55 L214.24,469.10 L215.52,467.01 L216.68,463.96 L217.81,460.28 L218.72,456.73 L219.30,453.48 L219.67,450.36 L220.00,447.75 L220.33,445.63 L220.63,444.01 L220.96,443.25 L221.36,443.38 L221.80,444.37 L222.24,446.46 L222.67,450.22 L223.09,455.08 L223.52,459.62 L223.97,463.58 L224.42,467.22 L224.80,469.89 L225.08,471.13 L225.30,471.40 L225.44,471.50 Z" fill="#d6d6d6" fill-opacity="0.85" stroke="none"/>
<path d="M212.00,471.50 L212.92,470.55 L214.24,469.10 L215.52,467.01 L216.68,463.96 L217.81,460.28 L218.72,456.73 L219.30,453.48 L219.67,450.36 L220.00,447.75 L220.33,445.63 L220.63,444.01 L220.96,443.25 L221.36,443.38 L221.80,444.37 L222.24,446.46 L222.67,450.22 L223.09,455.08 L223.52,459.62 L223.97,463.58 L224.42,467.22 L224.80,469.89 L225.08,471.13 L225.30,471.40 L225.44,471.50" fill="none" stroke="#111" stroke-width="0.9" stroke-linejoin="round"/>
<path d="M210.40,471.50 L210.98,470.55 L211.81,469.10 L212.64,467.01 L213.41,463.96 L214.18,460.28 L214.88,456.73 L215.48,453.42 L216.02,450.24 L216.48,447.75 L216.82,446.16 L217.10,445.26 L217.44,444.86 L217.95,444.85 L218.53,445.33 L219.04,446.46 L219.38,448.39 L219.66,450.96 L220.00,453.85 L220.50,457.19 L221.07,460.85 L221.60,464.12 L222.07,466.85 L222.51,469.19 L222.88,470.86 L223.16,471.50 L223.38,471.50 L223.52,471.50 Z" fill="#bc2c56" fill-opacity="0.66" stroke="none"/>
<path d="M210.40,471.50 L210.98,470.55 L211.81,469.10 L212.64,467.01 L213.41,463.96 L214.18,460.28 L214.88,456.73 L215.48,453.42 L216.02,450.24 L216.48,447.75 L216.82,446.16 L217.10,445.26 L217.44,444.86 L217.95,444.85 L218.53,445.33 L219.04,446.46 L219.38,448.39 L219.66,450.96 L220.00,453.85 L220.50,457.19 L221.07,460.85 L221.60,464.12 L222.07,466.85 L222.51,469.19 L222.88,470.86 L223.16,471.50 L223.38,471.50 L223.52,471.50" fill="none" stroke="#8a1535" stroke-width="0.85" stroke-linejoin="round"/>
<rect x="199.20" y="439.40" width="32.00" height="32.10" fill="none" stroke="#111" stroke-width="0.9" />
<path d="M197.00,471.00h2.20 M197.80,467.11h1.40 M197.80,463.23h1.40 M197.00,459.34h2.20 M197.80,455.45h1.40 M197.80,451.56h1.40 M197.00,447.68h2.20 M197.80,443.79h1.40 M199.70,471.50v2.00 M203.57,471.50v1.30 M207.45,471.50v1.30 M211.32,471.50v2.00 M215.20,471.50v1.30 M219.07,471.50v1.30 M222.95,471.50v2.00 M226.82,471.50v1.30" stroke="#222" stroke-width="0.6"/>
<text x="176.90" y="359.30" font-size="6.5" fill="#222" text-anchor="middle" stroke="#222" stroke-width="0.1" >Vorinostat</text>
<text x="215.20" y="359.30" font-size="6.4" fill="#222" text-anchor="middle" stroke="#222" stroke-width="0.1" >shTRRAP</text>
<text x="233.00" y="381.80" font-size="6.2" fill="#222" stroke="#222" stroke-width="0.1" >BL−41</text>
<text x="233.00" y="421.00" font-size="6.2" fill="#222" stroke="#222" stroke-width="0.1" >CA−46</text>
<text x="233.00" y="459.00" font-size="6.2" fill="#222" stroke="#222" stroke-width="0.1" >Raji</text>
<text x="256.20" y="349.60" font-size="11.2" fill="#111" font-weight="bold" textLength="5.3" lengthAdjust="spacingAndGlyphs" stroke="#111" stroke-width="0.35">E</text>
<rect x="270.30" y="382.20" width="17.30" height="8.32" fill="#e4987a" stroke="#fff" stroke-width="0.55" />
<rect x="287.60" y="382.20" width="17.30" height="8.32" fill="#c4c4c8" stroke="#fff" stroke-width="0.55" />
<rect x="304.90" y="382.20" width="17.30" height="8.32" fill="#e07a5c" stroke="#fff" stroke-width="0.55" />
<rect x="270.30" y="390.52" width="17.30" height="8.32" fill="#e9a285" stroke="#fff" stroke-width="0.55" />
<rect x="287.60" y="390.52" width="17.30" height="8.32" fill="#eba688" stroke="#fff" stroke-width="0.55" />
<rect x="304.90" y="390.52" width="17.30" height="8.32" fill="#e07b5f" stroke="#fff" stroke-width="0.55" />
<rect x="270.30" y="398.84" width="17.30" height="8.32" fill="#f0b89a" stroke="#fff" stroke-width="0.55" />
<rect x="287.60" y="398.84" width="17.30" height="8.32" fill="#efb698" stroke="#fff" stroke-width="0.55" />
<rect x="304.90" y="398.84" width="17.30" height="8.32" fill="#eeb496" stroke="#fff" stroke-width="0.55" />
<rect x="270.30" y="407.15" width="17.30" height="8.32" fill="#e5987a" stroke="#fff" stroke-width="0.55" />
<rect x="287.60" y="407.15" width="17.30" height="8.32" fill="#d95540" stroke="#fff" stroke-width="0.55" />
<rect x="304.90" y="407.15" width="17.30" height="8.32" fill="#f0b294" stroke="#fff" stroke-width="0.55" />
<rect x="270.30" y="415.47" width="17.30" height="8.32" fill="#eeac90" stroke="#fff" stroke-width="0.55" />
<rect x="287.60" y="415.47" width="17.30" height="8.32" fill="#c4c4c8" stroke="#fff" stroke-width="0.55" />
<rect x="304.90" y="415.47" width="17.30" height="8.32" fill="#f1bca0" stroke="#fff" stroke-width="0.55" />
<rect x="270.30" y="423.79" width="17.30" height="8.32" fill="#cc2e3a" stroke="#fff" stroke-width="0.55" />
<rect x="287.60" y="423.79" width="17.30" height="8.32" fill="#c4c4c8" stroke="#fff" stroke-width="0.55" />
<rect x="304.90" y="423.79" width="17.30" height="8.32" fill="#f0b898" stroke="#fff" stroke-width="0.55" />
<rect x="270.30" y="432.11" width="17.30" height="8.32" fill="#a50f27" stroke="#fff" stroke-width="0.55" />
<rect x="287.60" y="432.11" width="17.30" height="8.32" fill="#b5182e" stroke="#fff" stroke-width="0.55" />
<rect x="304.90" y="432.11" width="17.30" height="8.32" fill="#6f0b22" stroke="#fff" stroke-width="0.55" />
<rect x="270.30" y="440.43" width="17.30" height="8.32" fill="#c52232" stroke="#fff" stroke-width="0.55" />
<rect x="287.60" y="440.43" width="17.30" height="8.32" fill="#c93a38" stroke="#fff" stroke-width="0.55" />
<rect x="304.90" y="440.43" width="17.30" height="8.32" fill="#a0102a" stroke="#fff" stroke-width="0.55" />
<rect x="270.30" y="448.74" width="17.30" height="8.32" fill="#b8d8ea" stroke="#fff" stroke-width="0.55" />
<rect x="287.60" y="448.74" width="17.30" height="8.32" fill="#c4c4c8" stroke="#fff" stroke-width="0.55" />
<rect x="304.90" y="448.74" width="17.30" height="8.32" fill="#c4c4c8" stroke="#fff" stroke-width="0.55" />
<rect x="270.30" y="457.06" width="17.30" height="8.32" fill="#5ba2d6" stroke="#fff" stroke-width="0.55" />
<rect x="287.60" y="457.06" width="17.30" height="8.32" fill="#c4c4c8" stroke="#fff" stroke-width="0.55" />
<rect x="304.90" y="457.06" width="17.30" height="8.32" fill="#c4c4c8" stroke="#fff" stroke-width="0.55" />
<rect x="270.30" y="465.38" width="17.30" height="8.32" fill="#3a7cc2" stroke="#fff" stroke-width="0.55" />
<rect x="287.60" y="465.38" width="17.30" height="8.32" fill="#1d4e96" stroke="#fff" stroke-width="0.55" />
<rect x="304.90" y="465.38" width="17.30" height="8.32" fill="#92c4e2" stroke="#fff" stroke-width="0.55" />
<text x="325.80" y="387.96" font-size="6.6" fill="#b23a5e" textLength="130.5" lengthAdjust="spacingAndGlyphs" stroke="#b23a5e" stroke-width="0.12">SENESE_HDAC1_AND_HDAC2_TARGETS_UP</text>
<text x="325.80" y="396.28" font-size="6.6" fill="#b23a5e" textLength="89.2" lengthAdjust="spacingAndGlyphs" stroke="#b23a5e" stroke-width="0.12">SENESE_HDAC3_TARGETS_UP</text>
<text x="325.80" y="404.60" font-size="6.6" fill="#222" textLength="86.2" lengthAdjust="spacingAndGlyphs" stroke="#222" stroke-width="0.12">PID_HDAC_CLASSI_PATHWAY</text>
<text x="325.80" y="412.91" font-size="6.6" fill="#222" textLength="164.2" lengthAdjust="spacingAndGlyphs" stroke="#222" stroke-width="0.12">PELLICCIOTTA_HDAC_IN_ANTIGEN_PRESENTATION_UP</text>
<text x="325.80" y="421.23" font-size="6.6" fill="#b23a5e" textLength="89.2" lengthAdjust="spacingAndGlyphs" stroke="#b23a5e" stroke-width="0.12">SENESE_HDAC1_TARGETS_UP</text>
<text x="325.80" y="429.55" font-size="6.6" fill="#222" textLength="95.4" lengthAdjust="spacingAndGlyphs" stroke="#222" stroke-width="0.12">KASLER_HDAC7_TARGETS_1_UP</text>
<text x="325.80" y="437.87" font-size="6.6" fill="#222" textLength="176.4" lengthAdjust="spacingAndGlyphs" stroke="#222" stroke-width="0.12">HELLER_HDAC_TARGETS_SILENCED_BY_METHYLATION_UP</text>
<text x="325.80" y="446.19" font-size="6.6" fill="#222" textLength="84.6" lengthAdjust="spacingAndGlyphs" stroke="#222" stroke-width="0.12">HELLER_HDAC_TARGETS_UP</text>
<text x="325.80" y="454.50" font-size="6.6" fill="#b23a5e" textLength="90.4" lengthAdjust="spacingAndGlyphs" stroke="#b23a5e" stroke-width="0.12">SENESE_HDAC1_TARGETS_DN</text>
<text x="325.80" y="462.82" font-size="6.6" fill="#222" textLength="177.4" lengthAdjust="spacingAndGlyphs" stroke="#222" stroke-width="0.12">HELLER_HDAC_TARGETS_SILENCED_BY_METHYLATION_DN</text>
<text x="325.80" y="471.14" font-size="6.6" fill="#222" textLength="134.5" lengthAdjust="spacingAndGlyphs" stroke="#222" stroke-width="0.12">PEART_HDAC_PROLIFERATION_CLUSTER_DN</text>
<text x="280.00" y="380.40" font-size="6.4" fill="#a8193f" textLength="22.5" lengthAdjust="spacingAndGlyphs" transform="rotate(-45 280.00 380.40)" stroke="#a8193f" stroke-width="0.1" >mutp53</text>
<text x="297.00" y="380.40" font-size="6.4" fill="#8db565" textLength="18.5" lengthAdjust="spacingAndGlyphs" transform="rotate(-45 297.00 380.40)" stroke="#8db565" stroke-width="0.1" >wtp53</text>
<text x="314.0" y="380.8" font-size="6.4" fill="#333" stroke="#333" stroke-width="0.1" transform="rotate(-45 314.0 380.8)">p53<tspan font-size="5" dy="-2.2">ko</tspan></text>
<path d="M270.00,386.36H268.90V394.68H270.00 M270.00,403.00H268.90V411.31H270.00 M268.90,390.52H268.20V407.15H268.90 M270.00,419.63H267.60V398.84H268.20 M270.00,427.95H266.80V411.31H267.60 M270.00,436.27H268.00V444.58H270.00 M266.80,419.63H263.60V440.43H268.00 M270.00,461.22H268.20V469.54H270.00 M270.00,452.90H265.80V465.38H268.20 M263.60,428.45H255.70V459.06H265.80" stroke="#111" stroke-width="0.8" fill="none"/>
<text x="509.60" y="366.60" font-size="6.8" fill="#222" text-anchor="end" textLength="25.4" lengthAdjust="spacingAndGlyphs" stroke="#222" stroke-width="0.1" >Gene set</text>
<text x="509.60" y="374.20" font-size="6.8" fill="#222" text-anchor="end" textLength="48.5" lengthAdjust="spacingAndGlyphs" stroke="#222" stroke-width="0.1" >enrichment score</text>
<defs><linearGradient id="gE" x1="0" y1="0" x2="0" y2="1"><stop offset="0" stop-color="#67001f"/><stop offset="0.25" stop-color="#d6604d"/><stop offset="0.5" stop-color="#f7f7f7"/><stop offset="0.75" stop-color="#4393c3"/><stop offset="1" stop-color="#053061"/></linearGradient></defs>
<rect x="503.90" y="376.50" width="4.80" height="27.70" fill="url(#gE)" />
<text x="501.40" y="380.10" font-size="5.4" fill="#666" text-anchor="end" stroke="#666" stroke-width="0.1" >10</text>
<text x="501.40" y="385.80" font-size="5.4" fill="#666" text-anchor="end" stroke="#666" stroke-width="0.1" >5</text>
<text x="501.40" y="392.30" font-size="5.4" fill="#666" text-anchor="end" stroke="#666" stroke-width="0.1" >0</text>
<text x="501.40" y="398.80" font-size="5.4" fill="#666" text-anchor="end" stroke="#666" stroke-width="0.1" >−5</text>
<text x="501.40" y="404.50" font-size="5.4" fill="#666" text-anchor="end" stroke="#666" stroke-width="0.1" >−10</text>
<text x="10.80" y="503.90" font-size="11.2" fill="#111" font-weight="bold" textLength="5.5" lengthAdjust="spacingAndGlyphs" stroke="#111" stroke-width="0.35">F</text>
<defs><filter id="bl" x="-30%" y="-80%" width="160%" height="260%"><feGaussianBlur stdDeviation="0.9"/></filter><filter id="bl2" x="-30%" y="-80%" width="160%" height="260%"><feGaussianBlur stdDeviation="0.75"/></filter></defs>
<text x="66.80" y="510.30" font-size="6.5" fill="#111" text-anchor="middle" font-weight="bold" >input</text>
<line x1="16.80" y1="515.00" x2="116.60" y2="515.00" stroke="#333" stroke-width="1.0" />
<text x="141.40" y="510.30" font-size="6.5" fill="#111" text-anchor="middle" font-weight="bold" >IP IgG</text>
<line x1="121.00" y1="515.00" x2="161.90" y2="515.00" stroke="#333" stroke-width="1.0" />
<text x="219.60" y="510.30" font-size="6.5" fill="#111" text-anchor="middle" font-weight="bold" >IP p53</text>
<line x1="181.10" y1="515.00" x2="263.80" y2="515.00" stroke="#333" stroke-width="1.0" />
<text x="280.00" y="540.40" font-size="6.5" fill="#111" text-anchor="middle" font-weight="bold" >beads</text>
<line x1="266.30" y1="545.50" x2="293.30" y2="545.50" stroke="#444" stroke-width="1.0" />
<text x="269.00" y="555.40" font-size="6.0" fill="#333" stroke="#333" stroke-width="0.1" >IgG</text>
<text x="281.70" y="555.40" font-size="6.0" fill="#333" stroke="#333" stroke-width="0.1" >p53</text>
<text x="36.20" y="555.70" font-size="7.0" fill="#333" textLength="14.7" lengthAdjust="spacingAndGlyphs" transform="rotate(-90 36.20 555.70)" stroke="#333" stroke-width="0.1" >shNT</text>
<text x="49.10" y="555.70" font-size="7.0" fill="#333" textLength="27.7" lengthAdjust="spacingAndGlyphs" transform="rotate(-90 49.10 555.70)" stroke="#333" stroke-width="0.1" >shTRRAP</text>
<text x="63.80" y="555.70" font-size="7.0" fill="#333" textLength="19.9" lengthAdjust="spacingAndGlyphs" transform="rotate(-90 63.80 555.70)" stroke="#333" stroke-width="0.1" >DMSO</text>
<text x="77.70" y="555.70" font-size="7.0" fill="#333" textLength="29.5" lengthAdjust="spacingAndGlyphs" transform="rotate(-90 77.70 555.70)" stroke="#333" stroke-width="0.1" >Vorinostat</text>
<text x="91.50" y="555.70" font-size="7.0" fill="#333" textLength="29.5" lengthAdjust="spacingAndGlyphs" transform="rotate(-90 91.50 555.70)" stroke="#333" stroke-width="0.1" >Entinostat</text>
<text x="108.00" y="555.70" font-size="7.0" fill="#333" textLength="37.2" lengthAdjust="spacingAndGlyphs" transform="rotate(-90 108.00 555.70)" stroke="#333" stroke-width="0.1" >Mocetinostat</text>
<text x="131.90" y="555.70" font-size="7.0" fill="#333" textLength="14.7" lengthAdjust="spacingAndGlyphs" transform="rotate(-90 131.90 555.70)" stroke="#333" stroke-width="0.1" >shNT</text>
<text x="146.30" y="555.70" font-size="7.0" fill="#333" textLength="27.7" lengthAdjust="spacingAndGlyphs" transform="rotate(-90 146.30 555.70)" stroke="#333" stroke-width="0.1" >shTRRAP</text>
<text x="160.80" y="555.70" font-size="7.0" fill="#333" textLength="19.9" lengthAdjust="spacingAndGlyphs" transform="rotate(-90 160.80 555.70)" stroke="#333" stroke-width="0.1" >DMSO</text>
<text x="187.20" y="555.70" font-size="7.0" fill="#333" textLength="14.7" lengthAdjust="spacingAndGlyphs" transform="rotate(-90 187.20 555.70)" stroke="#333" stroke-width="0.1" >shNT</text>
<text x="201.60" y="555.70" font-size="7.0" fill="#333" textLength="27.7" lengthAdjust="spacingAndGlyphs" transform="rotate(-90 201.60 555.70)" stroke="#333" stroke-width="0.1" >shTRRAP</text>
<text x="217.30" y="555.70" font-size="7.0" fill="#333" textLength="19.9" lengthAdjust="spacingAndGlyphs" transform="rotate(-90 217.30 555.70)" stroke="#333" stroke-width="0.1" >DMSO</text>
<text x="231.70" y="555.70" font-size="7.0" fill="#333" textLength="29.5" lengthAdjust="spacingAndGlyphs" transform="rotate(-90 231.70 555.70)" stroke="#333" stroke-width="0.1" >Vorinostat</text>
<text x="246.20" y="555.70" font-size="7.0" fill="#333" textLength="29.5" lengthAdjust="spacingAndGlyphs" transform="rotate(-90 246.20 555.70)" stroke="#333" stroke-width="0.1" >Entinostat</text>
<text x="262.00" y="555.70" font-size="7.0" fill="#333" textLength="37.2" lengthAdjust="spacingAndGlyphs" transform="rotate(-90 262.00 555.70)" stroke="#333" stroke-width="0.1" >Mocetinostat</text>
<rect x="16.30" y="559.70" width="101.50" height="21.20" fill="#f9f9f9" />
<rect x="25.00" y="564.10" width="13.50" height="7.00" rx="3.50" fill="#000" filter="url(#bl2)"/>
<rect x="39.40" y="565.60" width="12.80" height="5.20" rx="2.60" fill="#181818" filter="url(#bl2)"/>
<rect x="54.00" y="566.10" width="11.80" height="5.40" rx="2.70" fill="#101010" filter="url(#bl2)"/>
<rect x="68.60" y="568.00" width="11.90" height="4.00" rx="2.00" fill="#5a5a5a" filter="url(#bl2)"/>
<rect x="82.60" y="568.00" width="12.40" height="4.00" rx="2.00" fill="#4a4a4a" filter="url(#bl2)"/>
<rect x="97.80" y="568.00" width="12.80" height="4.00" rx="2.00" fill="#4e4e4e" filter="url(#bl2)"/>
<rect x="16.30" y="559.70" width="101.50" height="21.20" fill="none" stroke="#111" stroke-width="1.0" />
<rect x="16.30" y="626.40" width="101.50" height="21.00" fill="#f9f9f9" />
<rect x="24.80" y="631.30" width="12.90" height="6.20" rx="3.10" fill="#0a0a0a" filter="url(#bl)"/>
<rect x="38.50" y="631.90" width="13.20" height="6.20" rx="3.10" fill="#0a0a0a" filter="url(#bl)"/>
<rect x="53.40" y="632.90" width="12.70" height="6.20" rx="3.10" fill="#0a0a0a" filter="url(#bl)"/>
<rect x="68.00" y="633.10" width="12.50" height="6.20" rx="3.10" fill="#0a0a0a" filter="url(#bl)"/>
<rect x="82.20" y="632.90" width="12.80" height="6.20" rx="3.10" fill="#0a0a0a" filter="url(#bl)"/>
<rect x="97.40" y="632.90" width="13.60" height="6.20" rx="3.10" fill="#0a0a0a" filter="url(#bl)"/>
<rect x="16.30" y="626.40" width="101.50" height="21.00" fill="none" stroke="#111" stroke-width="1.0" />
<rect x="121.00" y="559.70" width="186.20" height="20.80" fill="#f9f9f9" />
<rect x="125.00" y="569.20" width="9.00" height="2.60" rx="1.30" fill="#e2e2e2" filter="url(#bl2)"/>
<rect x="139.00" y="569.20" width="9.00" height="2.60" rx="1.30" fill="#e2e2e2" filter="url(#bl2)"/>
<rect x="153.50" y="569.20" width="9.00" height="2.60" rx="1.30" fill="#e2e2e2" filter="url(#bl2)"/>
<rect x="170.30" y="570.60" width="2.40" height="2.20" rx="1.10" fill="#777" filter="url(#bl2)"/>
<rect x="179.40" y="566.20" width="12.90" height="8.40" rx="4.20" fill="#000" filter="url(#bl2)"/>
<rect x="194.00" y="567.40" width="11.80" height="5.20" rx="2.60" fill="#151515" filter="url(#bl2)"/>
<rect x="208.50" y="567.10" width="12.50" height="5.40" rx="2.70" fill="#0c0c0c" filter="url(#bl2)"/>
<rect x="223.80" y="567.40" width="12.50" height="5.20" rx="2.60" fill="#0c0c0c" filter="url(#bl2)"/>
<rect x="239.20" y="567.30" width="12.50" height="5.40" rx="2.70" fill="#0a0a0a" filter="url(#bl2)"/>
<rect x="254.60" y="567.30" width="11.40" height="5.40" rx="2.70" fill="#0a0a0a" filter="url(#bl2)"/>
<rect x="270.00" y="569.20" width="5.50" height="2.60" rx="1.30" fill="#d0d0d0" filter="url(#bl2)"/>
<rect x="121.00" y="559.70" width="186.20" height="20.80" fill="none" stroke="#111" stroke-width="1.0" />
<rect x="121.00" y="586.50" width="186.50" height="34.50" fill="#f9f9f9" />
<rect x="124.60" y="602.50" width="9.00" height="2.40" rx="1.20" fill="#c6c6c6" filter="url(#bl2)"/>
<rect x="139.00" y="602.50" width="9.00" height="2.40" rx="1.20" fill="#c6c6c6" filter="url(#bl2)"/>
<rect x="153.50" y="602.50" width="9.00" height="2.40" rx="1.20" fill="#c6c6c6" filter="url(#bl2)"/>
<rect x="164.8" y="592.9" width="12.8" height="13.3" rx="5" fill="#666" filter="url(#bl2)"/>
<rect x="167.0" y="595.3" width="8.4" height="8.4" rx="3" fill="#9a9a9a" filter="url(#bl2)"/>
<rect x="167.0" y="598.4" width="8.4" height="2.2" rx="1" fill="#b4b4b4" filter="url(#bl2)"/>
<rect x="179.00" y="600.20" width="12.70" height="2.80" rx="1.40" fill="#8a8a8a" filter="url(#bl2)"/>
<rect x="179.00" y="608.40" width="12.70" height="6.00" rx="3.00" fill="#000" filter="url(#bl2)"/>
<rect x="193.90" y="600.20" width="10.60" height="2.80" rx="1.40" fill="#9a9a9a" filter="url(#bl2)"/>
<rect x="193.90" y="608.80" width="10.60" height="4.20" rx="2.10" fill="#6a6a6a" filter="url(#bl2)"/>
<rect x="209.50" y="600.20" width="10.50" height="2.80" rx="1.40" fill="#8e8e8e" filter="url(#bl2)"/>
<rect x="209.50" y="608.30" width="10.50" height="4.20" rx="2.10" fill="#1e1e1e" filter="url(#bl2)"/>
<rect x="224.40" y="600.20" width="11.00" height="2.80" rx="1.40" fill="#bdbdbd" filter="url(#bl2)"/>
<rect x="224.40" y="608.80" width="11.00" height="3.20" rx="1.60" fill="#9a9a9a" filter="url(#bl2)"/>
<rect x="239.50" y="600.20" width="11.50" height="2.80" rx="1.40" fill="#9a9a9a" filter="url(#bl2)"/>
<rect x="239.50" y="608.60" width="11.50" height="3.60" rx="1.80" fill="#6a6a6a" filter="url(#bl2)"/>
<rect x="254.30" y="600.20" width="10.70" height="2.80" rx="1.40" fill="#9a9a9a" filter="url(#bl2)"/>
<rect x="254.30" y="608.60" width="10.70" height="3.60" rx="1.80" fill="#6e6e6e" filter="url(#bl2)"/>
<rect x="270.00" y="609.70" width="5.50" height="2.20" rx="1.10" fill="#d8d8d8" filter="url(#bl2)"/>
<rect x="296.60" y="596.00" width="9.80" height="9.00" rx="4.50" fill="#e4e4e4" filter="url(#bl2)"/>
<rect x="296.60" y="588.65" width="9.80" height="3.50" rx="1.75" fill="#777" filter="url(#bl2)"/>
<rect x="296.40" y="591.50" width="10.00" height="5.00" rx="2.50" fill="#000" filter="url(#bl2)"/>
<rect x="121.00" y="586.50" width="186.50" height="34.50" fill="none" stroke="#111" stroke-width="1.0" />
<line x1="53.40" y1="520.00" x2="53.40" y2="581.30" stroke="#000" stroke-width="0.9" stroke-dasharray="1.7,1.3"/>
<line x1="207.50" y1="521.30" x2="207.50" y2="621.00" stroke="#000" stroke-width="0.9" stroke-dasharray="1.7,1.3"/>
<text x="312.20" y="573.00" font-size="6.6" fill="#111" font-weight="bold" textLength="12.1" lengthAdjust="spacingAndGlyphs" >p53</text>
<line x1="307.50" y1="593.70" x2="313.30" y2="593.70" stroke="#000" stroke-width="0.8" />
<line x1="307.50" y1="610.20" x2="313.30" y2="610.20" stroke="#000" stroke-width="0.8" />
<text x="315.40" y="595.80" font-size="6.0" fill="#111" font-weight="bold" >Ac-BSA</text>
<text x="315.40" y="612.30" font-size="6.0" fill="#111" font-weight="bold" >Ac-p53</text>
<circle cx="310.4" cy="602.6" r="0.95" fill="#111"/>
<text x="121.60" y="640.40" font-size="6.5" fill="#111" font-weight="bold" textLength="22.6" lengthAdjust="spacingAndGlyphs" >GAPDH</text>
<text x="64.60" y="657.20" font-size="6.5" fill="#111" text-anchor="middle" font-weight="bold" textLength="28" lengthAdjust="spacingAndGlyphs" >Namalwa</text>
<rect x="368.00" y="505.20" width="68.30" height="16.40" fill="#d3d3d3" stroke="#222" stroke-width="0.9" />
<text x="402.15" y="511.20" font-size="6.5" fill="#222" text-anchor="middle" textLength="39" lengthAdjust="spacingAndGlyphs" stroke="#222" stroke-width="0.1" >total p53 level</text>
<text x="402.15" y="518.80" font-size="6.5" fill="#222" text-anchor="middle" stroke="#222" stroke-width="0.1" >(input samples)</text>
<rect x="368.00" y="521.60" width="68.30" height="71.00" fill="#fff" />
<rect x="370.20" y="525.40" width="8.10" height="64.20" fill="#333333" />
<rect x="381.30" y="553.01" width="8.10" height="36.59" fill="#c0504a" />
<rect x="393.10" y="525.40" width="8.10" height="64.20" fill="#333333" />
<rect x="403.50" y="554.93" width="8.10" height="34.67" fill="#b00f30" />
<rect x="414.40" y="556.86" width="8.10" height="32.74" fill="#d08880" />
<rect x="425.40" y="561.99" width="8.10" height="27.61" fill="#e8c4bc" />
<rect x="368.00" y="521.60" width="68.30" height="71.00" fill="none" stroke="#222" stroke-width="1.0" />
<line x1="391.00" y1="521.60" x2="391.00" y2="629.80" stroke="#000" stroke-width="0.9" stroke-dasharray="1.7,1.3"/>
<line x1="374.25" y1="592.60" x2="374.25" y2="594.60" stroke="#000" stroke-width="0.7" />
<line x1="385.35" y1="592.60" x2="385.35" y2="594.60" stroke="#000" stroke-width="0.7" />
<line x1="397.15" y1="592.60" x2="397.15" y2="594.60" stroke="#000" stroke-width="0.7" />
<line x1="407.55" y1="592.60" x2="407.55" y2="594.60" stroke="#000" stroke-width="0.7" />
<line x1="418.45" y1="592.60" x2="418.45" y2="594.60" stroke="#000" stroke-width="0.7" />
<line x1="429.45" y1="592.60" x2="429.45" y2="594.60" stroke="#000" stroke-width="0.7" />
<text x="376.80" y="599.40" font-size="7.0" fill="#333" text-anchor="end" textLength="13.7" lengthAdjust="spacingAndGlyphs" transform="rotate(-90 376.80 599.40)" stroke="#333" stroke-width="0.1" >shNT</text>
<text x="387.90" y="599.40" font-size="7.0" fill="#333" text-anchor="end" textLength="25.2" lengthAdjust="spacingAndGlyphs" transform="rotate(-90 387.90 599.40)" stroke="#333" stroke-width="0.1" >shTRRAP</text>
<text x="399.70" y="599.40" font-size="7.0" fill="#333" text-anchor="end" textLength="18.8" lengthAdjust="spacingAndGlyphs" transform="rotate(-90 399.70 599.40)" stroke="#333" stroke-width="0.1" >DMSO</text>
<text x="410.10" y="599.40" font-size="7.0" fill="#333" text-anchor="end" textLength="28.4" lengthAdjust="spacingAndGlyphs" transform="rotate(-90 410.10 599.40)" stroke="#333" stroke-width="0.1" >Vorinostat</text>
<text x="421.00" y="599.40" font-size="7.0" fill="#333" text-anchor="end" textLength="28.1" lengthAdjust="spacingAndGlyphs" transform="rotate(-90 421.00 599.40)" stroke="#333" stroke-width="0.1" >Entinostat</text>
<text x="432.00" y="599.40" font-size="7.0" fill="#333" text-anchor="end" textLength="37.5" lengthAdjust="spacingAndGlyphs" transform="rotate(-90 432.00 599.40)" stroke="#333" stroke-width="0.1" >Mocetinostat</text>
<rect x="438.50" y="505.20" width="67.90" height="16.40" fill="#d3d3d3" stroke="#222" stroke-width="0.9" />
<text x="472.45" y="511.20" font-size="6.5" fill="#222" text-anchor="middle" textLength="65" lengthAdjust="spacingAndGlyphs" stroke="#222" stroke-width="0.1" >ratio Ac−p53/total p53</text>
<text x="472.45" y="518.80" font-size="6.5" fill="#222" text-anchor="middle" stroke="#222" stroke-width="0.1" >(IP samples)</text>
<rect x="438.50" y="521.60" width="67.90" height="71.00" fill="#fff" />
<rect x="441.00" y="525.40" width="8.10" height="64.20" fill="#333333" />
<rect x="451.80" y="546.59" width="8.10" height="43.01" fill="#c0504a" />
<rect x="462.90" y="525.40" width="8.10" height="64.20" fill="#333333" />
<rect x="473.80" y="565.20" width="8.10" height="24.40" fill="#b00f30" />
<rect x="484.60" y="551.72" width="8.10" height="37.88" fill="#d08880" />
<rect x="495.80" y="557.50" width="8.10" height="32.10" fill="#e8c4bc" />
<rect x="438.50" y="521.60" width="67.90" height="71.00" fill="none" stroke="#222" stroke-width="1.0" />
<line x1="461.40" y1="521.60" x2="461.40" y2="629.80" stroke="#000" stroke-width="0.9" stroke-dasharray="1.7,1.3"/>
<line x1="445.05" y1="592.60" x2="445.05" y2="594.60" stroke="#000" stroke-width="0.7" />
<line x1="455.85" y1="592.60" x2="455.85" y2="594.60" stroke="#000" stroke-width="0.7" />
<line x1="466.95" y1="592.60" x2="466.95" y2="594.60" stroke="#000" stroke-width="0.7" />
<line x1="477.85" y1="592.60" x2="477.85" y2="594.60" stroke="#000" stroke-width="0.7" />
<line x1="488.65" y1="592.60" x2="488.65" y2="594.60" stroke="#000" stroke-width="0.7" />
<line x1="499.85" y1="592.60" x2="499.85" y2="594.60" stroke="#000" stroke-width="0.7" />
<text x="447.60" y="599.40" font-size="7.0" fill="#333" text-anchor="end" textLength="13.7" lengthAdjust="spacingAndGlyphs" transform="rotate(-90 447.60 599.40)" stroke="#333" stroke-width="0.1" >shNT</text>
<text x="458.40" y="599.40" font-size="7.0" fill="#333" text-anchor="end" textLength="25.2" lengthAdjust="spacingAndGlyphs" transform="rotate(-90 458.40 599.40)" stroke="#333" stroke-width="0.1" >shTRRAP</text>
<text x="469.50" y="599.40" font-size="7.0" fill="#333" text-anchor="end" textLength="18.8" lengthAdjust="spacingAndGlyphs" transform="rotate(-90 469.50 599.40)" stroke="#333" stroke-width="0.1" >DMSO</text>
<text x="480.40" y="599.40" font-size="7.0" fill="#333" text-anchor="end" textLength="28.4" lengthAdjust="spacingAndGlyphs" transform="rotate(-90 480.40 599.40)" stroke="#333" stroke-width="0.1" >Vorinostat</text>
<text x="491.20" y="599.40" font-size="7.0" fill="#333" text-anchor="end" textLength="28.1" lengthAdjust="spacingAndGlyphs" transform="rotate(-90 491.20 599.40)" stroke="#333" stroke-width="0.1" >Entinostat</text>
<text x="502.40" y="599.40" font-size="7.0" fill="#333" text-anchor="end" textLength="37.5" lengthAdjust="spacingAndGlyphs" transform="rotate(-90 502.40 599.40)" stroke="#333" stroke-width="0.1" >Mocetinostat</text>
<text x="362.40" y="527.70" font-size="6.5" fill="#333" text-anchor="end" stroke="#333" stroke-width="0.1" >1.00</text>
<line x1="364.00" y1="525.40" x2="368.00" y2="525.40" stroke="#000" stroke-width="1.0" />
<text x="362.40" y="543.80" font-size="6.5" fill="#333" text-anchor="end" stroke="#333" stroke-width="0.1" >0.75</text>
<line x1="364.00" y1="541.50" x2="368.00" y2="541.50" stroke="#000" stroke-width="1.0" />
<text x="362.40" y="559.40" font-size="6.5" fill="#333" text-anchor="end" stroke="#333" stroke-width="0.1" >0.50</text>
<line x1="364.00" y1="557.10" x2="368.00" y2="557.10" stroke="#000" stroke-width="1.0" />
<text x="362.40" y="575.90" font-size="6.5" fill="#333" text-anchor="end" stroke="#333" stroke-width="0.1" >0.25</text>
<line x1="364.00" y1="573.60" x2="368.00" y2="573.60" stroke="#000" stroke-width="1.0" />
<text x="362.40" y="591.90" font-size="6.5" fill="#333" text-anchor="end" stroke="#333" stroke-width="0.1" >0.00</text>
<line x1="364.00" y1="589.60" x2="368.00" y2="589.60" stroke="#000" stroke-width="1.0" />
<rect x="0.6" y="0.6" width="518.8" height="662.8" fill="none" stroke="#000" stroke-width="1.3"/>
</svg>
</body></html>
